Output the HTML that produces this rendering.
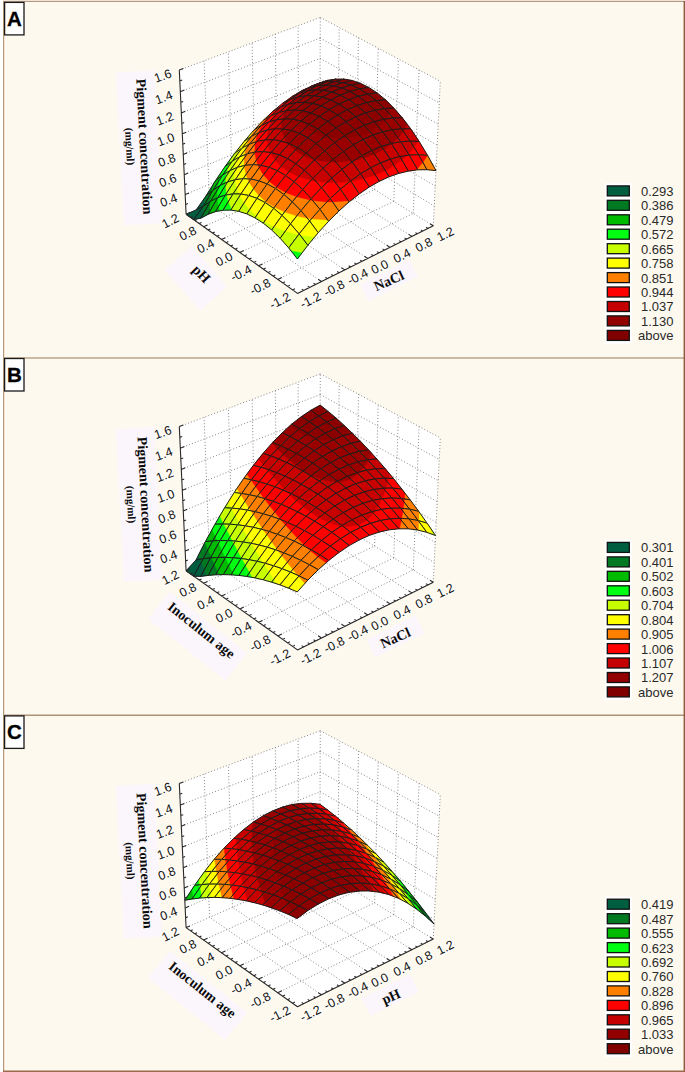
<!DOCTYPE html>
<html><head><meta charset="utf-8"><style>
html,body{margin:0;padding:0;background:#fff}
body{width:685px;height:1072px;overflow:hidden;position:relative}
svg{position:absolute;left:0;top:0}
.d{stroke:#888;stroke-width:1;stroke-dasharray:1 2.1;fill:none}
.a{stroke:#2a2a2a;stroke-width:1.1;fill:none}
.m{fill:none;stroke:#1c1c1c;stroke-width:1;stroke-linejoin:round}
.lb{fill:#FAF6FC}
.tl{font-family:"Liberation Sans",sans-serif;font-size:12.5px;fill:#111;paint-order:stroke;stroke:#fffefa;stroke-width:3px;stroke-linejoin:round;stroke-opacity:.8}
.lg{font-family:"Liberation Sans",sans-serif;font-size:13px;fill:#2a2a2a}
.ax1{font-family:"Liberation Serif",serif;font-weight:bold;font-size:14px;fill:#0a0a0a}
.ax2{font-family:"Liberation Serif",serif;font-weight:bold;font-size:11px;fill:#0a0a0a}
.lab{font-family:"Liberation Sans",sans-serif;font-weight:bold;font-size:20.5px;fill:#000;stroke:#000;stroke-width:.3}
.c0{fill:#005E40;stroke:#005E40;stroke-width:.3}.c1{fill:#007A22;stroke:#007A22;stroke-width:.3}.c2{fill:#00BB00;stroke:#00BB00;stroke-width:.3}.c3{fill:#00FF12;stroke:#00FF12;stroke-width:.3}.c4{fill:#C8FF00;stroke:#C8FF00;stroke-width:.3}.c5{fill:#FFFF00;stroke:#FFFF00;stroke-width:.3}.c6{fill:#FF8000;stroke:#FF8000;stroke-width:.3}.c7{fill:#FF0000;stroke:#FF0000;stroke-width:.3}.c8{fill:#C80000;stroke:#C80000;stroke-width:.3}.c9{fill:#9A0000;stroke:#9A0000;stroke-width:.3}.c10{fill:#8C0000;stroke:#8C0000;stroke-width:.3}.l0{fill:#005E40}.l1{fill:#007A22}.l2{fill:#00BB00}.l3{fill:#00FF12}.l4{fill:#C8FF00}.l5{fill:#FFFF00}.l6{fill:#FF8000}.l7{fill:#FF0000}.l8{fill:#C40000}.l9{fill:#930000}.l10{fill:#800000}
</style></head><body>
<svg width="685" height="1072" viewBox="0 0 685 1072">
<rect x="0" y="0" width="685" height="1072" fill="#fff"/>
<rect x="3.5" y="1.5" width="680.5" height="1069.5" fill="#FEF9EE"/>
<path d="M3.6 1V1072M3 1.3H685" stroke="#B8987A" stroke-width="1.2" fill="none"/>
<line x1="3" y1="357.9" x2="684" y2="357.9" stroke="#BBA68A" stroke-width="1.5"/>
<line x1="3" y1="715.2" x2="684" y2="715.2" stroke="#AE9474" stroke-width="1.5"/>
<line x1="684.3" y1="1" x2="684.3" y2="1072" stroke="#8E5B3D" stroke-width="1.4"/>
<line x1="3" y1="1071.3" x2="685" y2="1071.3" stroke="#9A6A4A" stroke-width="1.4"/>
<rect class="lb" x="119.8" y="71.3" width="38.5" height="153.0" transform="rotate(-3 139.0 147.8)"/>
<rect class="lb" x="169.0" y="260.3" width="54.0" height="36.0" transform="rotate(49 196.0 278.3)"/>
<rect class="lb" x="361.5" y="270.9" width="55.0" height="19.0" transform="rotate(-26.5 389.0 280.4)"/>
<path fill="#fff" d="M186.1 214.3L179.3 70.1L320.3 17.4L440.3 81.3L433.3 225.8L297.5 293.4Z"/>
<path class="d" d="M433.3 225.8L440.3 81.3M297.5 293.4L186.1 214.3M297.5 293.4L433.3 225.8M209.6 204L204.1 60.8M413.3 213.4L419.1 70M321.4 281.5L209.6 204M277.8 279.4L413.3 213.4M232.5 194L228.4 51.8M393.8 201.4L398.4 59M344.8 269.9L232.5 194M258.6 265.8L393.8 201.4M255 184.1L252.1 42.9M374.6 189.6L378.2 48.2M367.7 258.5L255 184.1M239.9 252.5L374.6 189.6M277 174.5L275.3 34.2M355.9 178L358.5 37.7M390 247.4L277 174.5M221.5 239.4L355.9 178M298.6 165L298.1 25.7M337.6 166.8L339.2 27.5M411.9 236.4L298.6 165M203.6 226.7L337.6 166.8M319.7 155.7L320.3 17.4M433.3 225.8L319.7 155.7M186.1 214.3L319.7 155.7M185.2 194.6L319.8 136.8M319.8 136.8L434.3 206.1M184.3 174.7L319.9 117.6M319.9 117.6L435.3 186.1M183.3 154.4L320 98.2M320 98.2L436.2 165.8M182.3 133.8L320.1 78.4M320.1 78.4L437.2 145.1M181.3 112.9L320.1 58.4M320.1 58.4L438.3 124.2M180.3 91.7L320.2 38.1M320.2 38.1L439.3 102.9M179.3 70.1L320.3 17.4M320.3 17.4L440.3 81.3"/>
<g><path class="c8" d="M318.6 83.5L327.9 80.3L320 82.8L310.8 86.4Z"/><path class="m" d="M318.6 83.5L327.9 80.3L320 82.8L310.8 86.4Z"/>
<path class="c8" d="M309.3 87.8L318.6 83.5L310.8 86.4L301.4 90.9Z"/><path class="m" d="M309.3 87.8L318.6 83.5L310.8 86.4L301.4 90.9Z"/>
<path class="c8" d="M326.6 81.9L335.9 79.1L327.9 80.3L318.6 83.5Z"/><path class="c9" d="M326.6 81.9L335.9 79.1L329.5 80.1L319.3 83.4Z"/><path class="m" d="M326.6 81.9L335.9 79.1L327.9 80.3L318.6 83.5Z"/>
<path class="c7" d="M299.8 93.1L309.3 87.8L301.4 90.9L292 96.6Z"/><path class="c8" d="M299.8 93.1L309.3 87.8L301.4 90.9L298.6 92.7L293.3 96.1Z"/><path class="m" d="M299.8 93.1L309.3 87.8L301.4 90.9L292 96.6Z"/>
<path class="c8" d="M317.2 85.8L326.6 81.9L318.6 83.5L309.3 87.8Z"/><path class="c9" d="M317.2 85.8L326.6 81.9L319.3 83.4L310.5 87.5Z"/><path class="m" d="M317.2 85.8L326.6 81.9L318.6 83.5L309.3 87.8Z"/>
<path class="c9" d="M334.7 81.6L344 79.1L335.9 79.1L326.6 81.9Z"/><path class="c10" d="M334.7 81.6L341.9 79.7L333 81.7Z"/><path class="m" d="M334.7 81.6L344 79.1L335.9 79.1L326.6 81.9Z"/>
<path class="c7" d="M290.3 99.5L299.8 93.1L292 96.6L282.5 103.4Z"/><path class="c8" d="M290.3 99.5L299.8 93.1L293.3 96.1L286.4 101.5Z"/><path class="m" d="M290.3 99.5L299.8 93.1L292 96.6L282.5 103.4Z"/>
<path class="c8" d="M307.7 90.9L317.2 85.8L309.3 87.8L299.8 93.1Z"/><path class="c9" d="M307.7 90.9L317.2 85.8L310.5 87.5L302.7 92.3Z"/><path class="m" d="M307.7 90.9L317.2 85.8L309.3 87.8L299.8 93.1Z"/>
<path class="c7" d="M280.7 107.1L290.3 99.5L282.5 103.4L273 111.2Z"/><path class="c8" d="M280.7 107.1L290.3 99.5L286.4 101.5L280.1 107.4Z"/><path class="m" d="M280.7 107.1L290.3 99.5L282.5 103.4L273 111.2Z"/>
<path class="c9" d="M325.2 85.2L334.7 81.6L326.6 81.9L317.2 85.8Z"/><path class="c10" d="M325.2 85.2L334.7 81.6L333 81.7L323.3 85.4Z"/><path class="m" d="M325.2 85.2L334.7 81.6L326.6 81.9L317.2 85.8Z"/>
<path class="c9" d="M342.8 82.7L352.2 80.5L344 79.1L334.7 81.6Z"/><path class="c10" d="M342.8 82.7L352.2 80.5L344.7 79.3L341.9 79.7L334.7 81.6Z"/><path class="m" d="M342.8 82.7L352.2 80.5L344 79.1L334.7 81.6Z"/>
<path class="c8" d="M298.1 97L307.7 90.9L299.8 93.1L290.3 99.5Z"/><path class="c9" d="M298.1 97L307.7 90.9L302.7 92.3L295.8 97.7Z"/><path class="m" d="M298.1 97L307.7 90.9L299.8 93.1L290.3 99.5Z"/>
<path class="c6" d="M271.1 115.7L280.7 107.1L273 111.2L263.5 120.1Z"/><path class="c7" d="M271.1 115.7L280.7 107.1L273 111.2L270.8 113.3L266.6 118.3Z"/><path class="c8" d="M279.3 108.3L280.7 107.1L280.1 107.4Z"/><path class="m" d="M271.1 115.7L280.7 107.1L273 111.2L263.5 120.1Z"/>
<path class="c9" d="M315.7 89.9L325.2 85.2L317.2 85.8L307.7 90.9Z"/><path class="c10" d="M315.7 89.9L325.2 85.2L323.3 85.4L315 90Z"/><path class="m" d="M315.7 89.9L325.2 85.2L317.2 85.8L307.7 90.9Z"/>
<path class="c10" d="M333.4 85.9L342.8 82.7L334.7 81.6L325.2 85.2Z"/><path class="m" d="M333.4 85.9L342.8 82.7L334.7 81.6L325.2 85.2Z"/>
<path class="c8" d="M288.5 104.2L298.1 97L290.3 99.5L280.7 107.1Z"/><path class="c9" d="M291.9 101.6L298.1 97L295.8 97.7Z"/><path class="m" d="M288.5 104.2L298.1 97L290.3 99.5L280.7 107.1Z"/>
<path class="c10" d="M351.1 85.1L360.4 83.3L352.2 80.5L342.8 82.7Z"/><path class="m" d="M351.1 85.1L360.4 83.3L352.2 80.5L342.8 82.7Z"/>
<path class="c5" d="M261.4 125.4L271.1 115.7L263.5 120.1L253.9 130.1Z"/><path class="c6" d="M261.4 125.4L271.1 115.7L263.5 120.1L254.7 129.3L254.3 129.9Z"/><path class="c7" d="M261.9 124.9L271.1 115.7L266.6 118.3Z"/><path class="m" d="M261.4 125.4L271.1 115.7L263.5 120.1L253.9 130.1Z"/>
<path class="c9" d="M306.1 95.7L315.7 89.9L307.7 90.9L298.1 97Z"/><path class="c10" d="M313.3 91.3L315.7 89.9L315 90Z"/><path class="m" d="M306.1 95.7L315.7 89.9L307.7 90.9L298.1 97Z"/>
<path class="c7" d="M278.8 112.5L288.5 104.2L280.7 107.1L271.1 115.7Z"/><path class="c8" d="M278.8 112.5L288.5 104.2L280.7 107.1L279.3 108.3L274.9 114.1Z"/><path class="m" d="M278.8 112.5L288.5 104.2L280.7 107.1L271.1 115.7Z"/>
<path class="c10" d="M323.8 90.3L333.4 85.9L325.2 85.2L315.7 89.9Z"/><path class="m" d="M323.8 90.3L333.4 85.9L325.2 85.2L315.7 89.9Z"/>
<path class="c5" d="M251.7 136.2L261.4 125.4L253.9 130.1L244.3 141.2Z"/><path class="c6" d="M251.7 136.2L261.4 125.4L254.3 129.9L250 137.4Z"/><path class="m" d="M251.7 136.2L261.4 125.4L253.9 130.1L244.3 141.2Z"/>
<path class="c10" d="M341.6 88L351.1 85.1L342.8 82.7L333.4 85.9Z"/><path class="m" d="M341.6 88L351.1 85.1L342.8 82.7L333.4 85.9Z"/>
<path class="c10" d="M359.4 88.9L368.7 87.4L360.4 83.3L351.1 85.1Z"/><path class="m" d="M359.4 88.9L368.7 87.4L360.4 83.3L351.1 85.1Z"/>
<path class="c8" d="M296.4 102.6L306.1 95.7L298.1 97L288.5 104.2Z"/><path class="c9" d="M296.4 102.6L306.1 95.7L298.1 97L291.9 101.6L289.9 103.9Z"/><path class="m" d="M296.4 102.6L306.1 95.7L298.1 97L288.5 104.2Z"/>
<path class="c4" d="M242 148.1L251.7 136.2L244.3 141.2L234.7 153.3Z"/><path class="c5" d="M242 148.1L251.7 136.2L244.3 141.2L242.2 143.8L239.2 150.1Z"/><path class="c6" d="M248.8 139.7L251.7 136.2L250 137.4Z"/><path class="m" d="M242 148.1L251.7 136.2L244.3 141.2L234.7 153.3Z"/>
<path class="c6" d="M269.1 121.9L278.8 112.5L271.1 115.7L261.4 125.4Z"/><path class="c7" d="M269.1 121.9L278.8 112.5L271.1 115.7L261.9 124.9L261.7 125.3Z"/><path class="c8" d="M271.7 119.4L278.8 112.5L274.9 114.1Z"/><path class="m" d="M269.1 121.9L278.8 112.5L271.1 115.7L261.4 125.4Z"/>
<path class="c9" d="M314.2 95.8L323.8 90.3L315.7 89.9L306.1 95.7Z"/><path class="c10" d="M314.2 95.8L323.8 90.3L315.7 89.9L313.3 91.3L308.5 95.7Z"/><path class="m" d="M314.2 95.8L323.8 90.3L315.7 89.9L306.1 95.7Z"/>
<path class="c10" d="M332 92L341.6 88L333.4 85.9L323.8 90.3Z"/><path class="m" d="M332 92L341.6 88L333.4 85.9L323.8 90.3Z"/>
<path class="c3" d="M232.3 161.1L242 148.1L234.7 153.3L225 166.6Z"/><path class="c4" d="M232.3 161.1L242 148.1L234.7 153.3L231.6 157.6L229.3 163.3Z"/><path class="c5" d="M237.8 153.8L242 148.1L239.2 150.1Z"/><path class="m" d="M232.3 161.1L242 148.1L234.7 153.3L225 166.6Z"/>
<path class="c8" d="M286.7 110.6L296.4 102.6L288.5 104.2L278.8 112.5Z"/><path class="c9" d="M286.7 110.6L296.4 102.6L289.9 103.9L285.3 110.9Z"/><path class="m" d="M286.7 110.6L296.4 102.6L288.5 104.2L278.8 112.5Z"/>
<path class="c10" d="M349.9 91.5L359.4 88.9L351.1 85.1L341.6 88Z"/><path class="m" d="M349.9 91.5L359.4 88.9L351.1 85.1L341.6 88Z"/>
<path class="c6" d="M259.3 132.5L269.1 121.9L261.4 125.4L251.7 136.2Z"/><path class="c7" d="M259.3 132.5L269.1 121.9L261.7 125.3L257.9 133.1Z"/><path class="m" d="M259.3 132.5L269.1 121.9L261.4 125.4L251.7 136.2Z"/>
<path class="c10" d="M367.7 94.1L377.1 92.9L368.7 87.4L359.4 88.9Z"/><path class="m" d="M367.7 94.1L377.1 92.9L368.7 87.4L359.4 88.9Z"/>
<path class="c9" d="M304.5 102.3L314.2 95.8L306.1 95.7L296.4 102.6Z"/><path class="c10" d="M304.5 102.3L314.2 95.8L308.5 95.7L303.4 102.4Z"/><path class="m" d="M304.5 102.3L314.2 95.8L306.1 95.7L296.4 102.6Z"/>
<path class="c2" d="M222.6 175.1L232.3 161.1L225 166.6L215.4 180.8Z"/><path class="c3" d="M222.6 175.1L232.3 161.1L225 166.6L222.1 170.9L220.1 177.1Z"/><path class="c4" d="M228 167.3L232.3 161.1L229.3 163.3Z"/><path class="m" d="M222.6 175.1L232.3 161.1L225 166.6L215.4 180.8Z"/>
<path class="c7" d="M276.9 119.7L286.7 110.6L278.8 112.5L269.1 121.9Z"/><path class="c8" d="M276.9 119.7L286.7 110.6L278.8 112.5L271.7 119.4L270.7 121.5Z"/><path class="c9" d="M284.4 112.7L286.7 110.6L285.3 110.9Z"/><path class="m" d="M276.9 119.7L286.7 110.6L278.8 112.5L269.1 121.9Z"/>
<path class="c5" d="M249.6 144.1L259.3 132.5L251.7 136.2L242 148.1Z"/><path class="c6" d="M249.6 144.1L259.3 132.5L251.7 136.2L248.8 139.7L246.6 145.6Z"/><path class="c7" d="M257.3 134.9L259.3 132.5L257.9 133.1Z"/><path class="m" d="M249.6 144.1L259.3 132.5L251.7 136.2L242 148.1Z"/>
<path class="c10" d="M322.4 97.2L332 92L323.8 90.3L314.2 95.8Z"/><path class="m" d="M322.4 97.2L332 92L323.8 90.3L314.2 95.8Z"/>
<path class="c1" d="M213 190.2L222.6 175.1L215.4 180.8L205.9 196.1Z"/><path class="c2" d="M213 190.2L222.6 175.1L215.4 180.8L213.5 183.9L211.5 191.4Z"/><path class="c3" d="M219.2 180.5L222.6 175.1L220.1 177.1Z"/><path class="m" d="M213 190.2L222.6 175.1L215.4 180.8L205.9 196.1Z"/>
<path class="c10" d="M340.3 95.2L349.9 91.5L341.6 88L332 92Z"/><path class="m" d="M340.3 95.2L349.9 91.5L341.6 88L332 92Z"/>
<path class="c10" d="M358.3 96.3L367.7 94.1L359.4 88.9L349.9 91.5Z"/><path class="m" d="M358.3 96.3L367.7 94.1L359.4 88.9L349.9 91.5Z"/>
<path class="c10" d="M376.1 100.6L385.5 99.8L377.1 92.9L367.7 94.1Z"/><path class="m" d="M376.1 100.6L385.5 99.8L377.1 92.9L367.7 94.1Z"/>
<path class="c9" d="M294.7 110L304.5 102.3L296.4 102.6L286.7 110.6Z"/><path class="c10" d="M302.7 103.7L304.5 102.3L303.4 102.4Z"/><path class="m" d="M294.7 110L304.5 102.3L296.4 102.6L286.7 110.6Z"/>
<path class="c4" d="M239.8 156.8L249.6 144.1L242 148.1L232.3 161.1Z"/><path class="c5" d="M239.8 156.8L249.6 144.1L242 148.1L237.8 153.8L236.3 158.8Z"/><path class="c6" d="M245.5 149.3L249.6 144.1L246.6 145.6Z"/><path class="m" d="M239.8 156.8L249.6 144.1L242 148.1L232.3 161.1Z"/>
<path class="c0" d="M203.3 206.3L213 190.2L205.9 196.1L196.2 209.9Z"/><path class="c1" d="M203.6 205.9L213 190.2L205.9 196.1L205.6 196.5Z"/><path class="c2" d="M211.1 193.3L213 190.2L211.5 191.4Z"/><path class="m" d="M203.3 206.3L213 190.2L205.9 196.1L196.2 209.9Z"/>
<path class="c7" d="M267.1 130L276.9 119.7L269.1 121.9L259.3 132.5Z"/><path class="c8" d="M267.9 129.1L276.9 119.7L270.7 121.5Z"/><path class="m" d="M267.1 130L276.9 119.7L269.1 121.9L259.3 132.5Z"/>
<path class="c10" d="M312.6 103.4L322.4 97.2L314.2 95.8L304.5 102.3Z"/><path class="m" d="M312.6 103.4L322.4 97.2L314.2 95.8L304.5 102.3Z"/>
<path class="c3" d="M230 170.6L239.8 156.8L232.3 161.1L222.6 175.1Z"/><path class="c4" d="M230 170.6L239.8 156.8L232.3 161.1L228 167.3L226.8 172.5Z"/><path class="c5" d="M235.3 163.1L239.8 156.8L236.3 158.8Z"/><path class="m" d="M230 170.6L239.8 156.8L232.3 161.1L222.6 175.1Z"/>
<path class="c10" d="M330.6 100L340.3 95.2L332 92L322.4 97.2Z"/><path class="m" d="M330.6 100L340.3 95.2L332 92L322.4 97.2Z"/>
<path class="c0" d="M193.6 219.6L203.3 206.3L196.2 209.9L186.1 214.3Z"/><path class="m" d="M193.6 219.6L203.3 206.3L196.2 209.9L186.1 214.3Z"/>
<path class="c8" d="M284.9 118.9L294.7 110L286.7 110.6L276.9 119.7Z"/><path class="c9" d="M284.9 118.9L294.7 110L286.7 110.6L284.4 112.7L282.3 119.1Z"/><path class="m" d="M284.9 118.9L294.7 110L286.7 110.6L276.9 119.7Z"/>
<path class="c9" d="M384.6 108.6L393.9 108.1L385.5 99.8L376.1 100.6Z"/><path class="c10" d="M384.6 108.6L390.7 108.3L391 105.2L385.5 99.8L376.1 100.6Z"/><path class="m" d="M384.6 108.6L393.9 108.1L385.5 99.8L376.1 100.6Z"/>
<path class="c10" d="M348.7 99.7L358.3 96.3L349.9 91.5L340.3 95.2Z"/><path class="m" d="M348.7 99.7L358.3 96.3L349.9 91.5L340.3 95.2Z"/>
<path class="c6" d="M257.2 141.3L267.1 130L259.3 132.5L249.6 144.1Z"/><path class="c7" d="M257.2 141.3L267.1 130L259.3 132.5L257.3 134.9L255.4 142Z"/><path class="m" d="M257.2 141.3L267.1 130L259.3 132.5L249.6 144.1Z"/>
<path class="c10" d="M366.7 102.6L376.1 100.6L367.7 94.1L358.3 96.3Z"/><path class="m" d="M366.7 102.6L376.1 100.6L367.7 94.1L358.3 96.3Z"/>
<path class="c2" d="M220.2 185.4L230 170.6L222.6 175.1L213 190.2Z"/><path class="c3" d="M220.2 185.4L230 170.6L222.6 175.1L219.2 180.5L218 186.9Z"/><path class="c4" d="M226.1 176.5L230 170.6L226.8 172.5Z"/><path class="m" d="M220.2 185.4L230 170.6L222.6 175.1L213 190.2Z"/>
<path class="c9" d="M302.8 110.8L312.6 103.4L304.5 102.3L294.7 110Z"/><path class="c10" d="M302.8 110.8L312.6 103.4L304.5 102.3L302.7 103.7L300.7 110.6Z"/><path class="m" d="M302.8 110.8L312.6 103.4L304.5 102.3L294.7 110Z"/>
<path class="c5" d="M247.4 153.8L257.2 141.3L249.6 144.1L239.8 156.8Z"/><path class="c6" d="M247.4 153.8L257.2 141.3L249.6 144.1L245.5 149.3L244.5 154.9Z"/><path class="c7" d="M255.1 144.1L257.2 141.3L255.4 142Z"/><path class="m" d="M247.4 153.8L257.2 141.3L249.6 144.1L239.8 156.8Z"/>
<path class="c7" d="M275 128.8L284.9 118.9L276.9 119.7L267.1 130Z"/><path class="c8" d="M275 128.8L284.9 118.9L276.9 119.7L267.9 129.1L267.7 129.9Z"/><path class="c9" d="M281.7 122L284.9 118.9L282.3 119.1Z"/><path class="m" d="M275 128.8L284.9 118.9L276.9 119.7L267.1 130Z"/>
<path class="c10" d="M320.9 105.9L330.6 100L322.4 97.2L312.6 103.4Z"/><path class="m" d="M320.9 105.9L330.6 100L322.4 97.2L312.6 103.4Z"/>
<path class="c0" d="M210.5 201.3L220.2 185.4L213 190.2L203.3 206.3Z"/><path class="c1" d="M210.5 201.3L220.2 185.4L213 190.2L203.6 205.9L203.5 206.1Z"/><path class="c2" d="M210.5 201.3L220.2 185.4L213 190.2L211.1 193.3L210 201.7Z"/><path class="c3" d="M217.7 189.6L220.2 185.4L218 186.9Z"/><path class="m" d="M210.5 201.3L220.2 185.4L213 190.2L203.3 206.3Z"/>
<path class="c9" d="M393.1 118L402.3 117.8L393.9 108.1L384.6 108.6Z"/><path class="c10" d="M390.7 108.3L384.6 108.6L388.9 113.4Z"/><path class="m" d="M393.1 118L402.3 117.8L393.9 108.1L384.6 108.6Z"/>
<path class="c10" d="M339 104.1L348.7 99.7L340.3 95.2L330.6 100Z"/><path class="m" d="M339 104.1L348.7 99.7L340.3 95.2L330.6 100Z"/>
<path class="c10" d="M375.2 110.2L384.6 108.6L376.1 100.6L366.7 102.6Z"/><path class="m" d="M375.2 110.2L384.6 108.6L376.1 100.6L366.7 102.6Z"/>
<path class="c10" d="M357.1 105.6L366.7 102.6L358.3 96.3L348.7 99.7Z"/><path class="m" d="M357.1 105.6L366.7 102.6L358.3 96.3L348.7 99.7Z"/>
<path class="c9" d="M292.9 119.3L302.8 110.8L294.7 110L284.9 118.9Z"/><path class="c10" d="M300.4 112.8L302.8 110.8L300.7 110.6Z"/><path class="m" d="M292.9 119.3L302.8 110.8L294.7 110L284.9 118.9Z"/>
<path class="c4" d="M237.5 167.3L247.4 153.8L239.8 156.8L230 170.6Z"/><path class="c5" d="M237.5 167.3L247.4 153.8L239.8 156.8L235.3 163.1L234.6 168.6Z"/><path class="c6" d="M244.1 158.2L247.4 153.8L244.5 154.9Z"/><path class="m" d="M237.5 167.3L247.4 153.8L239.8 156.8L230 170.6Z"/>
<path class="c0" d="M200.8 218.2L210.5 201.3L203.3 206.3L193.6 219.6Z"/><path class="c1" d="M202.8 214.9L210.5 201.3L203.5 206.1Z"/><path class="c2" d="M209.9 202.4L210.5 201.3L210 201.7Z"/><path class="m" d="M200.8 218.2L210.5 201.3L203.3 206.3L193.6 219.6Z"/>
<path class="c7" d="M265.1 139.9L275 128.8L267.1 130L257.2 141.3Z"/><path class="c8" d="M266.9 137.8L275 128.8L267.7 129.9Z"/><path class="m" d="M265.1 139.9L275 128.8L267.1 130L257.2 141.3Z"/>
<path class="c10" d="M311 112.9L320.9 105.9L312.6 103.4L302.8 110.8Z"/><path class="m" d="M311 112.9L320.9 105.9L312.6 103.4L302.8 110.8Z"/>
<path class="c3" d="M227.7 181.9L237.5 167.3L230 170.6L220.2 185.4Z"/><path class="c4" d="M227.7 181.9L237.5 167.3L230 170.6L226.1 176.5L225.6 182.9Z"/><path class="c5" d="M234.4 171.9L237.5 167.3L234.6 168.6Z"/><path class="m" d="M227.7 181.9L237.5 167.3L230 170.6L220.2 185.4Z"/>
<path class="c8" d="M401.6 128.8L410.8 128.9L402.3 117.8L393.1 118Z"/><path class="c9" d="M401.6 128.8L405 128.9L407.1 124.1L402.3 117.8L393.1 118Z"/><path class="m" d="M401.6 128.8L410.8 128.9L402.3 117.8L393.1 118Z"/>
<path class="c10" d="M329.2 109.7L339 104.1L330.6 100L320.9 105.9Z"/><path class="m" d="M329.2 109.7L339 104.1L330.6 100L320.9 105.9Z"/>
<path class="c8" d="M283 129L292.9 119.3L284.9 118.9L275 128.8Z"/><path class="c9" d="M283 129L292.9 119.3L284.9 118.9L281.7 122L281.6 128.9Z"/><path class="m" d="M283 129L292.9 119.3L284.9 118.9L275 128.8Z"/>
<path class="c9" d="M383.7 119.3L393.1 118L384.6 108.6L375.2 110.2Z"/><path class="c10" d="M383.7 119.3L385.8 119L388.9 113.4L384.6 108.6L375.2 110.2Z"/><path class="m" d="M383.7 119.3L393.1 118L384.6 108.6L375.2 110.2Z"/>
<path class="c6" d="M255.2 152L265.1 139.9L257.2 141.3L247.4 153.8Z"/><path class="c7" d="M255.2 152L265.1 139.9L257.2 141.3L255.1 144.1L254.7 152.1Z"/><path class="m" d="M255.2 152L265.1 139.9L257.2 141.3L247.4 153.8Z"/>
<path class="c10" d="M347.4 109.7L357.1 105.6L348.7 99.7L339 104.1Z"/><path class="m" d="M347.4 109.7L357.1 105.6L348.7 99.7L339 104.1Z"/>
<path class="c10" d="M365.6 112.9L375.2 110.2L366.7 102.6L357.1 105.6Z"/><path class="m" d="M365.6 112.9L375.2 110.2L366.7 102.6L357.1 105.6Z"/>
<path class="c2" d="M217.9 197.6L227.7 181.9L220.2 185.4L210.5 201.3Z"/><path class="c3" d="M217.9 197.6L227.7 181.9L220.2 185.4L217.7 189.6L217.5 197.8Z"/><path class="c4" d="M225.6 185.2L227.7 181.9L225.6 182.9Z"/><path class="m" d="M217.9 197.6L227.7 181.9L220.2 185.4L210.5 201.3Z"/>
<path class="c9" d="M301.1 121.1L311 112.9L302.8 110.8L292.9 119.3Z"/><path class="c10" d="M301.7 120.7L311 112.9L302.8 110.8L300.4 112.8Z"/><path class="m" d="M301.1 121.1L311 112.9L302.8 110.8L292.9 119.3Z"/>
<path class="c5" d="M245.2 165.3L255.2 152L247.4 153.8L237.5 167.3Z"/><path class="c6" d="M245.2 165.3L255.2 152L247.4 153.8L244.1 158.2L244.2 165.6Z"/><path class="c7" d="M254.7 152.6L255.2 152L254.7 152.1Z"/><path class="m" d="M245.2 165.3L255.2 152L247.4 153.8L237.5 167.3Z"/>
<path class="c7" d="M410 141.1L419.2 141.5L410.8 128.9L401.6 128.8Z"/><path class="c8" d="M410 141.1L417.9 141.4L418.5 140.4L410.8 128.9L401.6 128.8Z"/><path class="c9" d="M405 128.9L401.6 128.8L403.4 131.5Z"/><path class="m" d="M410 141.1L419.2 141.5L410.8 128.9L401.6 128.8Z"/>
<path class="c7" d="M273 139.7L283 129L275 128.8L265.1 139.9Z"/><path class="c8" d="M273 139.7L283 129L275 128.8L266.9 137.8L267 139.8Z"/><path class="c9" d="M281.7 130.3L283 129L281.6 128.9Z"/><path class="m" d="M273 139.7L283 129L275 128.8L265.1 139.9Z"/>
<path class="c0" d="M208.1 214.3L217.9 197.6L210.5 201.3L200.8 218.2Z"/><path class="c1" d="M208.1 214.3L217.9 197.6L210.5 201.3L202.8 214.9L202.8 217.2Z"/><path class="c2" d="M210 211L217.9 197.6L210.5 201.3L209.9 202.4Z"/><path class="c3" d="M217.5 198.3L217.9 197.6L217.5 197.8Z"/><path class="m" d="M208.1 214.3L217.9 197.6L210.5 201.3L200.8 218.2Z"/>
<path class="c10" d="M319.3 116.5L329.2 109.7L320.9 105.9L311 112.9Z"/><path class="m" d="M319.3 116.5L329.2 109.7L320.9 105.9L311 112.9Z"/>
<path class="c9" d="M392.2 129.8L401.6 128.8L393.1 118L383.7 119.3Z"/><path class="c10" d="M385.8 119L383.7 119.3L384.6 120.5Z"/><path class="m" d="M392.2 129.8L401.6 128.8L393.1 118L383.7 119.3Z"/>
<path class="c10" d="M337.6 115L347.4 109.7L339 104.1L329.2 109.7Z"/><path class="m" d="M337.6 115L347.4 109.7L339 104.1L329.2 109.7Z"/>
<path class="c10" d="M374.1 121.7L383.7 119.3L375.2 110.2L365.6 112.9Z"/><path class="m" d="M374.1 121.7L383.7 119.3L375.2 110.2L365.6 112.9Z"/>
<path class="c10" d="M355.9 116.8L365.6 112.9L357.1 105.6L347.4 109.7Z"/><path class="m" d="M355.9 116.8L365.6 112.9L357.1 105.6L347.4 109.7Z"/>
<path class="c4" d="M235.3 179.7L245.2 165.3L237.5 167.3L227.7 181.9Z"/><path class="c5" d="M235.3 179.7L245.2 165.3L237.5 167.3L234.4 171.9L234.8 179.8Z"/><path class="c6" d="M244.3 166.7L245.2 165.3L244.2 165.6Z"/><path class="m" d="M235.3 179.7L245.2 165.3L237.5 167.3L227.7 181.9Z"/>
<path class="c9" d="M291.1 130.5L301.1 121.1L292.9 119.3L283 129Z"/><path class="m" d="M291.1 130.5L301.1 121.1L292.9 119.3L283 129Z"/>
<path class="c7" d="M263.1 151.6L273 139.7L265.1 139.9L255.2 152Z"/><path class="c8" d="M267.9 145.8L273 139.7L267 139.8Z"/><path class="m" d="M263.1 151.6L273 139.7L265.1 139.9L255.2 152Z"/>
<path class="c7" d="M418.5 154.7L427.6 155.4L419.2 141.5L410 141.1Z"/><path class="c8" d="M417.9 141.4L410 141.1L414 147.4Z"/><path class="m" d="M418.5 154.7L427.6 155.4L419.2 141.5L410 141.1Z"/>
<path class="c9" d="M309.4 124.4L319.3 116.5L311 112.9L301.1 121.1Z"/><path class="c10" d="M309.4 124.4L319.3 116.5L311 112.9L301.7 120.7L302.3 121.6Z"/><path class="m" d="M309.4 124.4L319.3 116.5L311 112.9L301.1 121.1Z"/>
<path class="c3" d="M225.4 195.1L235.3 179.7L227.7 181.9L217.9 197.6Z"/><path class="c4" d="M226.4 193.6L235.3 179.7L227.7 181.9L225.6 185.2Z"/><path class="c5" d="M234.9 180.3L235.3 179.7L234.8 179.8Z"/><path class="m" d="M225.4 195.1L235.3 179.7L227.7 181.9L217.9 197.6Z"/>
<path class="c8" d="M400.7 141.8L410 141.1L401.6 128.8L392.2 129.8Z"/><path class="c9" d="M403.4 131.5L401.6 128.8L392.2 129.8L398.1 138.1Z"/><path class="m" d="M400.7 141.8L410 141.1L401.6 128.8L392.2 129.8Z"/>
<path class="c10" d="M327.7 121.4L337.6 115L329.2 109.7L319.3 116.5Z"/><path class="m" d="M327.7 121.4L337.6 115L329.2 109.7L319.3 116.5Z"/>
<path class="c8" d="M281.1 141L291.1 130.5L283 129L273 139.7Z"/><path class="c9" d="M284.2 137.8L291.1 130.5L283 129L281.7 130.3Z"/><path class="m" d="M281.1 141L291.1 130.5L283 129L273 139.7Z"/>
<path class="c6" d="M253.1 164.6L263.1 151.6L255.2 152L245.2 165.3Z"/><path class="c7" d="M256.2 160.5L263.1 151.6L255.2 152L254.7 152.6Z"/><path class="m" d="M253.1 164.6L263.1 151.6L255.2 152L245.2 165.3Z"/>
<path class="c9" d="M382.7 131.9L392.2 129.8L383.7 119.3L374.1 121.7Z"/><path class="c10" d="M384.6 120.5L383.7 119.3L374.1 121.7L378.1 126.4Z"/><path class="m" d="M382.7 131.9L392.2 129.8L383.7 119.3L374.1 121.7Z"/>
<path class="c10" d="M346.1 121.7L355.9 116.8L347.4 109.7L337.6 115Z"/><path class="m" d="M346.1 121.7L355.9 116.8L347.4 109.7L337.6 115Z"/>
<path class="c10" d="M364.4 125.2L374.1 121.7L365.6 112.9L355.9 116.8Z"/><path class="m" d="M364.4 125.2L374.1 121.7L365.6 112.9L355.9 116.8Z"/>
<path class="c1" d="M215.5 211.6L225.4 195.1L217.9 197.6L208.1 214.3Z"/><path class="c2" d="M215.5 211.6L225.4 195.1L217.9 197.6L210 211L210.3 213.5Z"/><path class="c3" d="M218.5 206.5L225.4 195.1L217.9 197.6L217.5 198.3Z"/><path class="m" d="M215.5 211.6L225.4 195.1L217.9 197.6L208.1 214.3Z"/>
<path class="c5" d="M426.9 169.7L436 170.6L427.6 155.4L418.5 154.7Z"/><path class="c6" d="M426.9 169.7L435 170.5L435.5 169.8L427.6 155.4L418.5 154.7Z"/><path class="c7" d="M427.7 155.4L427.6 155.4L418.5 154.7L422.8 162.4Z"/><path class="m" d="M426.9 169.7L436 170.6L427.6 155.4L418.5 154.7Z"/>
<path class="c9" d="M299.4 133.4L309.4 124.4L301.1 121.1L291.1 130.5Z"/><path class="c10" d="M306.2 127.2L309.4 124.4L302.3 121.6Z"/><path class="m" d="M299.4 133.4L309.4 124.4L301.1 121.1L291.1 130.5Z"/>
<path class="c5" d="M243.1 178.7L253.1 164.6L245.2 165.3L235.3 179.7Z"/><path class="c6" d="M246 174.6L253.1 164.6L245.2 165.3L244.3 166.7Z"/><path class="m" d="M243.1 178.7L253.1 164.6L245.2 165.3L235.3 179.7Z"/>
<path class="c7" d="M409.2 155.1L418.5 154.7L410 141.1L400.7 141.8Z"/><path class="c8" d="M414 147.4L410 141.1L400.7 141.8L408.5 154.1Z"/><path class="m" d="M409.2 155.1L418.5 154.7L410 141.1L400.7 141.8Z"/>
<path class="c7" d="M271.1 152.6L281.1 141L273 139.7L263.1 151.6Z"/><path class="c8" d="M271.1 152.6L281.1 141L273 139.7L267.9 145.8L270.1 152.4Z"/><path class="m" d="M271.1 152.6L281.1 141L273 139.7L263.1 151.6Z"/>
<path class="c10" d="M317.8 129L327.7 121.4L319.3 116.5L309.4 124.4Z"/><path class="m" d="M317.8 129L327.7 121.4L319.3 116.5L309.4 124.4Z"/>
<path class="c8" d="M391.2 143.5L400.7 141.8L392.2 129.8L382.7 131.9Z"/><path class="c9" d="M391.2 143.5L392.8 143.2L398.1 138.1L392.2 129.8L382.7 131.9Z"/><path class="m" d="M391.2 143.5L400.7 141.8L392.2 129.8L382.7 131.9Z"/>
<path class="c10" d="M336.2 127.8L346.1 121.7L337.6 115L327.7 121.4Z"/><path class="m" d="M336.2 127.8L346.1 121.7L337.6 115L327.7 121.4Z"/>
<path class="c9" d="M373 135.1L382.7 131.9L374.1 121.7L364.4 125.2Z"/><path class="c10" d="M378.1 126.4L374.1 121.7L364.4 125.2L369.9 131.6Z"/><path class="m" d="M373 135.1L382.7 131.9L374.1 121.7L364.4 125.2Z"/>
<path class="c10" d="M354.7 129.9L364.4 125.2L355.9 116.8L346.1 121.7Z"/><path class="m" d="M354.7 129.9L364.4 125.2L355.9 116.8L346.1 121.7Z"/>
<path class="c3" d="M233.1 193.9L243.1 178.7L235.3 179.7L225.4 195.1Z"/><path class="c4" d="M233.1 193.9L243.1 178.7L235.3 179.7L226.4 193.6L226.7 194.9Z"/><path class="c5" d="M236.8 188.2L243.1 178.7L235.3 179.7L234.9 180.3Z"/><path class="m" d="M233.1 193.9L243.1 178.7L235.3 179.7L225.4 195.1Z"/>
<path class="c8" d="M289.3 143.6L299.4 133.4L291.1 130.5L281.1 141Z"/><path class="c9" d="M289.3 143.6L299.4 133.4L291.1 130.5L284.2 137.8L287.3 142.9Z"/><path class="m" d="M289.3 143.6L299.4 133.4L291.1 130.5L281.1 141Z"/>
<path class="c6" d="M261 165.3L271.1 152.6L263.1 151.6L253.1 164.6Z"/><path class="c7" d="M261 165.3L271.1 152.6L263.1 151.6L256.2 160.5L257.8 165Z"/><path class="c8" d="M270.5 153.3L271.1 152.6L270.1 152.4Z"/><path class="m" d="M261 165.3L271.1 152.6L263.1 151.6L253.1 164.6Z"/>
<path class="c6" d="M417.7 169.8L426.9 169.7L418.5 154.7L409.2 155.1Z"/><path class="c7" d="M422.8 162.4L418.5 154.7L409.2 155.1L417.2 169Z"/><path class="m" d="M417.7 169.8L426.9 169.7L418.5 154.7L409.2 155.1Z"/>
<path class="c9" d="M307.8 137.7L317.8 129L309.4 124.4L299.4 133.4Z"/><path class="c10" d="M313.4 132.8L317.8 129L309.4 124.4L306.2 127.2Z"/><path class="m" d="M307.8 137.7L317.8 129L309.4 124.4L299.4 133.4Z"/>
<path class="c2" d="M223.1 210.2L233.1 193.9L225.4 195.1L215.5 211.6Z"/><path class="c3" d="M223.1 210.2L233.1 193.9L225.4 195.1L218.5 206.5L219.6 210.8Z"/><path class="c4" d="M228.4 201.5L233.1 193.9L226.7 194.9Z"/><path class="m" d="M223.1 210.2L233.1 193.9L225.4 195.1L215.5 211.6Z"/>
<path class="c7" d="M399.8 156.6L409.2 155.1L400.7 141.8L391.2 143.5Z"/><path class="c8" d="M399.8 156.6L407.1 155.4L408.5 154.1L400.7 141.8L391.2 143.5Z"/><path class="c9" d="M392.8 143.2L391.2 143.5L391.7 144.2Z"/><path class="m" d="M399.8 156.6L409.2 155.1L400.7 141.8L391.2 143.5Z"/>
<path class="c10" d="M326.2 135.1L336.2 127.8L327.7 121.4L317.8 129Z"/><path class="m" d="M326.2 135.1L336.2 127.8L327.7 121.4L317.8 129Z"/>
<path class="c8" d="M279.3 154.9L289.3 143.6L281.1 141L271.1 152.6Z"/><path class="c9" d="M288.5 144.6L289.3 143.6L287.3 142.9Z"/><path class="m" d="M279.3 154.9L289.3 143.6L281.1 141L271.1 152.6Z"/>
<path class="c5" d="M251 179.1L261 165.3L253.1 164.6L243.1 178.7Z"/><path class="c6" d="M251 179.1L261 165.3L253.1 164.6L246 174.6L247.7 178.9Z"/><path class="c7" d="M259.1 168L261 165.3L257.8 165Z"/><path class="m" d="M251 179.1L261 165.3L253.1 164.6L243.1 178.7Z"/>
<path class="c9" d="M381.6 146.4L391.2 143.5L382.7 131.9L373 135.1Z"/><path class="m" d="M381.6 146.4L391.2 143.5L382.7 131.9L373 135.1Z"/>
<path class="c10" d="M344.8 135.6L354.7 129.9L346.1 121.7L336.2 127.8Z"/><path class="m" d="M344.8 135.6L354.7 129.9L346.1 121.7L336.2 127.8Z"/>
<path class="c9" d="M363.2 139.4L373 135.1L364.4 125.2L354.7 129.9Z"/><path class="c10" d="M369.9 131.6L364.4 125.2L354.7 129.9L359.9 135.7Z"/><path class="m" d="M363.2 139.4L373 135.1L364.4 125.2L354.7 129.9Z"/>
<path class="c9" d="M297.7 147.6L307.8 137.7L299.4 133.4L289.3 143.6Z"/><path class="m" d="M297.7 147.6L307.8 137.7L299.4 133.4L289.3 143.6Z"/>
<path class="c4" d="M240.9 194L251 179.1L243.1 178.7L233.1 193.9Z"/><path class="c5" d="M240.9 194L251 179.1L243.1 178.7L236.8 188.2L239.1 194Z"/><path class="c6" d="M249 182L251 179.1L247.7 178.9Z"/><path class="m" d="M240.9 194L251 179.1L243.1 178.7L233.1 193.9Z"/>
<path class="c6" d="M408.3 171.1L417.7 169.8L409.2 155.1L399.8 156.6Z"/><path class="c7" d="M408.3 171.1L416.1 170.1L417.2 169L409.2 155.1L399.8 156.6Z"/><path class="c8" d="M407.1 155.4L399.8 156.6L401.8 160.1Z"/><path class="m" d="M408.3 171.1L417.7 169.8L409.2 155.1L399.8 156.6Z"/>
<path class="c7" d="M269.1 167.3L279.3 154.9L271.1 152.6L261 165.3Z"/><path class="c8" d="M275 160.1L279.3 154.9L271.1 152.6L270.5 153.3Z"/><path class="m" d="M269.1 167.3L279.3 154.9L271.1 152.6L261 165.3Z"/>
<path class="c9" d="M316.2 143.5L326.2 135.1L317.8 129L307.8 137.7Z"/><path class="c10" d="M323.9 137.1L326.2 135.1L317.8 129L313.4 132.8Z"/><path class="m" d="M316.2 143.5L326.2 135.1L317.8 129L307.8 137.7Z"/>
<path class="c8" d="M390.2 159.2L399.8 156.6L391.2 143.5L381.6 146.4Z"/><path class="c9" d="M391.7 144.2L391.2 143.5L381.6 146.4L383.7 149.6Z"/><path class="m" d="M390.2 159.2L399.8 156.6L391.2 143.5L381.6 146.4Z"/>
<path class="c9" d="M334.8 142.6L344.8 135.6L336.2 127.8L326.2 135.1Z"/><path class="c10" d="M340.1 138.9L344.8 135.6L336.2 127.8L326.2 135.1L329.7 138.1Z"/><path class="m" d="M334.8 142.6L344.8 135.6L336.2 127.8L326.2 135.1Z"/>
<path class="c3" d="M230.8 210.1L240.9 194L233.1 193.9L223.1 210.2Z"/><path class="c4" d="M231.5 209.1L240.9 194L233.1 193.9L228.4 201.5Z"/><path class="c5" d="M239.8 195.7L240.9 194L239.1 194Z"/><path class="m" d="M230.8 210.1L240.9 194L233.1 193.9L223.1 210.2Z"/>
<path class="c9" d="M371.8 150.5L381.6 146.4L373 135.1L363.2 139.4Z"/><path class="m" d="M371.8 150.5L381.6 146.4L373 135.1L363.2 139.4Z"/>
<path class="c9" d="M353.3 144.9L363.2 139.4L354.7 129.9L344.8 135.6Z"/><path class="c10" d="M359.9 135.7L354.7 129.9L344.8 135.6L347.3 138.4Z"/><path class="m" d="M353.3 144.9L363.2 139.4L354.7 129.9L344.8 135.6Z"/>
<path class="c8" d="M287.5 158.6L297.7 147.6L289.3 143.6L279.3 154.9Z"/><path class="c9" d="M295 150.5L297.7 147.6L289.3 143.6L288.5 144.6Z"/><path class="m" d="M287.5 158.6L297.7 147.6L289.3 143.6L279.3 154.9Z"/>
<path class="c6" d="M259 180.9L269.1 167.3L261 165.3L251 179.1Z"/><path class="c7" d="M263.5 174.9L269.1 167.3L261 165.3L259.1 168Z"/><path class="m" d="M259 180.9L269.1 167.3L261 165.3L251 179.1Z"/>
<path class="c9" d="M306.1 153L316.2 143.5L307.8 137.7L297.7 147.6Z"/><path class="m" d="M306.1 153L316.2 143.5L307.8 137.7L297.7 147.6Z"/>
<path class="c7" d="M398.8 173.4L408.3 171.1L399.8 156.6L390.2 159.2Z"/><path class="c8" d="M401.8 160.1L399.8 156.6L390.2 159.2L394.1 165.6Z"/><path class="m" d="M398.8 173.4L408.3 171.1L399.8 156.6L390.2 159.2Z"/>
<path class="c5" d="M248.9 195.5L259 180.9L251 179.1L240.9 194Z"/><path class="c6" d="M253.4 189L259 180.9L251 179.1L249 182Z"/><path class="m" d="M248.9 195.5L259 180.9L251 179.1L240.9 194Z"/>
<path class="c9" d="M324.7 150.7L334.8 142.6L326.2 135.1L316.2 143.5Z"/><path class="c10" d="M329.7 138.1L326.2 135.1L323.9 137.1Z"/><path class="m" d="M324.7 150.7L334.8 142.6L326.2 135.1L316.2 143.5Z"/>
<path class="c7" d="M277.4 170.7L287.5 158.6L279.3 154.9L269.1 167.3Z"/><path class="c8" d="M281 166.4L287.5 158.6L279.3 154.9L275 160.1Z"/><path class="m" d="M277.4 170.7L287.5 158.6L279.3 154.9L269.1 167.3Z"/>
<path class="c8" d="M380.5 162.9L390.2 159.2L381.6 146.4L371.8 150.5Z"/><path class="c9" d="M383.7 149.6L381.6 146.4L371.8 150.5L374.5 154.3Z"/><path class="m" d="M380.5 162.9L390.2 159.2L381.6 146.4L371.8 150.5Z"/>
<path class="c9" d="M343.4 151.5L353.3 144.9L344.8 135.6L334.8 142.6Z"/><path class="c10" d="M347.3 138.4L344.8 135.6L340.1 138.9Z"/><path class="m" d="M343.4 151.5L353.3 144.9L344.8 135.6L334.8 142.6Z"/>
<path class="c9" d="M362 155.6L371.8 150.5L363.2 139.4L353.3 144.9Z"/><path class="m" d="M362 155.6L371.8 150.5L363.2 139.4L353.3 144.9Z"/>
<path class="c8" d="M295.9 163.7L306.1 153L297.7 147.6L287.5 158.6Z"/><path class="c9" d="M303.6 155.7L306.1 153L297.7 147.6L295 150.5Z"/><path class="m" d="M295.9 163.7L306.1 153L297.7 147.6L287.5 158.6Z"/>
<path class="c3" d="M238.7 211.3L248.9 195.5L240.9 194L230.8 210.1Z"/><path class="c4" d="M238.7 211.3L248.9 195.5L240.9 194L231.5 209.1L232.1 210.3Z"/><path class="c5" d="M244.2 202.8L248.9 195.5L240.9 194L239.8 195.7Z"/><path class="m" d="M238.7 211.3L248.9 195.5L240.9 194L230.8 210.1Z"/>
<path class="c6" d="M267.2 184L277.4 170.7L269.1 167.3L259 180.9Z"/><path class="c7" d="M269.2 181.3L277.4 170.7L269.1 167.3L263.5 174.9Z"/><path class="m" d="M267.2 184L277.4 170.7L269.1 167.3L259 180.9Z"/>
<path class="c8" d="M314.6 159.9L324.7 150.7L316.2 143.5L306.1 153Z"/><path class="c9" d="M314.7 159.8L324.7 150.7L316.2 143.5L306.1 153L314.3 159.7Z"/><path class="m" d="M314.6 159.9L324.7 150.7L316.2 143.5L306.1 153Z"/>
<path class="c7" d="M389.1 176.8L398.8 173.4L390.2 159.2L380.5 162.9Z"/><path class="c8" d="M394.1 165.6L390.2 159.2L380.5 162.9L385.3 170.7Z"/><path class="m" d="M389.1 176.8L398.8 173.4L390.2 159.2L380.5 162.9Z"/>
<path class="c9" d="M333.3 159.3L343.4 151.5L334.8 142.6L324.7 150.7Z"/><path class="m" d="M333.3 159.3L343.4 151.5L334.8 142.6L324.7 150.7Z"/>
<path class="c8" d="M370.6 167.8L380.5 162.9L371.8 150.5L362 155.6Z"/><path class="c9" d="M374.5 154.3L371.8 150.5L362 155.6L363.8 158.2Z"/><path class="m" d="M370.6 167.8L380.5 162.9L371.8 150.5L362 155.6Z"/>
<path class="c8" d="M352 161.9L362 155.6L353.3 144.9L343.4 151.5Z"/><path class="c9" d="M354.1 160.6L362 155.6L353.3 144.9L343.4 151.5L351.3 161.1Z"/><path class="m" d="M352 161.9L362 155.6L353.3 144.9L343.4 151.5Z"/>
<path class="c7" d="M285.7 175.6L295.9 163.7L287.5 158.6L277.4 170.7Z"/><path class="c8" d="M288.8 171.9L295.9 163.7L287.5 158.6L281 166.4Z"/><path class="m" d="M285.7 175.6L295.9 163.7L287.5 158.6L277.4 170.7Z"/>
<path class="c5" d="M257 198.4L267.2 184L259 180.9L248.9 195.5Z"/><path class="c6" d="M258.9 195.6L267.2 184L259 180.9L253.4 189Z"/><path class="m" d="M257 198.4L267.2 184L259 180.9L248.9 195.5Z"/>
<path class="c8" d="M304.4 170.3L314.6 159.9L306.1 153L295.9 163.7Z"/><path class="c9" d="M314.3 159.7L306.1 153L303.6 155.7Z"/><path class="m" d="M304.4 170.3L314.6 159.9L306.1 153L295.9 163.7Z"/>
<path class="c4" d="M246.8 213.9L257 198.4L248.9 195.5L238.7 211.3Z"/><path class="c5" d="M249.7 209.5L257 198.4L248.9 195.5L244.2 202.8Z"/><path class="m" d="M246.8 213.9L257 198.4L248.9 195.5L238.7 211.3Z"/>
<path class="c6" d="M275.5 188.5L285.7 175.6L277.4 170.7L267.2 184Z"/><path class="c7" d="M276.5 187.2L285.7 175.6L277.4 170.7L269.2 181.3Z"/><path class="m" d="M275.5 188.5L285.7 175.6L277.4 170.7L267.2 184Z"/>
<path class="c8" d="M323.1 168.2L333.3 159.3L324.7 150.7L314.6 159.9Z"/><path class="c9" d="M330.1 162.1L333.3 159.3L324.7 150.7L314.7 159.8Z"/><path class="m" d="M323.1 168.2L333.3 159.3L324.7 150.7L314.6 159.9Z"/>
<path class="c7" d="M379.3 181.3L389.1 176.8L380.5 162.9L370.6 167.8Z"/><path class="c8" d="M385.3 170.7L380.5 162.9L370.6 167.8L375.3 175.1Z"/><path class="m" d="M379.3 181.3L389.1 176.8L380.5 162.9L370.6 167.8Z"/>
<path class="c8" d="M341.9 169.4L352 161.9L343.4 151.5L333.3 159.3Z"/><path class="c9" d="M351.3 161.1L343.4 151.5L333.3 159.3L335.8 162.2Z"/><path class="m" d="M341.9 169.4L352 161.9L343.4 151.5L333.3 159.3Z"/>
<path class="c8" d="M360.6 173.8L370.6 167.8L362 155.6L352 161.9Z"/><path class="c9" d="M363.8 158.2L362 155.6L354.1 160.6Z"/><path class="m" d="M360.6 173.8L370.6 167.8L362 155.6L352 161.9Z"/>
<path class="c7" d="M294.1 181.8L304.4 170.3L295.9 163.7L285.7 175.6Z"/><path class="c8" d="M298.7 176.7L304.4 170.3L295.9 163.7L288.8 171.9Z"/><path class="m" d="M294.1 181.8L304.4 170.3L295.9 163.7L285.7 175.6Z"/>
<path class="c5" d="M265.2 202.6L275.5 188.5L267.2 184L257 198.4Z"/><path class="c6" d="M265.9 201.7L275.5 188.5L267.2 184L258.9 195.6Z"/><path class="m" d="M265.2 202.6L275.5 188.5L267.2 184L257 198.4Z"/>
<path class="c8" d="M312.9 178.3L323.1 168.2L314.6 159.9L304.4 170.3Z"/><path class="m" d="M312.9 178.3L323.1 168.2L314.6 159.9L304.4 170.3Z"/>
<path class="c8" d="M331.8 178L341.9 169.4L333.3 159.3L323.1 168.2Z"/><path class="c9" d="M335.8 162.2L333.3 159.3L330.1 162.1Z"/><path class="m" d="M331.8 178L341.9 169.4L333.3 159.3L323.1 168.2Z"/>
<path class="c7" d="M369.3 187L379.3 181.3L370.6 167.8L360.6 173.8Z"/><path class="c8" d="M375.3 175.1L370.6 167.8L360.6 173.8L363.9 178.7Z"/><path class="m" d="M369.3 187L379.3 181.3L370.6 167.8L360.6 173.8Z"/>
<path class="c8" d="M350.6 180.9L360.6 173.8L352 161.9L341.9 169.4Z"/><path class="m" d="M350.6 180.9L360.6 173.8L352 161.9L341.9 169.4Z"/>
<path class="c6" d="M283.9 194.5L294.1 181.8L285.7 175.6L275.5 188.5Z"/><path class="c7" d="M285.6 192.4L294.1 181.8L285.7 175.6L276.5 187.2Z"/><path class="m" d="M283.9 194.5L294.1 181.8L285.7 175.6L275.5 188.5Z"/>
<path class="c4" d="M255 217.9L265.2 202.6L257 198.4L246.8 213.9Z"/><path class="c5" d="M256.4 215.8L265.2 202.6L257 198.4L249.7 209.5Z"/><path class="m" d="M255 217.9L265.2 202.6L257 198.4L246.8 213.9Z"/>
<path class="c7" d="M302.7 189.5L312.9 178.3L304.4 170.3L294.1 181.8Z"/><path class="c8" d="M310.9 180.5L312.9 178.3L304.4 170.3L298.7 176.7Z"/><path class="m" d="M302.7 189.5L312.9 178.3L304.4 170.3L294.1 181.8Z"/>
<path class="c5" d="M273.6 208.3L283.9 194.5L275.5 188.5L265.2 202.6Z"/><path class="c6" d="M274.4 207.2L283.9 194.5L275.5 188.5L265.9 201.7Z"/><path class="m" d="M273.6 208.3L283.9 194.5L275.5 188.5L265.2 202.6Z"/>
<path class="c7" d="M321.5 187.7L331.8 178L323.1 168.2L312.9 178.3Z"/><path class="c8" d="M326.9 182.6L331.8 178L323.1 168.2L312.9 178.3L315.7 181.3Z"/><path class="m" d="M321.5 187.7L331.8 178L323.1 168.2L312.9 178.3Z"/>
<path class="c7" d="M340.4 189.2L350.6 180.9L341.9 169.4L331.8 178Z"/><path class="c8" d="M349.5 181.8L350.6 180.9L341.9 169.4L331.8 178L335.5 182.8Z"/><path class="m" d="M340.4 189.2L350.6 180.9L341.9 169.4L331.8 178Z"/>
<path class="c7" d="M359.3 193.9L369.3 187L360.6 173.8L350.6 180.9Z"/><path class="c8" d="M363.9 178.7L360.6 173.8L350.6 180.9L351 181.6Z"/><path class="m" d="M359.3 193.9L369.3 187L360.6 173.8L350.6 180.9Z"/>
<path class="c6" d="M292.3 201.9L302.7 189.5L294.1 181.8L283.9 194.5Z"/><path class="c7" d="M296.6 196.7L302.7 189.5L294.1 181.8L285.6 192.4Z"/><path class="m" d="M292.3 201.9L302.7 189.5L294.1 181.8L283.9 194.5Z"/>
<path class="c4" d="M263.3 223.2L273.6 208.3L265.2 202.6L255 217.9Z"/><path class="c5" d="M264.4 221.5L273.6 208.3L265.2 202.6L256.4 215.8Z"/><path class="m" d="M263.3 223.2L273.6 208.3L265.2 202.6L255 217.9Z"/>
<path class="c7" d="M311.2 198.7L321.5 187.7L312.9 178.3L302.7 189.5Z"/><path class="c8" d="M315.7 181.3L312.9 178.3L310.9 180.5Z"/><path class="m" d="M311.2 198.7L321.5 187.7L312.9 178.3L302.7 189.5Z"/>
<path class="c7" d="M330.2 198.6L340.4 189.2L331.8 178L321.5 187.7Z"/><path class="c8" d="M335.5 182.8L331.8 178L326.9 182.6Z"/><path class="m" d="M330.2 198.6L340.4 189.2L331.8 178L321.5 187.7Z"/>
<path class="c6" d="M349.1 201.9L359.3 193.9L350.6 180.9L340.4 189.2Z"/><path class="c7" d="M350.9 200.5L359.3 193.9L350.6 180.9L340.4 189.2L348.4 200.8Z"/><path class="c8" d="M351 181.6L350.6 180.9L349.5 181.8Z"/><path class="m" d="M349.1 201.9L359.3 193.9L350.6 180.9L340.4 189.2Z"/>
<path class="c5" d="M282 215.4L292.3 201.9L283.9 194.5L273.6 208.3Z"/><path class="c6" d="M284.6 212L292.3 201.9L283.9 194.5L274.4 207.2Z"/><path class="m" d="M282 215.4L292.3 201.9L283.9 194.5L273.6 208.3Z"/>
<path class="c6" d="M300.9 210.7L311.2 198.7L302.7 189.5L292.3 201.9Z"/><path class="c7" d="M310 200.1L311.2 198.7L302.7 189.5L296.6 196.7Z"/><path class="m" d="M300.9 210.7L311.2 198.7L302.7 189.5L292.3 201.9Z"/>
<path class="c4" d="M271.7 230L282 215.4L273.6 208.3L263.3 223.2Z"/><path class="c5" d="M274 226.7L282 215.4L273.6 208.3L264.4 221.5Z"/><path class="m" d="M271.7 230L282 215.4L273.6 208.3L263.3 223.2Z"/>
<path class="c6" d="M319.9 209.3L330.2 198.6L321.5 187.7L311.2 198.7Z"/><path class="c7" d="M327.1 201.9L330.2 198.6L321.5 187.7L311.2 198.7L312.8 200.6Z"/><path class="m" d="M319.9 209.3L330.2 198.6L321.5 187.7L311.2 198.7Z"/>
<path class="c6" d="M338.9 211L349.1 201.9L340.4 189.2L330.2 198.6Z"/><path class="c7" d="M348.4 200.8L340.4 189.2L330.2 198.6L332.5 201.9Z"/><path class="m" d="M338.9 211L349.1 201.9L340.4 189.2L330.2 198.6Z"/>
<path class="c5" d="M290.5 223.9L300.9 210.7L292.3 201.9L282 215.4Z"/><path class="c6" d="M296.8 216L300.9 210.7L292.3 201.9L284.6 212Z"/><path class="m" d="M290.5 223.9L300.9 210.7L292.3 201.9L282 215.4Z"/>
<path class="c5" d="M309.6 221L319.9 209.3L311.2 198.7L300.9 210.7Z"/><path class="c6" d="M311.4 218.9L319.9 209.3L311.2 198.7L300.9 210.7L307.3 218.3Z"/><path class="c7" d="M312.8 200.6L311.2 198.7L310 200.1Z"/><path class="m" d="M309.6 221L319.9 209.3L311.2 198.7L300.9 210.7Z"/>
<path class="c5" d="M328.6 221.3L338.9 211L330.2 198.6L319.9 209.3Z"/><path class="c6" d="M329.8 220.1L338.9 211L330.2 198.6L319.9 209.3L327.8 220.1Z"/><path class="c7" d="M332.5 201.9L330.2 198.6L327.1 201.9Z"/><path class="m" d="M328.6 221.3L338.9 211L330.2 198.6L319.9 209.3Z"/>
<path class="c4" d="M280.2 238.3L290.5 223.9L282 215.4L271.7 230Z"/><path class="c5" d="M285.3 231.1L290.5 223.9L282 215.4L274 226.7Z"/><path class="m" d="M280.2 238.3L290.5 223.9L282 215.4L271.7 230Z"/>
<path class="c5" d="M299.2 233.9L309.6 221L300.9 210.7L290.5 223.9Z"/><path class="c6" d="M307.3 218.3L300.9 210.7L296.8 216Z"/><path class="m" d="M299.2 233.9L309.6 221L300.9 210.7L290.5 223.9Z"/>
<path class="c5" d="M318.2 232.7L328.6 221.3L319.9 209.3L309.6 221Z"/><path class="c6" d="M327.8 220.1L319.9 209.3L311.4 218.9Z"/><path class="m" d="M318.2 232.7L328.6 221.3L319.9 209.3L309.6 221Z"/>
<path class="c4" d="M288.7 247.9L299.2 233.9L290.5 223.9L280.2 238.3Z"/><path class="c5" d="M298.5 234.7L299.2 233.9L290.5 223.9L285.3 231.1Z"/><path class="m" d="M288.7 247.9L299.2 233.9L290.5 223.9L280.2 238.3Z"/>
<path class="c4" d="M307.8 245.3L318.2 232.7L309.6 221L299.2 233.9Z"/><path class="c5" d="M314.7 237L318.2 232.7L309.6 221L299.2 233.9L300 235Z"/><path class="m" d="M307.8 245.3L318.2 232.7L309.6 221L299.2 233.9Z"/>
<path class="c3" d="M297.4 259L307.8 245.3L299.2 233.9L288.7 247.9Z"/><path class="c4" d="M302.2 252.8L307.8 245.3L299.2 233.9L288.7 247.9L290.8 250.5Z"/><path class="c5" d="M300 235L299.2 233.9L298.5 234.7Z"/><path class="m" d="M297.4 259L307.8 245.3L299.2 233.9L288.7 247.9Z"/></g>
<path class="a" d="M179.3 70.1L186.1 214.3M186.1 214.3L297.5 293.4M297.5 293.4L433.3 225.8M186.1 214.3L190 212.6M185.7 204.5L187.9 203.5M185.2 194.6L189.1 193M184.7 184.7L187 183.7M184.3 174.7L188.2 173M183.8 164.6L186.1 163.6M183.3 154.4L187.2 152.8M182.8 144.2L185.1 143.2M182.3 133.8L186.3 132.2M181.8 123.4L184.2 122.5M181.3 112.9L185.3 111.3M180.8 102.3L183.2 101.4M180.3 91.7L184.4 90.1M179.8 80.9L182.2 80M179.3 70.1L183.4 68.6M297.5 293.4L301.5 291.5M297.5 293.4L294.3 291.1M292.6 289.9L294.9 288.8M303.6 290.4L301.7 289.1M287.6 286.4L289.9 285.3M309.6 287.4L307.7 286.1M282.7 282.9L285 281.8M315.5 284.5L313.6 283.2M277.8 279.4L281.8 277.5M321.4 281.5L318.2 279.3M273 276L275.3 274.9M327.3 278.6L325.4 277.3M268.2 272.6L270.5 271.5M333.2 275.7L331.3 274.4M263.4 269.2L265.7 268.1M339 272.8L337.1 271.5M258.6 265.8L262.5 263.9M344.8 269.9L341.5 267.7M253.9 262.4L256.2 261.3M350.6 267L348.7 265.7M249.2 259.1L251.5 258M356.3 264.2L354.4 262.9M244.5 255.8L246.8 254.7M362 261.3L360.1 260.1M239.9 252.5L243.7 250.6M367.7 258.5L364.4 256.3M235.2 249.2L237.5 248.1M373.3 255.7L371.4 254.4M230.6 245.9L232.9 244.9M378.9 252.9L377 251.6M226.1 242.7L228.3 241.6M384.5 250.1L382.6 248.9M221.5 239.4L225.4 237.7M390 247.4L386.8 245.2M217 236.2L219.3 235.2M395.5 244.6L393.6 243.4M212.5 233L214.8 232M401 241.9L399.1 240.6M208.1 229.9L210.3 228.9M406.5 239.2L404.6 237.9M203.6 226.7L207.5 225M411.9 236.4L408.6 234.4M199.2 223.6L201.5 222.6M417.3 233.8L415.4 232.6M194.8 220.5L197.1 219.5M422.7 231.1L420.8 229.9M190.5 217.4L192.7 216.4M428 228.4L426.1 227.2M186.1 214.3L190 212.6M433.3 225.8L430 223.7"/>
<text class="tl" text-anchor="middle" dominant-baseline="central" transform="translate(168.8 200.6) rotate(-20)">0.4</text>
<text class="tl" text-anchor="middle" dominant-baseline="central" transform="translate(167.9 180.7) rotate(-20)">0.6</text>
<text class="tl" text-anchor="middle" dominant-baseline="central" transform="translate(166.9 160.4) rotate(-20)">0.8</text>
<text class="tl" text-anchor="middle" dominant-baseline="central" transform="translate(165.9 139.8) rotate(-20)">1.0</text>
<text class="tl" text-anchor="middle" dominant-baseline="central" transform="translate(164.9 118.9) rotate(-20)">1.2</text>
<text class="tl" text-anchor="middle" dominant-baseline="central" transform="translate(163.9 97.7) rotate(-20)">1.4</text>
<text class="tl" text-anchor="middle" dominant-baseline="central" transform="translate(162.9 76.1) rotate(-20)">1.6</text>
<text class="tl" text-anchor="middle" dominant-baseline="central" transform="translate(280.1 301.0) rotate(-26.5)">-1.2</text>
<text class="tl" text-anchor="middle" dominant-baseline="central" transform="translate(310.5 300.4) rotate(-26.5)">-1.2</text>
<text class="tl" text-anchor="middle" dominant-baseline="central" transform="translate(260.4 287.0) rotate(-26.5)">-0.8</text>
<text class="tl" text-anchor="middle" dominant-baseline="central" transform="translate(334.4 288.5) rotate(-26.5)">-0.8</text>
<text class="tl" text-anchor="middle" dominant-baseline="central" transform="translate(241.2 273.4) rotate(-26.5)">-0.4</text>
<text class="tl" text-anchor="middle" dominant-baseline="central" transform="translate(357.8 276.9) rotate(-26.5)">-0.4</text>
<text class="tl" text-anchor="middle" dominant-baseline="central" transform="translate(224.2 259.4) rotate(-26.5)">0.0</text>
<text class="tl" text-anchor="middle" dominant-baseline="central" transform="translate(379.8 267.1) rotate(-26.5)">0.0</text>
<text class="tl" text-anchor="middle" dominant-baseline="central" transform="translate(205.8 246.3) rotate(-26.5)">0.4</text>
<text class="tl" text-anchor="middle" dominant-baseline="central" transform="translate(402.1 256.0) rotate(-26.5)">0.4</text>
<text class="tl" text-anchor="middle" dominant-baseline="central" transform="translate(187.9 233.6) rotate(-26.5)">0.8</text>
<text class="tl" text-anchor="middle" dominant-baseline="central" transform="translate(424.0 245.0) rotate(-26.5)">0.8</text>
<text class="tl" text-anchor="middle" dominant-baseline="central" transform="translate(170.4 221.2) rotate(-26.5)">1.2</text>
<text class="tl" text-anchor="middle" dominant-baseline="central" transform="translate(445.4 234.4) rotate(-26.5)">1.2</text>
<text class="ax1" text-anchor="middle" dominant-baseline="central" transform="translate(144.3 146.5) rotate(87)">Pigment concentration</text>
<text class="ax2" text-anchor="middle" dominant-baseline="central" transform="translate(130.1 146.5) rotate(87)">(mg/ml)</text>
<text class="ax1" text-anchor="middle" dominant-baseline="central" transform="translate(201.2 274.0) rotate(46)">pH</text>
<text class="ax1" text-anchor="middle" dominant-baseline="central" transform="translate(388.9 280.8) rotate(-24)">NaCl</text>
<rect x="604.8" y="183.2" width="27" height="160.6" fill="#fff"/>
<rect x="607.3" y="185.9" width="22" height="10" class="l0" style="stroke:#111;stroke-width:1.3"/>
<text class="lg" x="673.5" y="195.8" text-anchor="end">0.293</text>
<rect x="607.3" y="200.3" width="22" height="10" class="l1" style="stroke:#111;stroke-width:1.3"/>
<text class="lg" x="673.5" y="210.2" text-anchor="end">0.386</text>
<rect x="607.3" y="214.8" width="22" height="10" class="l2" style="stroke:#111;stroke-width:1.3"/>
<text class="lg" x="673.5" y="224.7" text-anchor="end">0.479</text>
<rect x="607.3" y="229.2" width="22" height="10" class="l3" style="stroke:#111;stroke-width:1.3"/>
<text class="lg" x="673.5" y="239.1" text-anchor="end">0.572</text>
<rect x="607.3" y="243.7" width="22" height="10" class="l4" style="stroke:#111;stroke-width:1.3"/>
<text class="lg" x="673.5" y="253.6" text-anchor="end">0.665</text>
<rect x="607.3" y="258.1" width="22" height="10" class="l5" style="stroke:#111;stroke-width:1.3"/>
<text class="lg" x="673.5" y="268.1" text-anchor="end">0.758</text>
<rect x="607.3" y="272.6" width="22" height="10" class="l6" style="stroke:#111;stroke-width:1.3"/>
<text class="lg" x="673.5" y="282.5" text-anchor="end">0.851</text>
<rect x="607.3" y="287.0" width="22" height="10" class="l7" style="stroke:#111;stroke-width:1.3"/>
<text class="lg" x="673.5" y="296.9" text-anchor="end">0.944</text>
<rect x="607.3" y="301.5" width="22" height="10" class="l8" style="stroke:#111;stroke-width:1.3"/>
<text class="lg" x="673.5" y="311.4" text-anchor="end">1.037</text>
<rect x="607.3" y="315.9" width="22" height="10" class="l9" style="stroke:#111;stroke-width:1.3"/>
<text class="lg" x="673.5" y="325.9" text-anchor="end">1.130</text>
<rect x="607.3" y="330.4" width="22" height="10" class="l10" style="stroke:#111;stroke-width:1.3"/>
<text class="lg" x="673.5" y="340.3" text-anchor="end">above</text>
<rect class="lb" x="119.8" y="427.8" width="38.5" height="153.0" transform="rotate(-3 139.0 504.3)"/>
<rect class="lb" x="148.0" y="618.5" width="99.0" height="35.0" transform="rotate(38.7 197.5 636.0)"/>
<rect class="lb" x="368.1" y="626.5" width="54.5" height="20.0" transform="rotate(-26.5 395.3 636.5)"/>
<path fill="#fff" d="M186.1 570.8L179.3 426.6L320.3 373.9L440.3 437.8L433.3 582.3L297.5 649.9Z"/>
<path class="d" d="M433.3 582.3L440.3 437.8M297.5 649.9L186.1 570.8M297.5 649.9L433.3 582.3M209.6 560.5L204.1 417.3M413.3 569.9L419.1 426.5M321.4 638L209.6 560.5M277.8 635.9L413.3 569.9M232.5 550.5L228.4 408.3M393.8 557.9L398.4 415.5M344.8 626.4L232.5 550.5M258.6 622.3L393.8 557.9M255 540.6L252.1 399.4M374.6 546.1L378.2 404.7M367.7 615L255 540.6M239.9 609L374.6 546.1M277 531L275.3 390.7M355.9 534.5L358.5 394.2M390 603.9L277 531M221.5 595.9L355.9 534.5M298.6 521.5L298.1 382.2M337.6 523.3L339.2 384M411.9 592.9L298.6 521.5M203.6 583.2L337.6 523.3M319.7 512.2L320.3 373.9M433.3 582.3L319.7 512.2M186.1 570.8L319.7 512.2M185.2 551.1L319.8 493.3M319.8 493.3L434.3 562.6M184.3 531.2L319.9 474.1M319.9 474.1L435.3 542.6M183.3 510.9L320 454.7M320 454.7L436.2 522.3M182.3 490.3L320.1 434.9M320.1 434.9L437.2 501.6M181.3 469.4L320.1 414.9M320.1 414.9L438.3 480.7M180.3 448.2L320.2 394.6M320.2 394.6L439.3 459.4M179.3 426.6L320.3 373.9M320.3 373.9L440.3 437.8"/>
<g><path class="c10" d="M318.7 416L328.1 411.4L320.2 405.1L310.8 410.3Z"/><path class="m" d="M318.7 416L328.1 411.4L320.2 405.1L310.8 410.3Z"/>
<path class="c10" d="M309.3 421.7L318.7 416L310.8 410.3L301.4 416.6Z"/><path class="m" d="M309.3 421.7L318.7 416L310.8 410.3L301.4 416.6Z"/>
<path class="c10" d="M326.7 422.1L336.1 418.1L328.1 411.4L318.7 416Z"/><path class="m" d="M326.7 422.1L336.1 418.1L328.1 411.4L318.7 416Z"/>
<path class="c10" d="M299.7 428.5L309.3 421.7L301.4 416.6L291.8 424.1Z"/><path class="m" d="M299.7 428.5L309.3 421.7L301.4 416.6L291.8 424.1Z"/>
<path class="c10" d="M317.2 427.2L326.7 422.1L318.7 416L309.3 421.7Z"/><path class="m" d="M317.2 427.2L326.7 422.1L318.7 416L309.3 421.7Z"/>
<path class="c10" d="M334.8 428.7L344.1 425.4L336.1 418.1L326.7 422.1Z"/><path class="m" d="M334.8 428.7L344.1 425.4L336.1 418.1L326.7 422.1Z"/>
<path class="c9" d="M290.1 436.5L299.7 428.5L291.8 424.1L282.3 432.7Z"/><path class="c10" d="M296.8 431L299.7 428.5L291.8 424.1L289.4 426.2Z"/><path class="m" d="M290.1 436.5L299.7 428.5L291.8 424.1L282.3 432.7Z"/>
<path class="c10" d="M307.7 433.5L317.2 427.2L309.3 421.7L299.7 428.5Z"/><path class="m" d="M307.7 433.5L317.2 427.2L309.3 421.7L299.7 428.5Z"/>
<path class="c10" d="M325.3 433.2L334.8 428.7L326.7 422.1L317.2 427.2Z"/><path class="m" d="M325.3 433.2L334.8 428.7L326.7 422.1L317.2 427.2Z"/>
<path class="c9" d="M342.9 435.8L352.2 433.1L344.1 425.4L334.8 428.7Z"/><path class="c10" d="M342.9 435.8L343.4 435.6L349.6 430.6L344.1 425.4L334.8 428.7Z"/><path class="m" d="M342.9 435.8L352.2 433.1L344.1 425.4L334.8 428.7Z"/>
<path class="c9" d="M280.5 445.7L290.1 436.5L282.3 432.7L272.7 442.4Z"/><path class="m" d="M280.5 445.7L290.1 436.5L282.3 432.7L272.7 442.4Z"/>
<path class="c9" d="M298.1 440.8L307.7 433.5L299.7 428.5L290.1 436.5Z"/><path class="c10" d="M305.2 435.4L307.7 433.5L299.7 428.5L296.8 431Z"/><path class="m" d="M298.1 440.8L307.7 433.5L299.7 428.5L290.1 436.5Z"/>
<path class="c10" d="M315.7 438.8L325.3 433.2L317.2 427.2L307.7 433.5Z"/><path class="m" d="M315.7 438.8L325.3 433.2L317.2 427.2L307.7 433.5Z"/>
<path class="c8" d="M270.8 455.9L280.5 445.7L272.7 442.4L263.1 453.3Z"/><path class="c9" d="M277.4 448.9L280.5 445.7L272.7 442.4L271.8 443.4Z"/><path class="m" d="M270.8 455.9L280.5 445.7L272.7 442.4L263.1 453.3Z"/>
<path class="c10" d="M333.4 439.7L342.9 435.8L334.8 428.7L325.3 433.2Z"/><path class="m" d="M333.4 439.7L342.9 435.8L334.8 428.7L325.3 433.2Z"/>
<path class="c9" d="M351 443.4L360.4 441.2L352.2 433.1L342.9 435.8Z"/><path class="c10" d="M343.4 435.6L342.9 435.8L343 436Z"/><path class="m" d="M351 443.4L360.4 441.2L352.2 433.1L342.9 435.8Z"/>
<path class="c9" d="M288.4 449.4L298.1 440.8L290.1 436.5L280.5 445.7Z"/><path class="m" d="M288.4 449.4L298.1 440.8L290.1 436.5L280.5 445.7Z"/>
<path class="c7" d="M261.1 467.3L270.8 455.9L263.1 453.3L253.4 465.3Z"/><path class="c8" d="M263 465.1L270.8 455.9L263.1 453.3L258.4 459.1Z"/><path class="m" d="M261.1 467.3L270.8 455.9L263.1 453.3L253.4 465.3Z"/>
<path class="c9" d="M306.1 445.6L315.7 438.8L307.7 433.5L298.1 440.8Z"/><path class="c10" d="M315.3 439.2L315.7 438.8L307.7 433.5L305.2 435.4Z"/><path class="m" d="M306.1 445.6L315.7 438.8L307.7 433.5L298.1 440.8Z"/>
<path class="c9" d="M323.8 444.7L333.4 439.7L325.3 433.2L315.7 438.8Z"/><path class="c10" d="M332.9 440L333.4 439.7L325.3 433.2L315.7 438.8L316.7 439.5Z"/><path class="m" d="M323.8 444.7L333.4 439.7L325.3 433.2L315.7 438.8Z"/>
<path class="c9" d="M359.3 451.4L368.6 449.9L360.4 441.2L351 443.4Z"/><path class="m" d="M359.3 451.4L368.6 449.9L360.4 441.2L351 443.4Z"/>
<path class="c9" d="M341.6 446.6L351 443.4L342.9 435.8L333.4 439.7Z"/><path class="c10" d="M343 436L342.9 435.8L333.4 439.7L333.6 439.9Z"/><path class="m" d="M341.6 446.6L351 443.4L342.9 435.8L333.4 439.7Z"/>
<path class="c8" d="M278.7 459L288.4 449.4L280.5 445.7L270.8 455.9Z"/><path class="c9" d="M283.3 454.5L288.4 449.4L280.5 445.7L277.4 448.9Z"/><path class="m" d="M278.7 459L288.4 449.4L280.5 445.7L270.8 455.9Z"/>
<path class="c6" d="M251.4 479.8L261.1 467.3L253.4 465.3L243.8 478.3Z"/><path class="c7" d="M251.4 479.8L261.1 467.3L253.4 465.3L247 474L250.6 479.7Z"/><path class="m" d="M251.4 479.8L261.1 467.3L253.4 465.3L243.8 478.3Z"/>
<path class="c9" d="M296.4 453.5L306.1 445.6L298.1 440.8L288.4 449.4Z"/><path class="m" d="M296.4 453.5L306.1 445.6L298.1 440.8L288.4 449.4Z"/>
<path class="c9" d="M314.2 450.8L323.8 444.7L315.7 438.8L306.1 445.6Z"/><path class="c10" d="M316.7 439.5L315.7 438.8L315.3 439.2Z"/><path class="m" d="M314.2 450.8L323.8 444.7L315.7 438.8L306.1 445.6Z"/>
<path class="c7" d="M269 469.8L278.7 459L270.8 455.9L261.1 467.3Z"/><path class="c8" d="M269 469.8L278.7 459L270.8 455.9L263 465.1L266 468.9Z"/><path class="m" d="M269 469.8L278.7 459L270.8 455.9L261.1 467.3Z"/>
<path class="c5" d="M241.7 493.5L251.4 479.8L243.8 478.3L234.2 492.5Z"/><path class="c6" d="M241.7 493.5L251.4 479.8L243.8 478.3L237 488.4L239.8 493.2Z"/><path class="c7" d="M251.1 480.3L251.4 479.8L250.6 479.7Z"/><path class="m" d="M241.7 493.5L251.4 479.8L243.8 478.3L234.2 492.5Z"/>
<path class="c9" d="M332 451L341.6 446.6L333.4 439.7L323.8 444.7Z"/><path class="c10" d="M333.6 439.9L333.4 439.7L332.9 440Z"/><path class="m" d="M332 451L341.6 446.6L333.4 439.7L323.8 444.7Z"/>
<path class="c8" d="M367.5 459.8L376.8 458.9L368.6 449.9L359.3 451.4Z"/><path class="c9" d="M367.5 459.8L368.6 459.7L371.7 453.3L368.6 449.9L359.3 451.4Z"/><path class="m" d="M367.5 459.8L376.8 458.9L368.6 449.9L359.3 451.4Z"/>
<path class="c9" d="M349.8 454L359.3 451.4L351 443.4L341.6 446.6Z"/><path class="m" d="M349.8 454L359.3 451.4L351 443.4L341.6 446.6Z"/>
<path class="c8" d="M286.6 462.5L296.4 453.5L288.4 449.4L278.7 459Z"/><path class="c9" d="M289.5 459.9L296.4 453.5L288.4 449.4L283.3 454.5Z"/><path class="m" d="M286.6 462.5L296.4 453.5L288.4 449.4L278.7 459Z"/>
<path class="c4" d="M232.1 508.2L241.7 493.5L234.2 492.5L224.6 507.8Z"/><path class="c5" d="M232.1 508.2L241.7 493.5L234.2 492.5L228.1 502.3L231.2 508.1Z"/><path class="c6" d="M240.8 494.9L241.7 493.5L239.8 493.2Z"/><path class="m" d="M232.1 508.2L241.7 493.5L234.2 492.5L224.6 507.8Z"/>
<path class="c7" d="M259.2 481.7L269 469.8L261.1 467.3L251.4 479.8Z"/><path class="c8" d="M267.9 471.1L269 469.8L266 468.9Z"/><path class="m" d="M259.2 481.7L269 469.8L261.1 467.3L251.4 479.8Z"/>
<path class="c9" d="M304.5 458.1L314.2 450.8L306.1 445.6L296.4 453.5Z"/><path class="m" d="M304.5 458.1L314.2 450.8L306.1 445.6L296.4 453.5Z"/>
<path class="c9" d="M322.3 456.5L332 451L323.8 444.7L314.2 450.8Z"/><path class="m" d="M322.3 456.5L332 451L323.8 444.7L314.2 450.8Z"/>
<path class="c8" d="M375.9 468.8L385.1 468.5L376.8 458.9L367.5 459.8Z"/><path class="c9" d="M368.6 459.7L367.5 459.8L368.3 460.6Z"/><path class="m" d="M375.9 468.8L385.1 468.5L376.8 458.9L367.5 459.8Z"/>
<path class="c3" d="M222.4 524L232.1 508.2L224.6 507.8L215 524.2Z"/><path class="c4" d="M223.1 522.8L232.1 508.2L224.6 507.8L219.8 515.9Z"/><path class="c5" d="M231.6 508.9L232.1 508.2L231.2 508.1Z"/><path class="m" d="M222.4 524L232.1 508.2L224.6 507.8L215 524.2Z"/>
<path class="c9" d="M340.2 457.7L349.8 454L341.6 446.6L332 451Z"/><path class="m" d="M340.2 457.7L349.8 454L341.6 446.6L332 451Z"/>
<path class="c9" d="M358.1 461.8L367.5 459.8L359.3 451.4L349.8 454Z"/><path class="m" d="M358.1 461.8L367.5 459.8L359.3 451.4L349.8 454Z"/>
<path class="c8" d="M276.9 472.7L286.6 462.5L278.7 459L269 469.8Z"/><path class="m" d="M276.9 472.7L286.6 462.5L278.7 459L269 469.8Z"/>
<path class="c6" d="M249.4 494.8L259.2 481.7L251.4 479.8L241.7 493.5Z"/><path class="c7" d="M255.6 486.6L259.2 481.7L251.4 479.8L251.1 480.3Z"/><path class="m" d="M249.4 494.8L259.2 481.7L251.4 479.8L241.7 493.5Z"/>
<path class="c2" d="M212.8 540.9L222.4 524L215 524.2L205.4 541.6Z"/><path class="c3" d="M215.4 536.3L222.4 524L215 524.2L212.1 529.3Z"/><path class="m" d="M212.8 540.9L222.4 524L215 524.2L205.4 541.6Z"/>
<path class="c8" d="M294.7 466.5L304.5 458.1L296.4 453.5L286.6 462.5Z"/><path class="c9" d="M296.1 465.3L304.5 458.1L296.4 453.5L289.5 459.9Z"/><path class="m" d="M294.7 466.5L304.5 458.1L296.4 453.5L286.6 462.5Z"/>
<path class="c5" d="M239.7 508.9L249.4 494.8L241.7 493.5L232.1 508.2Z"/><path class="c6" d="M244.9 501.4L249.4 494.8L241.7 493.5L240.8 494.9Z"/><path class="m" d="M239.7 508.9L249.4 494.8L241.7 493.5L232.1 508.2Z"/>
<path class="c7" d="M267 484.1L276.9 472.7L269 469.8L259.2 481.7Z"/><path class="c8" d="M273.1 477.1L276.9 472.7L269 469.8L267.9 471.1Z"/><path class="m" d="M267 484.1L276.9 472.7L269 469.8L259.2 481.7Z"/>
<path class="c9" d="M312.6 463.1L322.3 456.5L314.2 450.8L304.5 458.1Z"/><path class="m" d="M312.6 463.1L322.3 456.5L314.2 450.8L304.5 458.1Z"/>
<path class="c0" d="M203.2 558.8L212.8 540.9L205.4 541.6L196 560Z"/><path class="c1" d="M203.2 558.8L212.8 540.9L205.4 541.6L198.3 555.4L199.9 559.3Z"/><path class="c2" d="M208.1 549.6L212.8 540.9L205.4 541.6L204.9 542.6Z"/><path class="m" d="M203.2 558.8L212.8 540.9L205.4 541.6L196 560Z"/>
<path class="c7" d="M384.2 478.2L393.5 478.5L385.1 468.5L375.9 468.8Z"/><path class="c8" d="M384.2 478.2L388.5 478.3L389.6 473.9L385.1 468.5L375.9 468.8Z"/><path class="m" d="M384.2 478.2L393.5 478.5L385.1 468.5L375.9 468.8Z"/>
<path class="c9" d="M330.6 462.6L340.2 457.7L332 451L322.3 456.5Z"/><path class="m" d="M330.6 462.6L340.2 457.7L332 451L322.3 456.5Z"/>
<path class="c8" d="M366.5 470.2L375.9 468.8L367.5 459.8L358.1 461.8Z"/><path class="c9" d="M368.3 460.6L367.5 459.8L358.1 461.8L363.8 467.5Z"/><path class="m" d="M366.5 470.2L375.9 468.8L367.5 459.8L358.1 461.8Z"/>
<path class="c9" d="M348.6 465L358.1 461.8L349.8 454L340.2 457.7Z"/><path class="m" d="M348.6 465L358.1 461.8L349.8 454L340.2 457.7Z"/>
<path class="c0" d="M193.6 576.1L203.2 558.8L196 560L186.1 570.8Z"/><path class="c1" d="M201.2 562.3L203.2 558.8L199.9 559.3Z"/><path class="m" d="M193.6 576.1L203.2 558.8L196 560L186.1 570.8Z"/>
<path class="c8" d="M284.9 476.1L294.7 466.5L286.6 462.5L276.9 472.7Z"/><path class="m" d="M284.9 476.1L294.7 466.5L286.6 462.5L276.9 472.7Z"/>
<path class="c3" d="M229.9 524.2L239.7 508.9L232.1 508.2L222.4 524Z"/><path class="c4" d="M229.9 524.2L239.7 508.9L232.1 508.2L223.1 522.8L223.8 524Z"/><path class="c5" d="M235.4 515.6L239.7 508.9L232.1 508.2L231.6 508.9Z"/><path class="m" d="M229.9 524.2L239.7 508.9L232.1 508.2L222.4 524Z"/>
<path class="c6" d="M257.2 496.5L267 484.1L259.2 481.7L249.4 494.8Z"/><path class="c7" d="M260.1 492.9L267 484.1L259.2 481.7L255.6 486.6Z"/><path class="m" d="M257.2 496.5L267 484.1L259.2 481.7L249.4 494.8Z"/>
<path class="c8" d="M302.8 471L312.6 463.1L304.5 458.1L294.7 466.5Z"/><path class="c9" d="M303.4 470.5L312.6 463.1L304.5 458.1L296.1 465.3Z"/><path class="m" d="M302.8 471L312.6 463.1L304.5 458.1L294.7 466.5Z"/>
<path class="c2" d="M220.2 540.5L229.9 524.2L222.4 524L212.8 540.9Z"/><path class="c3" d="M220.2 540.5L229.9 524.2L222.4 524L215.4 536.3L217.4 540.7Z"/><path class="c4" d="M226.7 529.6L229.9 524.2L223.8 524Z"/><path class="m" d="M220.2 540.5L229.9 524.2L222.4 524L212.8 540.9Z"/>
<path class="c7" d="M392.6 488.1L401.8 489L393.5 478.5L384.2 478.2Z"/><path class="c8" d="M388.5 478.3L384.2 478.2L387.7 482.3Z"/><path class="m" d="M392.6 488.1L401.8 489L393.5 478.5L384.2 478.2Z"/>
<path class="c9" d="M320.8 468.7L330.6 462.6L322.3 456.5L312.6 463.1Z"/><path class="m" d="M320.8 468.7L330.6 462.6L322.3 456.5L312.6 463.1Z"/>
<path class="c7" d="M275 486.8L284.9 476.1L276.9 472.7L267 484.1Z"/><path class="c8" d="M278.5 483.1L284.9 476.1L276.9 472.7L273.1 477.1Z"/><path class="m" d="M275 486.8L284.9 476.1L276.9 472.7L267 484.1Z"/>
<path class="c8" d="M374.9 478.9L384.2 478.2L375.9 468.8L366.5 470.2Z"/><path class="m" d="M374.9 478.9L384.2 478.2L375.9 468.8L366.5 470.2Z"/>
<path class="c5" d="M247.4 510.1L257.2 496.5L249.4 494.8L239.7 508.9Z"/><path class="c6" d="M248.9 508L257.2 496.5L249.4 494.8L244.9 501.4Z"/><path class="m" d="M247.4 510.1L257.2 496.5L249.4 494.8L239.7 508.9Z"/>
<path class="c9" d="M338.9 469.2L348.6 465L340.2 457.7L330.6 462.6Z"/><path class="m" d="M338.9 469.2L348.6 465L340.2 457.7L330.6 462.6Z"/>
<path class="c8" d="M356.9 472.7L366.5 470.2L358.1 461.8L348.6 465Z"/><path class="c9" d="M356.9 472.7L359.7 471.9L363.8 467.5L358.1 461.8L348.6 465Z"/><path class="m" d="M356.9 472.7L366.5 470.2L358.1 461.8L348.6 465Z"/>
<path class="c1" d="M210.5 557.9L220.2 540.5L212.8 540.9L203.2 558.8Z"/><path class="c2" d="M211.2 556.8L220.2 540.5L212.8 540.9L208.1 549.6Z"/><path class="c3" d="M218.7 543.3L220.2 540.5L217.4 540.7Z"/><path class="m" d="M210.5 557.9L220.2 540.5L212.8 540.9L203.2 558.8Z"/>
<path class="c8" d="M293 479.9L302.8 471L294.7 466.5L284.9 476.1Z"/><path class="m" d="M293 479.9L302.8 471L294.7 466.5L284.9 476.1Z"/>
<path class="c0" d="M200.9 576.4L210.5 557.9L203.2 558.8L193.6 576.1Z"/><path class="c1" d="M204.3 569.9L210.5 557.9L203.2 558.8L201.2 562.3Z"/><path class="m" d="M200.9 576.4L210.5 557.9L203.2 558.8L193.6 576.1Z"/>
<path class="c4" d="M237.6 524.8L247.4 510.1L239.7 508.9L229.9 524.2Z"/><path class="c5" d="M239.2 522.4L247.4 510.1L239.7 508.9L235.4 515.6Z"/><path class="m" d="M237.6 524.8L247.4 510.1L239.7 508.9L229.9 524.2Z"/>
<path class="c6" d="M265.1 498.7L275 486.8L267 484.1L257.2 496.5Z"/><path class="c7" d="M265.1 498.7L275 486.8L267 484.1L260.1 492.9L264 498.4Z"/><path class="m" d="M265.1 498.7L275 486.8L267 484.1L257.2 496.5Z"/>
<path class="c6" d="M401.1 498.4L410.2 499.9L401.8 489L392.6 488.1Z"/><path class="c7" d="M401.1 498.4L404.5 499L405.1 493.3L401.8 489L392.6 488.1Z"/><path class="m" d="M401.1 498.4L410.2 499.9L401.8 489L392.6 488.1Z"/>
<path class="c8" d="M311 475.9L320.8 468.7L312.6 463.1L302.8 471Z"/><path class="c9" d="M311.7 475.4L320.8 468.7L312.6 463.1L303.4 470.5Z"/><path class="m" d="M311 475.9L320.8 468.7L312.6 463.1L302.8 471Z"/>
<path class="c7" d="M383.3 488.2L392.6 488.1L384.2 478.2L374.9 478.9Z"/><path class="c8" d="M383.3 488.2L385.9 488.2L387.7 482.3L384.2 478.2L374.9 478.9Z"/><path class="m" d="M383.3 488.2L392.6 488.1L384.2 478.2L374.9 478.9Z"/>
<path class="c9" d="M329.1 474.6L338.9 469.2L330.6 462.6L320.8 468.7Z"/><path class="m" d="M329.1 474.6L338.9 469.2L330.6 462.6L320.8 468.7Z"/>
<path class="c8" d="M365.4 480.8L374.9 478.9L366.5 470.2L356.9 472.7Z"/><path class="c9" d="M359.7 471.9L356.9 472.7L358.1 473.8Z"/><path class="m" d="M365.4 480.8L374.9 478.9L366.5 470.2L356.9 472.7Z"/>
<path class="c9" d="M347.3 476.3L356.9 472.7L348.6 465L338.9 469.2Z"/><path class="m" d="M347.3 476.3L356.9 472.7L348.6 465L338.9 469.2Z"/>
<path class="c3" d="M227.8 540.6L237.6 524.8L229.9 524.2L220.2 540.5Z"/><path class="c4" d="M230.3 536.5L237.6 524.8L229.9 524.2L226.7 529.6Z"/><path class="m" d="M227.8 540.6L237.6 524.8L229.9 524.2L220.2 540.5Z"/>
<path class="c7" d="M283 490.1L293 479.9L284.9 476.1L275 486.8Z"/><path class="c8" d="M284 489.1L293 479.9L284.9 476.1L278.5 483.1Z"/><path class="m" d="M283 490.1L293 479.9L284.9 476.1L275 486.8Z"/>
<path class="c5" d="M255.2 511.7L265.1 498.7L257.2 496.5L247.4 510.1Z"/><path class="c6" d="M255.2 511.7L265.1 498.7L257.2 496.5L248.9 508L250.7 510.8Z"/><path class="c7" d="M264.7 499.3L265.1 498.7L264 498.4Z"/><path class="m" d="M255.2 511.7L265.1 498.7L257.2 496.5L247.4 510.1Z"/>
<path class="c1" d="M218 557.5L227.8 540.6L220.2 540.5L210.5 557.9Z"/><path class="c2" d="M218 557.5L227.8 540.6L220.2 540.5L211.2 556.8L211.6 557.9Z"/><path class="c3" d="M222.1 550.4L227.8 540.6L220.2 540.5L218.7 543.3Z"/><path class="m" d="M218 557.5L227.8 540.6L220.2 540.5L210.5 557.9Z"/>
<path class="c8" d="M301.1 484.2L311 475.9L302.8 471L293 479.9Z"/><path class="m" d="M301.1 484.2L311 475.9L302.8 471L293 479.9Z"/>
<path class="c6" d="M409.6 509.2L418.7 511.3L410.2 499.9L401.1 498.4Z"/><path class="c7" d="M404.5 499L401.1 498.4L404.2 502.4Z"/><path class="m" d="M409.6 509.2L418.7 511.3L410.2 499.9L401.1 498.4Z"/>
<path class="c8" d="M319.3 481.2L329.1 474.6L320.8 468.7L311 475.9Z"/><path class="c9" d="M321.8 479.6L329.1 474.6L320.8 468.7L311.7 475.4Z"/><path class="m" d="M319.3 481.2L329.1 474.6L320.8 468.7L311 475.9Z"/>
<path class="c7" d="M391.8 498L401.1 498.4L392.6 488.1L383.3 488.2Z"/><path class="c8" d="M385.9 488.2L383.3 488.2L385.3 490.5Z"/><path class="m" d="M391.8 498L401.1 498.4L392.6 488.1L383.3 488.2Z"/>
<path class="c4" d="M245.3 525.9L255.2 511.7L247.4 510.1L237.6 524.8Z"/><path class="c5" d="M245.3 525.9L255.2 511.7L247.4 510.1L239.2 522.4L240.8 525.3Z"/><path class="c6" d="M253.2 514.6L255.2 511.7L250.7 510.8Z"/><path class="m" d="M245.3 525.9L255.2 511.7L247.4 510.1L237.6 524.8Z"/>
<path class="c7" d="M273.1 501.3L283 490.1L275 486.8L265.1 498.7Z"/><path class="m" d="M273.1 501.3L283 490.1L275 486.8L265.1 498.7Z"/>
<path class="c0" d="M208.3 575.4L218 557.5L210.5 557.9L200.9 576.4Z"/><path class="c1" d="M208.3 575.4L218 557.5L210.5 557.9L204.3 569.9L206.6 575.6Z"/><path class="c2" d="M214.4 564L218 557.5L211.6 557.9Z"/><path class="m" d="M208.3 575.4L218 557.5L210.5 557.9L200.9 576.4Z"/>
<path class="c9" d="M337.5 481.1L347.3 476.3L338.9 469.2L329.1 474.6Z"/><path class="m" d="M337.5 481.1L347.3 476.3L338.9 469.2L329.1 474.6Z"/>
<path class="c8" d="M373.8 489.5L383.3 488.2L374.9 478.9L365.4 480.8Z"/><path class="m" d="M373.8 489.5L383.3 488.2L374.9 478.9L365.4 480.8Z"/>
<path class="c8" d="M355.7 483.8L365.4 480.8L356.9 472.7L347.3 476.3Z"/><path class="c9" d="M358.1 473.8L356.9 472.7L347.3 476.3L350.4 479.1Z"/><path class="m" d="M355.7 483.8L365.4 480.8L356.9 472.7L347.3 476.3Z"/>
<path class="c7" d="M291.2 493.7L301.1 484.2L293 479.9L283 490.1Z"/><path class="c8" d="M291.2 493.7L301.1 484.2L293 479.9L284 489.1L286.4 491.6Z"/><path class="m" d="M291.2 493.7L301.1 484.2L293 479.9L283 490.1Z"/>
<path class="c3" d="M235.4 541.1L245.3 525.9L237.6 524.8L227.8 540.6Z"/><path class="c4" d="M235.4 541.1L245.3 525.9L237.6 524.8L230.3 536.5L232.5 540.9Z"/><path class="c5" d="M243.1 529.2L245.3 525.9L240.8 525.3Z"/><path class="m" d="M235.4 541.1L245.3 525.9L237.6 524.8L227.8 540.6Z"/>
<path class="c5" d="M418.1 520.5L427.1 523.2L418.7 511.3L409.6 509.2Z"/><path class="c6" d="M418.1 520.5L418.8 520.7L419 511.8L418.7 511.3L409.6 509.2Z"/><path class="m" d="M418.1 520.5L427.1 523.2L418.7 511.3L409.6 509.2Z"/>
<path class="c6" d="M263.2 513.8L273.1 501.3L265.1 498.7L255.2 511.7Z"/><path class="c7" d="M269.6 505.7L273.1 501.3L265.1 498.7L264.7 499.3Z"/><path class="m" d="M263.2 513.8L273.1 501.3L265.1 498.7L255.2 511.7Z"/>
<path class="c8" d="M309.4 488.9L319.3 481.2L311 475.9L301.1 484.2Z"/><path class="m" d="M309.4 488.9L319.3 481.2L311 475.9L301.1 484.2Z"/>
<path class="c6" d="M400.4 508.2L409.6 509.2L401.1 498.4L391.8 498Z"/><path class="c7" d="M400.4 508.2L403.3 508.5L404.2 502.4L401.1 498.4L391.8 498Z"/><path class="m" d="M400.4 508.2L409.6 509.2L401.1 498.4L391.8 498Z"/>
<path class="c2" d="M225.6 557.4L235.4 541.1L227.8 540.6L218 557.5Z"/><path class="c3" d="M225.6 557.4L235.4 541.1L227.8 540.6L222.1 550.4L225.3 557.4Z"/><path class="c4" d="M233.9 543.6L235.4 541.1L232.5 540.9Z"/><path class="m" d="M225.6 557.4L235.4 541.1L227.8 540.6L218 557.5Z"/>
<path class="c8" d="M327.7 487L337.5 481.1L329.1 474.6L319.3 481.2Z"/><path class="c9" d="M335.7 482.2L337.5 481.1L329.1 474.6L321.8 479.6Z"/><path class="m" d="M327.7 487L337.5 481.1L329.1 474.6L319.3 481.2Z"/>
<path class="c7" d="M382.4 498.6L391.8 498L383.3 488.2L373.8 489.5Z"/><path class="c8" d="M385.3 490.5L383.3 488.2L373.8 489.5L382.3 498.6Z"/><path class="m" d="M382.4 498.6L391.8 498L383.3 488.2L373.8 489.5Z"/>
<path class="c8" d="M346 488L355.7 483.8L347.3 476.3L337.5 481.1Z"/><path class="c9" d="M350.4 479.1L347.3 476.3L337.5 481.1L339 482.3Z"/><path class="m" d="M346 488L355.7 483.8L347.3 476.3L337.5 481.1Z"/>
<path class="c7" d="M281.2 504.4L291.2 493.7L283 490.1L273.1 501.3Z"/><path class="c8" d="M289.9 495.1L291.2 493.7L286.4 491.6Z"/><path class="m" d="M281.2 504.4L291.2 493.7L283 490.1L273.1 501.3Z"/>
<path class="c8" d="M364.2 491.9L373.8 489.5L365.4 480.8L355.7 483.8Z"/><path class="m" d="M364.2 491.9L373.8 489.5L365.4 480.8L355.7 483.8Z"/>
<path class="c5" d="M253.2 527.3L263.2 513.8L255.2 511.7L245.3 525.9Z"/><path class="c6" d="M257.6 521.3L263.2 513.8L255.2 511.7L253.2 514.6Z"/><path class="m" d="M253.2 527.3L263.2 513.8L255.2 511.7L245.3 525.9Z"/>
<path class="c4" d="M426.7 532.3L435.6 535.6L427.1 523.2L418.1 520.5Z"/><path class="c5" d="M426.7 532.3L431.5 534.1L431.5 529.5L427.1 523.2L418.1 520.5Z"/><path class="c6" d="M418.8 520.7L418.1 520.5L418.8 521.5Z"/><path class="m" d="M426.7 532.3L435.6 535.6L427.1 523.2L418.1 520.5Z"/>
<path class="c1" d="M215.7 574.8L225.6 557.4L218 557.5L208.3 575.4Z"/><path class="c2" d="M217.7 571.4L225.6 557.4L218 557.5L214.4 564Z"/><path class="c3" d="M225.4 557.6L225.6 557.4L225.3 557.4Z"/><path class="m" d="M215.7 574.8L225.6 557.4L218 557.5L208.3 575.4Z"/>
<path class="c8" d="M299.4 497.8L309.4 488.9L301.1 484.2L291.2 493.7Z"/><path class="m" d="M299.4 497.8L309.4 488.9L301.1 484.2L291.2 493.7Z"/>
<path class="c6" d="M408.9 518.9L418.1 520.5L409.6 509.2L400.4 508.2Z"/><path class="c7" d="M403.3 508.5L400.4 508.2L403 511.4Z"/><path class="m" d="M408.9 518.9L418.1 520.5L409.6 509.2L400.4 508.2Z"/>
<path class="c4" d="M243.2 542L253.2 527.3L245.3 525.9L235.4 541.1Z"/><path class="c5" d="M247.2 536.1L253.2 527.3L245.3 525.9L243.1 529.2Z"/><path class="m" d="M243.2 542L253.2 527.3L245.3 525.9L235.4 541.1Z"/>
<path class="c6" d="M271.2 516.2L281.2 504.4L273.1 501.3L263.2 513.8Z"/><path class="c7" d="M274.7 512.1L281.2 504.4L273.1 501.3L269.6 505.7Z"/><path class="m" d="M271.2 516.2L281.2 504.4L273.1 501.3L263.2 513.8Z"/>
<path class="c8" d="M317.8 494.1L327.7 487L319.3 481.2L309.4 488.9Z"/><path class="m" d="M317.8 494.1L327.7 487L319.3 481.2L309.4 488.9Z"/>
<path class="c7" d="M391 508.2L400.4 508.2L391.8 498L382.4 498.6Z"/><path class="m" d="M391 508.2L400.4 508.2L391.8 498L382.4 498.6Z"/>
<path class="c8" d="M336.1 493.3L346 488L337.5 481.1L327.7 487Z"/><path class="c9" d="M339 482.3L337.5 481.1L335.7 482.2Z"/><path class="m" d="M336.1 493.3L346 488L337.5 481.1L327.7 487Z"/>
<path class="c7" d="M372.8 500.4L382.4 498.6L373.8 489.5L364.2 491.9Z"/><path class="c8" d="M372.8 500.4L382.3 498.6L382.3 498.6L373.8 489.5L364.2 491.9Z"/><path class="m" d="M372.8 500.4L382.4 498.6L373.8 489.5L364.2 491.9Z"/>
<path class="c8" d="M354.5 495.4L364.2 491.9L355.7 483.8L346 488Z"/><path class="m" d="M354.5 495.4L364.2 491.9L355.7 483.8L346 488Z"/>
<path class="c3" d="M233.3 557.8L243.2 542L235.4 541.1L225.6 557.4Z"/><path class="c4" d="M237.7 550.7L243.2 542L235.4 541.1L233.9 543.6Z"/><path class="m" d="M233.3 557.8L243.2 542L235.4 541.1L225.6 557.4Z"/>
<path class="c7" d="M289.4 507.9L299.4 497.8L291.2 493.7L281.2 504.4Z"/><path class="c8" d="M296.4 500.9L299.4 497.8L291.2 493.7L289.9 495.1Z"/><path class="m" d="M289.4 507.9L299.4 497.8L291.2 493.7L281.2 504.4Z"/>
<path class="c5" d="M261.2 529.2L271.2 516.2L263.2 513.8L253.2 527.3Z"/><path class="c6" d="M262 528.1L271.2 516.2L263.2 513.8L257.6 521.3Z"/><path class="m" d="M261.2 529.2L271.2 516.2L263.2 513.8L253.2 527.3Z"/>
<path class="c5" d="M417.5 530L426.7 532.3L418.1 520.5L408.9 518.9Z"/><path class="c6" d="M417.5 530L418.4 530.2L418.8 521.5L418.1 520.5L408.9 518.9Z"/><path class="m" d="M417.5 530L426.7 532.3L418.1 520.5L408.9 518.9Z"/>
<path class="c8" d="M307.8 502.4L317.8 494.1L309.4 488.9L299.4 497.8Z"/><path class="m" d="M307.8 502.4L317.8 494.1L309.4 488.9L299.4 497.8Z"/>
<path class="c1" d="M223.4 574.6L233.3 557.8L225.6 557.4L215.7 574.8Z"/><path class="c2" d="M223.4 574.6L233.3 557.8L225.6 557.4L217.7 571.4L219.2 574.7Z"/><path class="c3" d="M229.1 564.9L233.3 557.8L225.6 557.4L225.4 557.6Z"/><path class="m" d="M223.4 574.6L233.3 557.8L225.6 557.4L215.7 574.8Z"/>
<path class="c6" d="M399.6 518.3L408.9 518.9L400.4 508.2L391 508.2Z"/><path class="c7" d="M399.6 518.3L401.7 518.4L403 511.4L400.4 508.2L391 508.2Z"/><path class="m" d="M399.6 518.3L408.9 518.9L400.4 508.2L391 508.2Z"/>
<path class="c8" d="M326.2 499.8L336.1 493.3L327.7 487L317.8 494.1Z"/><path class="m" d="M326.2 499.8L336.1 493.3L327.7 487L317.8 494.1Z"/>
<path class="c6" d="M279.3 519.1L289.4 507.9L281.2 504.4L271.2 516.2Z"/><path class="c7" d="M279.8 518.6L289.4 507.9L281.2 504.4L274.7 512.1Z"/><path class="m" d="M279.3 519.1L289.4 507.9L281.2 504.4L271.2 516.2Z"/>
<path class="c4" d="M251.1 543.3L261.2 529.2L253.2 527.3L243.2 542Z"/><path class="c5" d="M251.2 543.2L261.2 529.2L253.2 527.3L247.2 536.1Z"/><path class="m" d="M251.1 543.3L261.2 529.2L253.2 527.3L243.2 542Z"/>
<path class="c7" d="M381.4 509.4L391 508.2L382.4 498.6L372.8 500.4Z"/><path class="c8" d="M382.3 498.6L372.8 500.4L378.4 506.2Z"/><path class="m" d="M381.4 509.4L391 508.2L382.4 498.6L372.8 500.4Z"/>
<path class="c8" d="M344.7 500.1L354.5 495.4L346 488L336.1 493.3Z"/><path class="m" d="M344.7 500.1L354.5 495.4L346 488L336.1 493.3Z"/>
<path class="c8" d="M363.1 503.3L372.8 500.4L364.2 491.9L354.5 495.4Z"/><path class="m" d="M363.1 503.3L372.8 500.4L364.2 491.9L354.5 495.4Z"/>
<path class="c7" d="M297.7 511.9L307.8 502.4L299.4 497.8L289.4 507.9Z"/><path class="c8" d="M303.2 506.7L307.8 502.4L299.4 497.8L296.4 500.9Z"/><path class="m" d="M297.7 511.9L307.8 502.4L299.4 497.8L289.4 507.9Z"/>
<path class="c3" d="M241.1 558.5L251.1 543.3L243.2 542L233.3 557.8Z"/><path class="c4" d="M241.5 557.9L251.1 543.3L243.2 542L237.7 550.7Z"/><path class="m" d="M241.1 558.5L251.1 543.3L243.2 542L233.3 557.8Z"/>
<path class="c5" d="M269.3 531.5L279.3 519.1L271.2 516.2L261.2 529.2Z"/><path class="c6" d="M269.3 531.5L279.3 519.1L271.2 516.2L262 528.1L263.2 529.8Z"/><path class="m" d="M269.3 531.5L279.3 519.1L271.2 516.2L261.2 529.2Z"/>
<path class="c6" d="M408.3 528.8L417.5 530L408.9 518.9L399.6 518.3Z"/><path class="c7" d="M401.7 518.4L399.6 518.3L401.4 520.5Z"/><path class="m" d="M408.3 528.8L417.5 530L408.9 518.9L399.6 518.3Z"/>
<path class="c8" d="M316.2 507.5L326.2 499.8L317.8 494.1L307.8 502.4Z"/><path class="m" d="M316.2 507.5L326.2 499.8L317.8 494.1L307.8 502.4Z"/>
<path class="c7" d="M390.1 518.8L399.6 518.3L391 508.2L381.4 509.4Z"/><path class="m" d="M390.1 518.8L399.6 518.3L391 508.2L381.4 509.4Z"/>
<path class="c8" d="M334.7 506L344.7 500.1L336.1 493.3L326.2 499.8Z"/><path class="m" d="M334.7 506L344.7 500.1L336.1 493.3L326.2 499.8Z"/>
<path class="c2" d="M231.1 574.8L241.1 558.5L233.3 557.8L223.4 574.6Z"/><path class="c3" d="M232.7 572.3L241.1 558.5L233.3 557.8L229.1 564.9Z"/><path class="m" d="M231.1 574.8L241.1 558.5L233.3 557.8L223.4 574.6Z"/>
<path class="c7" d="M371.7 511.6L381.4 509.4L372.8 500.4L363.1 503.3Z"/><path class="c8" d="M371.7 511.6L375.3 510.8L378.4 506.2L372.8 500.4L363.1 503.3Z"/><path class="m" d="M371.7 511.6L381.4 509.4L372.8 500.4L363.1 503.3Z"/>
<path class="c8" d="M353.2 507.4L363.1 503.3L354.5 495.4L344.7 500.1Z"/><path class="m" d="M353.2 507.4L363.1 503.3L354.5 495.4L344.7 500.1Z"/>
<path class="c6" d="M287.6 522.5L297.7 511.9L289.4 507.9L279.3 519.1Z"/><path class="c7" d="M287.6 522.5L297.7 511.9L289.4 507.9L279.8 518.6L280.7 519.7Z"/><path class="m" d="M287.6 522.5L297.7 511.9L289.4 507.9L279.3 519.1Z"/>
<path class="c4" d="M259.1 545L269.3 531.5L261.2 529.2L251.1 543.3Z"/><path class="c5" d="M259.1 545L269.3 531.5L261.2 529.2L251.2 543.2L251.3 543.3Z"/><path class="c6" d="M266.8 534.8L269.3 531.5L263.2 529.8Z"/><path class="m" d="M259.1 545L269.3 531.5L261.2 529.2L251.1 543.3Z"/>
<path class="c7" d="M306.1 516.3L316.2 507.5L307.8 502.4L297.7 511.9Z"/><path class="c8" d="M310.6 512.4L316.2 507.5L307.8 502.4L303.2 506.7Z"/><path class="m" d="M306.1 516.3L316.2 507.5L307.8 502.4L297.7 511.9Z"/>
<path class="c3" d="M249 559.7L259.1 545L251.1 543.3L241.1 558.5Z"/><path class="c4" d="M249 559.7L259.1 545L251.1 543.3L241.5 557.9L241.9 558.6Z"/><path class="c5" d="M255.6 550.2L259.1 545L251.3 543.3Z"/><path class="m" d="M249 559.7L259.1 545L251.1 543.3L241.1 558.5Z"/>
<path class="c6" d="M398.8 528.8L408.3 528.8L399.6 518.3L390.1 518.8Z"/><path class="c7" d="M398.8 528.8L399.5 528.8L401.4 520.5L399.6 518.3L390.1 518.8Z"/><path class="m" d="M398.8 528.8L408.3 528.8L399.6 518.3L390.1 518.8Z"/>
<path class="c6" d="M277.4 534.3L287.6 522.5L279.3 519.1L269.3 531.5Z"/><path class="c7" d="M285.4 525L287.6 522.5L280.7 519.7Z"/><path class="m" d="M277.4 534.3L287.6 522.5L279.3 519.1L269.3 531.5Z"/>
<path class="c8" d="M324.7 513L334.7 506L326.2 499.8L316.2 507.5Z"/><path class="m" d="M324.7 513L334.7 506L326.2 499.8L316.2 507.5Z"/>
<path class="c7" d="M380.4 520.5L390.1 518.8L381.4 509.4L371.7 511.6Z"/><path class="c8" d="M375.3 510.8L371.7 511.6L373.6 513.5Z"/><path class="m" d="M380.4 520.5L390.1 518.8L381.4 509.4L371.7 511.6Z"/>
<path class="c8" d="M343.3 512.6L353.2 507.4L344.7 500.1L334.7 506Z"/><path class="m" d="M343.3 512.6L353.2 507.4L344.7 500.1L334.7 506Z"/>
<path class="c8" d="M361.9 515.1L371.7 511.6L363.1 503.3L353.2 507.4Z"/><path class="m" d="M361.9 515.1L371.7 511.6L363.1 503.3L353.2 507.4Z"/>
<path class="c2" d="M239 575.4L249 559.7L241.1 558.5L231.1 574.8Z"/><path class="c3" d="M239 575.4L249 559.7L241.1 558.5L232.7 572.3L234 575.1Z"/><path class="c4" d="M245.5 565.1L249 559.7L241.9 558.6Z"/><path class="m" d="M239 575.4L249 559.7L241.1 558.5L231.1 574.8Z"/>
<path class="c7" d="M295.9 526.3L306.1 516.3L297.7 511.9L287.6 522.5Z"/><path class="m" d="M295.9 526.3L306.1 516.3L297.7 511.9L287.6 522.5Z"/>
<path class="c5" d="M267.3 547.2L277.4 534.3L269.3 531.5L259.1 545Z"/><path class="c6" d="M271.6 541.7L277.4 534.3L269.3 531.5L266.8 534.8Z"/><path class="m" d="M267.3 547.2L277.4 534.3L269.3 531.5L259.1 545Z"/>
<path class="c7" d="M314.6 521.2L324.7 513L316.2 507.5L306.1 516.3Z"/><path class="c8" d="M318.8 517.7L324.7 513L316.2 507.5L310.6 512.4Z"/><path class="m" d="M314.6 521.2L324.7 513L316.2 507.5L306.1 516.3Z"/>
<path class="c8" d="M333.3 519L343.3 512.6L334.7 506L324.7 513Z"/><path class="m" d="M333.3 519L343.3 512.6L334.7 506L324.7 513Z"/>
<path class="c7" d="M389.2 529.8L398.8 528.8L390.1 518.8L380.4 520.5Z"/><path class="m" d="M389.2 529.8L398.8 528.8L390.1 518.8L380.4 520.5Z"/>
<path class="c6" d="M285.7 537.5L295.9 526.3L287.6 522.5L277.4 534.3Z"/><path class="c7" d="M291.2 531.5L295.9 526.3L287.6 522.5L285.4 525Z"/><path class="m" d="M285.7 537.5L295.9 526.3L287.6 522.5L277.4 534.3Z"/>
<path class="c8" d="M352 519.7L361.9 515.1L353.2 507.4L343.3 512.6Z"/><path class="m" d="M352 519.7L361.9 515.1L353.2 507.4L343.3 512.6Z"/>
<path class="c7" d="M370.6 523.3L380.4 520.5L371.7 511.6L361.9 515.1Z"/><path class="c8" d="M373.6 513.5L371.7 511.6L361.9 515.1L367.2 520Z"/><path class="m" d="M370.6 523.3L380.4 520.5L371.7 511.6L361.9 515.1Z"/>
<path class="c4" d="M257.1 561.3L267.3 547.2L259.1 545L249 559.7Z"/><path class="c5" d="M260 557.3L267.3 547.2L259.1 545L255.6 550.2Z"/><path class="m" d="M257.1 561.3L267.3 547.2L259.1 545L249 559.7Z"/>
<path class="c7" d="M304.4 530.6L314.6 521.2L306.1 516.3L295.9 526.3Z"/><path class="m" d="M304.4 530.6L314.6 521.2L306.1 516.3L295.9 526.3Z"/>
<path class="c3" d="M246.9 576.5L257.1 561.3L249 559.7L239 575.4Z"/><path class="c4" d="M249.6 572.5L257.1 561.3L249 559.7L245.5 565.1Z"/><path class="m" d="M246.9 576.5L257.1 561.3L249 559.7L239 575.4Z"/>
<path class="c5" d="M275.5 549.8L285.7 537.5L277.4 534.3L267.3 547.2Z"/><path class="c6" d="M276.5 548.6L285.7 537.5L277.4 534.3L271.6 541.7Z"/><path class="m" d="M275.5 549.8L285.7 537.5L277.4 534.3L267.3 547.2Z"/>
<path class="c7" d="M323.1 526.6L333.3 519L324.7 513L314.6 521.2Z"/><path class="c8" d="M328.4 522.6L333.3 519L324.7 513L318.8 517.7Z"/><path class="m" d="M323.1 526.6L333.3 519L324.7 513L314.6 521.2Z"/>
<path class="c8" d="M341.9 525.5L352 519.7L343.3 512.6L333.3 519Z"/><path class="m" d="M341.9 525.5L352 519.7L343.3 512.6L333.3 519Z"/>
<path class="c7" d="M379.4 532L389.2 529.8L380.4 520.5L370.6 523.3Z"/><path class="m" d="M379.4 532L389.2 529.8L380.4 520.5L370.6 523.3Z"/>
<path class="c7" d="M360.7 527.3L370.6 523.3L361.9 515.1L352 519.7Z"/><path class="c8" d="M367.2 520L361.9 515.1L352 519.7L358.3 525.2Z"/><path class="m" d="M360.7 527.3L370.6 523.3L361.9 515.1L352 519.7Z"/>
<path class="c6" d="M294.1 541.1L304.4 530.6L295.9 526.3L285.7 537.5Z"/><path class="c7" d="M297.2 537.9L304.4 530.6L295.9 526.3L291.2 531.5Z"/><path class="m" d="M294.1 541.1L304.4 530.6L295.9 526.3L285.7 537.5Z"/>
<path class="c4" d="M265.3 563.3L275.5 549.8L267.3 547.2L257.1 561.3Z"/><path class="c5" d="M265.3 563.3L275.5 549.8L267.3 547.2L260 557.3L263.3 562.8Z"/><path class="m" d="M265.3 563.3L275.5 549.8L267.3 547.2L257.1 561.3Z"/>
<path class="c7" d="M312.9 535.3L323.1 526.6L314.6 521.2L304.4 530.6Z"/><path class="m" d="M312.9 535.3L323.1 526.6L314.6 521.2L304.4 530.6Z"/>
<path class="c7" d="M331.8 532.4L341.9 525.5L333.3 519L323.1 526.6Z"/><path class="c8" d="M340.4 526.5L341.9 525.5L333.3 519L328.4 522.6Z"/><path class="m" d="M331.8 532.4L341.9 525.5L333.3 519L323.1 526.6Z"/>
<path class="c3" d="M255 577.9L265.3 563.3L257.1 561.3L246.9 576.5Z"/><path class="c4" d="M255 577.9L265.3 563.3L257.1 561.3L249.6 572.5L252.3 577.4Z"/><path class="c5" d="M264.4 564.5L265.3 563.3L263.3 562.8Z"/><path class="m" d="M255 577.9L265.3 563.3L257.1 561.3L246.9 576.5Z"/>
<path class="c5" d="M283.9 552.9L294.1 541.1L285.7 537.5L275.5 549.8Z"/><path class="c6" d="M283.9 552.9L294.1 541.1L285.7 537.5L276.5 548.6L278.1 550.8Z"/><path class="m" d="M283.9 552.9L294.1 541.1L285.7 537.5L275.5 549.8Z"/>
<path class="c7" d="M350.7 532.4L360.7 527.3L352 519.7L341.9 525.5Z"/><path class="c8" d="M358.3 525.2L352 519.7L341.9 525.5L343.9 527Z"/><path class="m" d="M350.7 532.4L360.7 527.3L352 519.7L341.9 525.5Z"/>
<path class="c7" d="M369.5 535.3L379.4 532L370.6 523.3L360.7 527.3Z"/><path class="m" d="M369.5 535.3L379.4 532L370.6 523.3L360.7 527.3Z"/>
<path class="c6" d="M302.7 545.3L312.9 535.3L304.4 530.6L294.1 541.1Z"/><path class="c7" d="M303.5 544.4L312.9 535.3L304.4 530.6L297.2 537.9Z"/><path class="m" d="M302.7 545.3L312.9 535.3L304.4 530.6L294.1 541.1Z"/>
<path class="c5" d="M273.6 565.8L283.9 552.9L275.5 549.8L265.3 563.3Z"/><path class="c6" d="M281.7 555.5L283.9 552.9L278.1 550.8Z"/><path class="m" d="M273.6 565.8L283.9 552.9L275.5 549.8L265.3 563.3Z"/>
<path class="c7" d="M321.6 540.5L331.8 532.4L323.1 526.6L312.9 535.3Z"/><path class="m" d="M321.6 540.5L331.8 532.4L323.1 526.6L312.9 535.3Z"/>
<path class="c7" d="M340.5 538.7L350.7 532.4L341.9 525.5L331.8 532.4Z"/><path class="c8" d="M343.9 527L341.9 525.5L340.4 526.5Z"/><path class="m" d="M340.5 538.7L350.7 532.4L341.9 525.5L331.8 532.4Z"/>
<path class="c7" d="M359.5 539.8L369.5 535.3L360.7 527.3L350.7 532.4Z"/><path class="m" d="M359.5 539.8L369.5 535.3L360.7 527.3L350.7 532.4Z"/>
<path class="c6" d="M292.3 556.4L302.7 545.3L294.1 541.1L283.9 552.9Z"/><path class="m" d="M292.3 556.4L302.7 545.3L294.1 541.1L283.9 552.9Z"/>
<path class="c4" d="M263.3 579.8L273.6 565.8L265.3 563.3L255 577.9Z"/><path class="c5" d="M269.2 571.8L273.6 565.8L265.3 563.3L264.4 564.5Z"/><path class="m" d="M263.3 579.8L273.6 565.8L265.3 563.3L255 577.9Z"/>
<path class="c6" d="M311.3 549.9L321.6 540.5L312.9 535.3L302.7 545.3Z"/><path class="c7" d="M311.3 549.9L321.6 540.5L312.9 535.3L303.5 544.4L306.9 547.5Z"/><path class="m" d="M311.3 549.9L321.6 540.5L312.9 535.3L302.7 545.3Z"/>
<path class="c5" d="M282 568.7L292.3 556.4L283.9 552.9L273.6 565.8Z"/><path class="c6" d="M287.2 562.5L292.3 556.4L283.9 552.9L281.7 555.5Z"/><path class="m" d="M282 568.7L292.3 556.4L283.9 552.9L273.6 565.8Z"/>
<path class="c7" d="M330.3 546.2L340.5 538.7L331.8 532.4L321.6 540.5Z"/><path class="m" d="M330.3 546.2L340.5 538.7L331.8 532.4L321.6 540.5Z"/>
<path class="c7" d="M349.3 545.5L359.5 539.8L350.7 532.4L340.5 538.7Z"/><path class="m" d="M349.3 545.5L359.5 539.8L350.7 532.4L340.5 538.7Z"/>
<path class="c6" d="M300.9 560.4L311.3 549.9L302.7 545.3L292.3 556.4Z"/><path class="c7" d="M310.4 550.7L311.3 549.9L306.9 547.5Z"/><path class="m" d="M300.9 560.4L311.3 549.9L302.7 545.3L292.3 556.4Z"/>
<path class="c4" d="M271.6 582.2L282 568.7L273.6 565.8L263.3 579.8Z"/><path class="c5" d="M273.9 579.1L282 568.7L273.6 565.8L269.2 571.8Z"/><path class="m" d="M271.6 582.2L282 568.7L273.6 565.8L263.3 579.8Z"/>
<path class="c7" d="M320 554.9L330.3 546.2L321.6 540.5L311.3 549.9Z"/><path class="m" d="M320 554.9L330.3 546.2L321.6 540.5L311.3 549.9Z"/>
<path class="c7" d="M339.1 552.4L349.3 545.5L340.5 538.7L330.3 546.2Z"/><path class="m" d="M339.1 552.4L349.3 545.5L340.5 538.7L330.3 546.2Z"/>
<path class="c5" d="M290.5 572.1L300.9 560.4L292.3 556.4L282 568.7Z"/><path class="c6" d="M292.8 569.5L300.9 560.4L292.3 556.4L287.2 562.5Z"/><path class="m" d="M290.5 572.1L300.9 560.4L292.3 556.4L282 568.7Z"/>
<path class="c6" d="M309.6 564.8L320 554.9L311.3 549.9L300.9 560.4Z"/><path class="c7" d="M317.9 556.9L320 554.9L311.3 549.9L310.4 550.7Z"/><path class="m" d="M309.6 564.8L320 554.9L311.3 549.9L300.9 560.4Z"/>
<path class="c4" d="M280 584.9L290.5 572.1L282 568.7L271.6 582.2Z"/><path class="c5" d="M280 584.9L290.5 572.1L282 568.7L273.9 579.1L277.1 584Z"/><path class="m" d="M280 584.9L290.5 572.1L282 568.7L271.6 582.2Z"/>
<path class="c7" d="M328.7 560.5L339.1 552.4L330.3 546.2L320 554.9Z"/><path class="m" d="M328.7 560.5L339.1 552.4L330.3 546.2L320 554.9Z"/>
<path class="c5" d="M299.1 575.9L309.6 564.8L300.9 560.4L290.5 572.1Z"/><path class="c6" d="M299.1 575.9L309.6 564.8L300.9 560.4L292.8 569.5L297.4 575.1Z"/><path class="m" d="M299.1 575.9L309.6 564.8L300.9 560.4L290.5 572.1Z"/>
<path class="c6" d="M318.3 569.7L328.7 560.5L320 554.9L309.6 564.8Z"/><path class="c7" d="M326.2 562.8L328.7 560.5L320 554.9L317.9 556.9Z"/><path class="m" d="M318.3 569.7L328.7 560.5L320 554.9L309.6 564.8Z"/>
<path class="c5" d="M288.6 588.2L299.1 575.9L290.5 572.1L280 584.9Z"/><path class="c6" d="M298.6 576.5L299.1 575.9L297.4 575.1Z"/><path class="m" d="M288.6 588.2L299.1 575.9L290.5 572.1L280 584.9Z"/>
<path class="c6" d="M307.8 580.2L318.3 569.7L309.6 564.8L299.1 575.9Z"/><path class="m" d="M307.8 580.2L318.3 569.7L309.6 564.8L299.1 575.9Z"/>
<path class="c5" d="M297.3 591.9L307.8 580.2L299.1 575.9L288.6 588.2Z"/><path class="c6" d="M304.9 583.5L307.8 580.2L299.1 575.9L298.6 576.5Z"/><path class="m" d="M297.3 591.9L307.8 580.2L299.1 575.9L288.6 588.2Z"/></g>
<path class="a" d="M179.3 426.6L186.1 570.8M186.1 570.8L297.5 649.9M297.5 649.9L433.3 582.3M186.1 570.8L190 569.1M185.7 561L187.9 560M185.2 551.1L189.1 549.5M184.7 541.2L187 540.2M184.3 531.2L188.2 529.5M183.8 521.1L186.1 520.1M183.3 510.9L187.2 509.3M182.8 500.7L185.1 499.7M182.3 490.3L186.3 488.7M181.8 479.9L184.2 479M181.3 469.4L185.3 467.8M180.8 458.8L183.2 457.9M180.3 448.2L184.4 446.6M179.8 437.4L182.2 436.5M179.3 426.6L183.4 425.1M297.5 649.9L301.5 648M297.5 649.9L294.3 647.6M292.6 646.4L294.9 645.3M303.6 646.9L301.7 645.6M287.6 642.9L289.9 641.8M309.6 643.9L307.7 642.6M282.7 639.4L285 638.3M315.5 641L313.6 639.7M277.8 635.9L281.8 634M321.4 638L318.2 635.8M273 632.5L275.3 631.4M327.3 635.1L325.4 633.8M268.2 629.1L270.5 628M333.2 632.2L331.3 630.9M263.4 625.7L265.7 624.6M339 629.3L337.1 628M258.6 622.3L262.5 620.4M344.8 626.4L341.5 624.2M253.9 618.9L256.2 617.8M350.6 623.5L348.7 622.2M249.2 615.6L251.5 614.5M356.3 620.7L354.4 619.4M244.5 612.3L246.8 611.2M362 617.8L360.1 616.6M239.9 609L243.7 607.1M367.7 615L364.4 612.8M235.2 605.7L237.5 604.6M373.3 612.2L371.4 610.9M230.6 602.4L232.9 601.4M378.9 609.4L377 608.1M226.1 599.2L228.3 598.1M384.5 606.6L382.6 605.4M221.5 595.9L225.4 594.2M390 603.9L386.8 601.7M217 592.7L219.3 591.7M395.5 601.1L393.6 599.9M212.5 589.5L214.8 588.5M401 598.4L399.1 597.1M208.1 586.4L210.3 585.4M406.5 595.7L404.6 594.4M203.6 583.2L207.5 581.5M411.9 592.9L408.6 590.9M199.2 580.1L201.5 579.1M417.3 590.3L415.4 589.1M194.8 577L197.1 576M422.7 587.6L420.8 586.4M190.5 573.9L192.7 572.9M428 584.9L426.1 583.7M186.1 570.8L190 569.1M433.3 582.3L430 580.2"/>
<text class="tl" text-anchor="middle" dominant-baseline="central" transform="translate(168.8 557.1) rotate(-20)">0.4</text>
<text class="tl" text-anchor="middle" dominant-baseline="central" transform="translate(167.9 537.2) rotate(-20)">0.6</text>
<text class="tl" text-anchor="middle" dominant-baseline="central" transform="translate(166.9 516.9) rotate(-20)">0.8</text>
<text class="tl" text-anchor="middle" dominant-baseline="central" transform="translate(165.9 496.3) rotate(-20)">1.0</text>
<text class="tl" text-anchor="middle" dominant-baseline="central" transform="translate(164.9 475.4) rotate(-20)">1.2</text>
<text class="tl" text-anchor="middle" dominant-baseline="central" transform="translate(163.9 454.2) rotate(-20)">1.4</text>
<text class="tl" text-anchor="middle" dominant-baseline="central" transform="translate(162.9 432.6) rotate(-20)">1.6</text>
<text class="tl" text-anchor="middle" dominant-baseline="central" transform="translate(280.1 657.5) rotate(-26.5)">-1.2</text>
<text class="tl" text-anchor="middle" dominant-baseline="central" transform="translate(310.5 656.9) rotate(-26.5)">-1.2</text>
<text class="tl" text-anchor="middle" dominant-baseline="central" transform="translate(260.4 643.5) rotate(-26.5)">-0.8</text>
<text class="tl" text-anchor="middle" dominant-baseline="central" transform="translate(334.4 645.0) rotate(-26.5)">-0.8</text>
<text class="tl" text-anchor="middle" dominant-baseline="central" transform="translate(241.2 629.9) rotate(-26.5)">-0.4</text>
<text class="tl" text-anchor="middle" dominant-baseline="central" transform="translate(357.8 633.4) rotate(-26.5)">-0.4</text>
<text class="tl" text-anchor="middle" dominant-baseline="central" transform="translate(224.2 615.9) rotate(-26.5)">0.0</text>
<text class="tl" text-anchor="middle" dominant-baseline="central" transform="translate(379.8 623.6) rotate(-26.5)">0.0</text>
<text class="tl" text-anchor="middle" dominant-baseline="central" transform="translate(205.8 602.8) rotate(-26.5)">0.4</text>
<text class="tl" text-anchor="middle" dominant-baseline="central" transform="translate(402.1 612.5) rotate(-26.5)">0.4</text>
<text class="tl" text-anchor="middle" dominant-baseline="central" transform="translate(187.9 590.1) rotate(-26.5)">0.8</text>
<text class="tl" text-anchor="middle" dominant-baseline="central" transform="translate(424.0 601.5) rotate(-26.5)">0.8</text>
<text class="tl" text-anchor="middle" dominant-baseline="central" transform="translate(170.4 577.7) rotate(-26.5)">1.2</text>
<text class="tl" text-anchor="middle" dominant-baseline="central" transform="translate(445.4 590.9) rotate(-26.5)">1.2</text>
<text class="ax1" text-anchor="middle" dominant-baseline="central" transform="translate(145.5 504.5) rotate(87)">Pigment concentration</text>
<text class="ax2" text-anchor="middle" dominant-baseline="central" transform="translate(131.3 504.5) rotate(87)">(mg/ml)</text>
<text class="ax1" text-anchor="middle" dominant-baseline="central" transform="translate(201.3 630.2) rotate(38.5)">Inoculum age</text>
<text class="ax1" text-anchor="middle" dominant-baseline="central" transform="translate(395.5 638.0) rotate(-24)">NaCl</text>
<rect x="604.8" y="539.7" width="27" height="160.6" fill="#fff"/>
<rect x="607.3" y="542.4" width="22" height="10" class="l0" style="stroke:#111;stroke-width:1.3"/>
<text class="lg" x="673.5" y="552.3" text-anchor="end">0.301</text>
<rect x="607.3" y="556.9" width="22" height="10" class="l1" style="stroke:#111;stroke-width:1.3"/>
<text class="lg" x="673.5" y="566.8" text-anchor="end">0.401</text>
<rect x="607.3" y="571.3" width="22" height="10" class="l2" style="stroke:#111;stroke-width:1.3"/>
<text class="lg" x="673.5" y="581.2" text-anchor="end">0.502</text>
<rect x="607.3" y="585.8" width="22" height="10" class="l3" style="stroke:#111;stroke-width:1.3"/>
<text class="lg" x="673.5" y="595.7" text-anchor="end">0.603</text>
<rect x="607.3" y="600.2" width="22" height="10" class="l4" style="stroke:#111;stroke-width:1.3"/>
<text class="lg" x="673.5" y="610.1" text-anchor="end">0.704</text>
<rect x="607.3" y="614.7" width="22" height="10" class="l5" style="stroke:#111;stroke-width:1.3"/>
<text class="lg" x="673.5" y="624.6" text-anchor="end">0.804</text>
<rect x="607.3" y="629.1" width="22" height="10" class="l6" style="stroke:#111;stroke-width:1.3"/>
<text class="lg" x="673.5" y="639.0" text-anchor="end">0.905</text>
<rect x="607.3" y="643.6" width="22" height="10" class="l7" style="stroke:#111;stroke-width:1.3"/>
<text class="lg" x="673.5" y="653.5" text-anchor="end">1.006</text>
<rect x="607.3" y="658.0" width="22" height="10" class="l8" style="stroke:#111;stroke-width:1.3"/>
<text class="lg" x="673.5" y="667.9" text-anchor="end">1.107</text>
<rect x="607.3" y="672.5" width="22" height="10" class="l9" style="stroke:#111;stroke-width:1.3"/>
<text class="lg" x="673.5" y="682.4" text-anchor="end">1.207</text>
<rect x="607.3" y="686.9" width="22" height="10" class="l10" style="stroke:#111;stroke-width:1.3"/>
<text class="lg" x="673.5" y="696.8" text-anchor="end">above</text>
<rect class="lb" x="119.8" y="784.6" width="38.5" height="153.0" transform="rotate(-3 139.0 861.1)"/>
<rect class="lb" x="148.0" y="977.8" width="99.0" height="35.0" transform="rotate(38.7 197.5 995.3)"/>
<rect class="lb" x="363.2" y="985.1" width="54.0" height="20.0" transform="rotate(-26.5 390.2 995.1)"/>
<path fill="#fff" d="M186.1 927.6L179.3 783.4L320.3 730.7L440.3 794.6L433.3 939.1L297.5 1006.7Z"/>
<path class="d" d="M433.3 939.1L440.3 794.6M297.5 1006.7L186.1 927.6M297.5 1006.7L433.3 939.1M209.6 917.3L204.1 774.1M413.3 926.7L419.1 783.3M321.4 994.8L209.6 917.3M277.8 992.7L413.3 926.7M232.5 907.3L228.4 765.1M393.8 914.7L398.4 772.3M344.8 983.2L232.5 907.3M258.6 979.1L393.8 914.7M255 897.4L252.1 756.2M374.6 902.9L378.2 761.5M367.7 971.8L255 897.4M239.9 965.8L374.6 902.9M277 887.8L275.3 747.5M355.9 891.3L358.5 751M390 960.7L277 887.8M221.5 952.7L355.9 891.3M298.6 878.3L298.1 739M337.6 880.1L339.2 740.8M411.9 949.7L298.6 878.3M203.6 940L337.6 880.1M319.7 869L320.3 730.7M433.3 939.1L319.7 869M186.1 927.6L319.7 869M185.2 907.9L319.8 850.1M319.8 850.1L434.3 919.4M184.3 888L319.9 830.9M319.9 830.9L435.3 899.4M183.3 867.7L320 811.5M320 811.5L436.2 879.1M182.3 847.1L320.1 791.7M320.1 791.7L437.2 858.4M181.3 826.2L320.1 771.7M320.1 771.7L438.3 837.5M180.3 805L320.2 751.4M320.2 751.4L439.3 816.2M179.3 783.4L320.3 730.7M320.3 730.7L440.3 794.6"/>
<g><path class="c7" d="M318.6 808.5L327.8 810.1L320 804.3L310.8 803.3Z"/><path class="c8" d="M318.6 808.5L321.7 809.1L315.6 803.8L310.8 803.3Z"/><path class="m" d="M318.6 808.5L327.8 810.1L320 804.3L310.8 803.3Z"/>
<path class="c7" d="M326.5 814.2L335.7 816.3L327.8 810.1L318.6 808.5Z"/><path class="c8" d="M326.5 814.2L327.6 814.5L321.7 809.1L318.6 808.5Z"/><path class="m" d="M326.5 814.2L335.7 816.3L327.8 810.1L318.6 808.5Z"/>
<path class="c8" d="M309.2 808.1L318.6 808.5L310.8 803.3L301.4 803.4Z"/><path class="m" d="M309.2 808.1L318.6 808.5L310.8 803.3L301.4 803.4Z"/>
<path class="c8" d="M299.8 808.9L309.2 808.1L301.4 803.4L292 804.6Z"/><path class="c9" d="M299.8 808.9L306.7 808.3L299 803.7L292 804.6Z"/><path class="m" d="M299.8 808.9L309.2 808.1L301.4 803.4L292 804.6Z"/>
<path class="c6" d="M334.4 820.3L343.6 823L335.7 816.3L326.5 814.2Z"/><path class="c7" d="M334.4 820.3L342.9 822.7L341.5 821.2L335.7 816.3L326.5 814.2Z"/><path class="c8" d="M327.6 814.5L326.5 814.2L330.2 817.1Z"/><path class="m" d="M334.4 820.3L343.6 823L335.7 816.3L326.5 814.2Z"/>
<path class="c8" d="M317.1 813.3L326.5 814.2L318.6 808.5L309.2 808.1Z"/><path class="m" d="M317.1 813.3L326.5 814.2L318.6 808.5L309.2 808.1Z"/>
<path class="c9" d="M290.3 810.8L299.8 808.9L292 804.6L282.5 807.1Z"/><path class="m" d="M290.3 810.8L299.8 808.9L292 804.6L282.5 807.1Z"/>
<path class="c6" d="M342.4 826.9L351.6 830L343.6 823L334.4 820.3Z"/><path class="c7" d="M342.4 826.9L347.8 828.7L342.9 822.7L334.4 820.3Z"/><path class="m" d="M342.4 826.9L351.6 830L343.6 823L334.4 820.3Z"/>
<path class="c8" d="M307.7 813.5L317.1 813.3L309.2 808.1L299.8 808.9Z"/><path class="c9" d="M307.7 813.5L313.5 813.4L306.7 808.3L299.8 808.9Z"/><path class="m" d="M307.7 813.5L317.1 813.3L309.2 808.1L299.8 808.9Z"/>
<path class="c7" d="M325.1 818.9L334.4 820.3L326.5 814.2L317.1 813.3Z"/><path class="c8" d="M325.1 818.9L333.1 820.1L330.2 817.1L326.5 814.2L317.1 813.3Z"/><path class="m" d="M325.1 818.9L334.4 820.3L326.5 814.2L317.1 813.3Z"/>
<path class="c9" d="M280.6 814L290.3 810.8L282.5 807.1L272.8 810.9Z"/><path class="m" d="M280.6 814L290.3 810.8L282.5 807.1L272.8 810.9Z"/>
<path class="c6" d="M350.5 833.8L359.6 837.5L351.6 830L342.4 826.9Z"/><path class="c7" d="M350.5 833.8L352.8 834.7L347.8 828.7L342.4 826.9Z"/><path class="m" d="M350.5 833.8L359.6 837.5L351.6 830L342.4 826.9Z"/>
<path class="c9" d="M298.1 815L307.7 813.5L299.8 808.9L290.3 810.8Z"/><path class="m" d="M298.1 815L307.7 813.5L299.8 808.9L290.3 810.8Z"/>
<path class="c7" d="M333.1 824.9L342.4 826.9L334.4 820.3L325.1 818.9Z"/><path class="c8" d="M333.1 824.9L338.3 826L333.1 820.1L325.1 818.9Z"/><path class="m" d="M333.1 824.9L342.4 826.9L334.4 820.3L325.1 818.9Z"/>
<path class="c8" d="M315.7 818.6L325.1 818.9L317.1 813.3L307.7 813.5Z"/><path class="c9" d="M315.7 818.6L319.9 818.7L313.5 813.4L307.7 813.5Z"/><path class="m" d="M315.7 818.6L325.1 818.9L317.1 813.3L307.7 813.5Z"/>
<path class="c9" d="M270.9 818.5L280.6 814L272.8 810.9L263.2 815.8Z"/><path class="m" d="M270.9 818.5L280.6 814L272.8 810.9L263.2 815.8Z"/>
<path class="c5" d="M358.6 841.2L367.7 845.4L359.6 837.5L350.5 833.8Z"/><path class="c6" d="M358.6 841.2L365.4 844.3L362.4 840.1L359.6 837.5L350.5 833.8Z"/><path class="c7" d="M352.8 834.7L350.5 833.8L356.5 839.3Z"/><path class="m" d="M358.6 841.2L367.7 845.4L359.6 837.5L350.5 833.8Z"/>
<path class="c9" d="M288.5 817.6L298.1 815L290.3 810.8L280.6 814Z"/><path class="m" d="M288.5 817.6L298.1 815L290.3 810.8L280.6 814Z"/>
<path class="c7" d="M341.2 831.3L350.5 833.8L342.4 826.9L333.1 824.9Z"/><path class="c8" d="M341.2 831.3L343.5 831.9L338.3 826L333.1 824.9Z"/><path class="m" d="M341.2 831.3L350.5 833.8L342.4 826.9L333.1 824.9Z"/>
<path class="c9" d="M306.1 819.5L315.7 818.6L307.7 813.5L298.1 815Z"/><path class="m" d="M306.1 819.5L315.7 818.6L307.7 813.5L298.1 815Z"/>
<path class="c8" d="M323.7 824.1L333.1 824.9L325.1 818.9L315.7 818.6Z"/><path class="c9" d="M323.7 824.1L325.9 824.3L319.9 818.7L315.7 818.6Z"/><path class="m" d="M323.7 824.1L333.1 824.9L325.1 818.9L315.7 818.6Z"/>
<path class="c9" d="M261.1 824.1L270.9 818.5L263.2 815.8L253.4 822Z"/><path class="m" d="M261.1 824.1L270.9 818.5L263.2 815.8L253.4 822Z"/>
<path class="c9" d="M278.8 821.5L288.5 817.6L280.6 814L270.9 818.5Z"/><path class="m" d="M278.8 821.5L288.5 817.6L280.6 814L270.9 818.5Z"/>
<path class="c5" d="M366.8 849.1L375.9 853.7L367.7 845.4L358.6 841.2Z"/><path class="c6" d="M366.8 849.1L370.1 850.7L365.4 844.3L358.6 841.2Z"/><path class="m" d="M366.8 849.1L375.9 853.7L367.7 845.4L358.6 841.2Z"/>
<path class="c9" d="M296.4 821.6L306.1 819.5L298.1 815L288.5 817.6Z"/><path class="m" d="M296.4 821.6L306.1 819.5L298.1 815L288.5 817.6Z"/>
<path class="c6" d="M349.4 838.2L358.6 841.2L350.5 833.8L341.2 831.3Z"/><path class="c7" d="M349.4 838.2L357.7 840.9L356.5 839.3L350.5 833.8L341.2 831.3Z"/><path class="c8" d="M343.5 831.9L341.2 831.3L347.5 836.6Z"/><path class="m" d="M349.4 838.2L358.6 841.2L350.5 833.8L341.2 831.3Z"/>
<path class="c9" d="M314.1 824.5L323.7 824.1L315.7 818.6L306.1 819.5Z"/><path class="m" d="M314.1 824.5L323.7 824.1L315.7 818.6L306.1 819.5Z"/>
<path class="c8" d="M331.8 830L341.2 831.3L333.1 824.9L323.7 824.1Z"/><path class="c9" d="M325.9 824.3L323.7 824.1L331.6 829.8Z"/><path class="m" d="M331.8 830L341.2 831.3L333.1 824.9L323.7 824.1Z"/>
<path class="c8" d="M251.3 831.1L261.1 824.1L253.4 822L243.7 829.5Z"/><path class="c9" d="M252 830.6L261.1 824.1L253.4 822L253.2 822.2Z"/><path class="m" d="M251.3 831.1L261.1 824.1L253.4 822L243.7 829.5Z"/>
<path class="c9" d="M269 826.7L278.8 821.5L270.9 818.5L261.1 824.1Z"/><path class="m" d="M269 826.7L278.8 821.5L270.9 818.5L261.1 824.1Z"/>
<path class="c4" d="M375.1 857.3L384.1 862.5L375.9 853.7L366.8 849.1Z"/><path class="c5" d="M375.1 857.3L381.4 861L378.3 856.3L375.9 853.7L366.8 849.1Z"/><path class="c6" d="M370.1 850.7L366.8 849.1L374.5 856.8Z"/><path class="m" d="M375.1 857.3L384.1 862.5L375.9 853.7L366.8 849.1Z"/>
<path class="c9" d="M286.7 825L296.4 821.6L288.5 817.6L278.8 821.5Z"/><path class="c10" d="M286.7 825L294 822.5L283.8 823.7Z"/><path class="m" d="M286.7 825L296.4 821.6L288.5 817.6L278.8 821.5Z"/>
<path class="c6" d="M357.6 845.5L366.8 849.1L358.6 841.2L349.4 838.2Z"/><path class="c7" d="M357.6 845.5L362.4 847.3L357.7 840.9L349.4 838.2Z"/><path class="m" d="M357.6 845.5L366.8 849.1L358.6 841.2L349.4 838.2Z"/>
<path class="c7" d="M241.5 839.3L251.3 831.1L243.7 829.5L233.9 838.2Z"/><path class="c8" d="M241.5 839.3L251.3 831.1L243.7 829.5L236.1 836.2L236 838.5Z"/><path class="m" d="M241.5 839.3L251.3 831.1L243.7 829.5L233.9 838.2Z"/>
<path class="c9" d="M304.5 826.1L314.1 824.5L306.1 819.5L296.4 821.6Z"/><path class="c10" d="M304.5 826.1L305.3 825.9L300 823.6Z"/><path class="m" d="M304.5 826.1L314.1 824.5L306.1 819.5L296.4 821.6Z"/>
<path class="c7" d="M340 836.3L349.4 838.2L341.2 831.3L331.8 830Z"/><path class="c8" d="M340 836.3L348.6 838.1L347.5 836.6L341.2 831.3L331.8 830Z"/><path class="m" d="M340 836.3L349.4 838.2L341.2 831.3L331.8 830Z"/>
<path class="c8" d="M322.3 829.8L331.8 830L323.7 824.1L314.1 824.5Z"/><path class="c9" d="M322.3 829.8L331.7 830L331.6 829.8L323.7 824.1L314.1 824.5Z"/><path class="m" d="M322.3 829.8L331.8 830L323.7 824.1L314.1 824.5Z"/>
<path class="c8" d="M259.1 833.1L269 826.7L261.1 824.1L251.3 831.1Z"/><path class="c9" d="M259.1 833.1L269 826.7L261.1 824.1L252 830.6L251.9 831.2Z"/><path class="m" d="M259.1 833.1L269 826.7L261.1 824.1L251.3 831.1Z"/>
<path class="c3" d="M383.4 866L392.3 871.7L384.1 862.5L375.1 857.3Z"/><path class="c4" d="M383.4 866L392.2 871.6L392.1 871.4L384.1 862.5L375.1 857.3Z"/><path class="c5" d="M383.4 866L386 867.7L381.4 861L375.1 857.3Z"/><path class="m" d="M383.4 866L392.3 871.7L384.1 862.5L375.1 857.3Z"/>
<path class="c6" d="M231.6 848.7L241.5 839.3L233.9 838.2L224 848.1Z"/><path class="c7" d="M231.6 848.7L241.5 839.3L233.9 838.2L224.1 848.1L224.1 848.1Z"/><path class="c8" d="M236.5 844L241.5 839.3L236 838.5Z"/><path class="m" d="M231.6 848.7L241.5 839.3L233.9 838.2L224 848.1Z"/>
<path class="c9" d="M276.9 829.6L286.7 825L278.8 821.5L269 826.7Z"/><path class="c10" d="M278.8 828.7L286.7 825L283.8 823.7Z"/><path class="m" d="M276.9 829.6L286.7 825L278.8 821.5L269 826.7Z"/>
<path class="c5" d="M365.9 853.3L375.1 857.3L366.8 849.1L357.6 845.5Z"/><path class="c6" d="M365.9 853.3L374.8 857.2L374.5 856.8L366.8 849.1L357.6 845.5Z"/><path class="c7" d="M365.9 853.3L367.1 853.8L362.4 847.3L357.6 845.5Z"/><path class="m" d="M365.9 853.3L375.1 857.3L366.8 849.1L357.6 845.5Z"/>
<path class="c9" d="M294.7 828.9L304.5 826.1L296.4 821.6L286.7 825Z"/><path class="c10" d="M294.7 828.9L304.5 826.1L300 823.6L294 822.5L286.7 825Z"/><path class="m" d="M294.7 828.9L304.5 826.1L296.4 821.6L286.7 825Z"/>
<path class="c7" d="M348.2 843.1L357.6 845.5L349.4 838.2L340 836.3Z"/><path class="c8" d="M348.2 843.1L353.4 844.4L348.6 838.1L340 836.3Z"/><path class="m" d="M348.2 843.1L357.6 845.5L349.4 838.2L340 836.3Z"/>
<path class="c9" d="M312.6 830.9L322.3 829.8L314.1 824.5L304.5 826.1Z"/><path class="c10" d="M312.6 830.9L313.2 830.9L305.3 825.9L304.5 826.1Z"/><path class="m" d="M312.6 830.9L322.3 829.8L314.1 824.5L304.5 826.1Z"/>
<path class="c8" d="M330.5 835.7L340 836.3L331.8 830L322.3 829.8Z"/><path class="c9" d="M330.5 835.7L336.9 836.1L331.7 830L322.3 829.8Z"/><path class="m" d="M330.5 835.7L340 836.3L331.8 830L322.3 829.8Z"/>
<path class="c8" d="M249.2 840.8L259.1 833.1L251.3 831.1L241.5 839.3Z"/><path class="c9" d="M251.9 838.7L259.1 833.1L251.9 831.2Z"/><path class="m" d="M249.2 840.8L259.1 833.1L251.3 831.1L241.5 839.3Z"/>
<path class="c5" d="M221.7 859.4L231.6 848.7L224 848.1L214.2 859.3Z"/><path class="c6" d="M221.7 859.4L231.6 848.7L224 848.1L214.5 859L214.5 859.3Z"/><path class="c7" d="M225.1 855.7L231.6 848.7L224.1 848.1Z"/><path class="m" d="M221.7 859.4L231.6 848.7L224 848.1L214.2 859.3Z"/>
<path class="c3" d="M391.7 875.2L400.6 881.3L392.3 871.7L383.4 866Z"/><path class="c4" d="M391.7 875.2L396.5 878.5L392.2 871.6L383.4 866Z"/><path class="c5" d="M386 867.7L383.4 866L389.1 872.4Z"/><path class="m" d="M391.7 875.2L400.6 881.3L392.3 871.7L383.4 866Z"/>
<path class="c9" d="M267 835.5L276.9 829.6L269 826.7L259.1 833.1Z"/><path class="m" d="M267 835.5L276.9 829.6L269 826.7L259.1 833.1Z"/>
<path class="c5" d="M374.2 861.5L383.4 866L375.1 857.3L365.9 853.3Z"/><path class="c6" d="M374.2 861.5L379.2 864L374.8 857.2L365.9 853.3Z"/><path class="c7" d="M367.1 853.8L365.9 853.3L368.8 856.1Z"/><path class="m" d="M374.2 861.5L383.4 866L375.1 857.3L365.9 853.3Z"/>
<path class="c9" d="M284.9 833L294.7 828.9L286.7 825L276.9 829.6Z"/><path class="c10" d="M284.9 833L294.7 828.9L286.7 825L278.8 828.7L277.5 829.9Z"/><path class="m" d="M284.9 833L294.7 828.9L286.7 825L276.9 829.6Z"/>
<path class="c7" d="M239.2 849.7L249.2 840.8L241.5 839.3L231.6 848.7Z"/><path class="c8" d="M239.2 849.7L249.2 840.8L241.5 839.3L236.5 844L236.7 849.4Z"/><path class="m" d="M239.2 849.7L249.2 840.8L241.5 839.3L231.6 848.7Z"/>
<path class="c4" d="M211.8 871.4L221.7 859.4L214.2 859.3L204.4 871.7Z"/><path class="c5" d="M211.8 871.4L221.7 859.4L214.2 859.3L206.3 869.3L206.5 871.6Z"/><path class="c6" d="M215.7 866.6L221.7 859.4L214.5 859.3Z"/><path class="m" d="M211.8 871.4L221.7 859.4L214.2 859.3L204.4 871.7Z"/>
<path class="c7" d="M356.5 850.4L365.9 853.3L357.6 845.5L348.2 843.1Z"/><path class="c8" d="M356.5 850.4L358.2 850.9L353.4 844.4L348.2 843.1Z"/><path class="m" d="M356.5 850.4L365.9 853.3L357.6 845.5L348.2 843.1Z"/>
<path class="c10" d="M302.8 833.2L312.6 830.9L304.5 826.1L294.7 828.9Z"/><path class="m" d="M302.8 833.2L312.6 830.9L304.5 826.1L294.7 828.9Z"/>
<path class="c8" d="M338.7 841.9L348.2 843.1L340 836.3L330.5 835.7Z"/><path class="c9" d="M338.7 841.9L342 842.4L336.9 836.1L330.5 835.7Z"/><path class="m" d="M338.7 841.9L348.2 843.1L340 836.3L330.5 835.7Z"/>
<path class="c9" d="M320.8 836.2L330.5 835.7L322.3 829.8L312.6 830.9Z"/><path class="c10" d="M313.2 830.9L312.6 830.9L316.1 833.2Z"/><path class="m" d="M320.8 836.2L330.5 835.7L322.3 829.8L312.6 830.9Z"/>
<path class="c8" d="M257 842.7L267 835.5L259.1 833.1L249.2 840.8Z"/><path class="c9" d="M257 842.7L267 835.5L259.1 833.1L251.9 838.7L251.7 841.4Z"/><path class="m" d="M257 842.7L267 835.5L259.1 833.1L249.2 840.8Z"/>
<path class="c2" d="M400.1 884.7L408.9 891.4L400.6 881.3L391.7 875.2Z"/><path class="c3" d="M400.1 884.7L406.5 889.6L403.9 885.4L400.6 881.3L391.7 875.2Z"/><path class="c4" d="M400.1 884.7L401 885.4L396.5 878.5L391.7 875.2Z"/><path class="m" d="M400.1 884.7L408.9 891.4L400.6 881.3L391.7 875.2Z"/>
<path class="c3" d="M201.9 884.6L211.8 871.4L204.4 871.7L194.6 885.4Z"/><path class="c4" d="M201.9 884.6L211.8 871.4L204.4 871.7L198.8 879.5L199.6 884.8Z"/><path class="c5" d="M207.6 877L211.8 871.4L206.5 871.6Z"/><path class="m" d="M201.9 884.6L211.8 871.4L204.4 871.7L194.6 885.4Z"/>
<path class="c6" d="M229.3 860L239.2 849.7L231.6 848.7L221.7 859.4Z"/><path class="c7" d="M229.3 860L239.2 849.7L231.6 848.7L225.1 855.7L225.5 859.7Z"/><path class="c8" d="M237.1 851.9L239.2 849.7L236.7 849.4Z"/><path class="m" d="M229.3 860L239.2 849.7L231.6 848.7L221.7 859.4Z"/>
<path class="c9" d="M274.9 838.4L284.9 833L276.9 829.6L267 835.5Z"/><path class="c10" d="M274.9 838.4L284.9 833L277.5 829.9L274.4 838.2Z"/><path class="m" d="M274.9 838.4L284.9 833L276.9 829.6L267 835.5Z"/>
<path class="c4" d="M382.6 870.1L391.7 875.2L383.4 866L374.2 861.5Z"/><path class="c5" d="M382.6 870.1L390.5 874.5L389.1 872.4L383.4 866L374.2 861.5Z"/><path class="c6" d="M382.6 870.1L383.8 870.7L379.2 864L374.2 861.5Z"/><path class="m" d="M382.6 870.1L391.7 875.2L383.4 866L374.2 861.5Z"/>
<path class="c1" d="M192.1 899L201.9 884.6L194.6 885.4L184.9 900.2Z"/><path class="c2" d="M192.1 899L201.9 884.6L194.6 885.4L185.7 898.9L185.9 900.1Z"/><path class="c3" d="M193.4 897.1L201.9 884.6L194.6 885.4L192 889.3Z"/><path class="c4" d="M200.1 887.3L201.9 884.6L199.6 884.8Z"/><path class="m" d="M192.1 899L201.9 884.6L194.6 885.4L184.9 900.2Z"/>
<path class="c10" d="M293 836.8L302.8 833.2L294.7 828.9L284.9 833Z"/><path class="m" d="M293 836.8L302.8 833.2L294.7 828.9L284.9 833Z"/>
<path class="c6" d="M364.9 858L374.2 861.5L365.9 853.3L356.5 850.4Z"/><path class="c7" d="M364.9 858L371.7 860.5L368.8 856.1L365.9 853.3L356.5 850.4Z"/><path class="c8" d="M358.2 850.9L356.5 850.4L360.5 854Z"/><path class="m" d="M364.9 858L374.2 861.5L365.9 853.3L356.5 850.4Z"/>
<path class="c8" d="M247 851.2L257 842.7L249.2 840.8L239.2 849.7Z"/><path class="c9" d="M252.2 846.8L257 842.7L251.7 841.4Z"/><path class="m" d="M247 851.2L257 842.7L249.2 840.8L239.2 849.7Z"/>
<path class="c9" d="M311 838L320.8 836.2L312.6 830.9L302.8 833.2Z"/><path class="c10" d="M311 838L319.8 836.4L316.1 833.2L312.6 830.9L302.8 833.2Z"/><path class="m" d="M311 838L320.8 836.2L312.6 830.9L302.8 833.2Z"/>
<path class="c8" d="M347.1 848.7L356.5 850.4L348.2 843.1L338.7 841.9Z"/><path class="c9" d="M347.1 848.7L347.2 848.7L342 842.4L338.7 841.9Z"/><path class="m" d="M347.1 848.7L356.5 850.4L348.2 843.1L338.7 841.9Z"/>
<path class="c5" d="M219.3 871.4L229.3 860L221.7 859.4L211.8 871.4Z"/><path class="c6" d="M219.3 871.4L229.3 860L221.7 859.4L215.7 866.6L216.4 871.4Z"/><path class="c7" d="M226.2 863.5L229.3 860L225.5 859.7Z"/><path class="m" d="M219.3 871.4L229.3 860L221.7 859.4L211.8 871.4Z"/>
<path class="c1" d="M408.5 894.7L417.3 901.9L408.9 891.4L400.1 884.7Z"/><path class="c2" d="M408.5 894.7L416.1 900.9L414.8 898.8L408.9 891.4L400.1 884.7Z"/><path class="c3" d="M408.5 894.7L410.9 896.7L406.5 889.6L400.1 884.7Z"/><path class="c4" d="M401 885.4L400.1 884.7L402.1 887.1Z"/><path class="m" d="M408.5 894.7L417.3 901.9L408.9 891.4L400.1 884.7Z"/>
<path class="c9" d="M329.1 842L338.7 841.9L330.5 835.7L320.8 836.2Z"/><path class="m" d="M329.1 842L338.7 841.9L330.5 835.7L320.8 836.2Z"/>
<path class="c9" d="M264.9 845L274.9 838.4L267 835.5L257 842.7Z"/><path class="c10" d="M274.4 838.8L274.9 838.4L274.4 838.2Z"/><path class="m" d="M264.9 845L274.9 838.4L267 835.5L257 842.7Z"/>
<path class="c4" d="M391 879.2L400.1 884.7L391.7 875.2L382.6 870.1Z"/><path class="c5" d="M391 879.2L394.8 881.5L390.5 874.5L382.6 870.1Z"/><path class="c6" d="M383.8 870.7L382.6 870.1L385.1 872.8Z"/><path class="m" d="M391 879.2L400.1 884.7L391.7 875.2L382.6 870.1Z"/>
<path class="c4" d="M209.4 884.1L219.3 871.4L211.8 871.4L201.9 884.6Z"/><path class="c5" d="M209.4 884.1L219.3 871.4L211.8 871.4L207.6 877L208.7 884.2Z"/><path class="c6" d="M217 874.4L219.3 871.4L216.4 871.4Z"/><path class="m" d="M209.4 884.1L219.3 871.4L211.8 871.4L201.9 884.6Z"/>
<path class="c7" d="M237 860.9L247 851.2L239.2 849.7L229.3 860Z"/><path class="c8" d="M238.1 859.8L247 851.2L239.2 849.7L237.1 851.9Z"/><path class="m" d="M237 860.9L247 851.2L239.2 849.7L229.3 860Z"/>
<path class="c10" d="M283 841.7L293 836.8L284.9 833L274.9 838.4Z"/><path class="m" d="M283 841.7L293 836.8L284.9 833L274.9 838.4Z"/>
<path class="c6" d="M373.3 866.2L382.6 870.1L374.2 861.5L364.9 858Z"/><path class="c7" d="M373.3 866.2L376.2 867.4L371.7 860.5L364.9 858Z"/><path class="m" d="M373.3 866.2L382.6 870.1L374.2 861.5L364.9 858Z"/>
<path class="c0" d="M417 905.2L425.6 912.8L417.3 901.9L408.5 894.7Z"/><path class="c1" d="M417 905.2L425.2 912.4L424.8 911.7L417.3 901.9L408.5 894.7Z"/><path class="c2" d="M417 905.2L420.4 908.2L416.1 900.9L408.5 894.7Z"/><path class="c3" d="M410.9 896.7L408.5 894.7L413.6 901Z"/><path class="m" d="M417 905.2L425.6 912.8L417.3 901.9L408.5 894.7Z"/>
<path class="c10" d="M301.1 841.1L311 838L302.8 833.2L293 836.8Z"/><path class="m" d="M301.1 841.1L311 838L302.8 833.2L293 836.8Z"/>
<path class="c7" d="M355.5 855.8L364.9 858L356.5 850.4L347.1 848.7Z"/><path class="c8" d="M355.5 855.8L362.9 857.6L360.5 854L356.5 850.4L347.1 848.7Z"/><path class="c9" d="M347.2 848.7L347.1 848.7L347.4 849Z"/><path class="m" d="M355.5 855.8L364.9 858L356.5 850.4L347.1 848.7Z"/>
<path class="c9" d="M319.3 843.2L329.1 842L320.8 836.2L311 838Z"/><path class="c10" d="M319.3 843.2L325.6 842.4L319.8 836.4L311 838Z"/><path class="m" d="M319.3 843.2L329.1 842L320.8 836.2L311 838Z"/>
<path class="c9" d="M337.4 848.1L347.1 848.7L338.7 841.9L329.1 842Z"/><path class="m" d="M337.4 848.1L347.1 848.7L338.7 841.9L329.1 842Z"/>
<path class="c2" d="M199.4 898.1L209.4 884.1L201.9 884.6L192.1 899Z"/><path class="c3" d="M199.4 898.1L209.4 884.1L201.9 884.6L193.4 897.1L193.7 898.8Z"/><path class="c4" d="M201.6 895.1L209.4 884.1L201.9 884.6L200.1 887.3Z"/><path class="c5" d="M208.9 884.9L209.4 884.1L208.7 884.2Z"/><path class="m" d="M199.4 898.1L209.4 884.1L201.9 884.6L192.1 899Z"/>
<path class="c8" d="M254.9 853L264.9 845L257 842.7L247 851.2Z"/><path class="c9" d="M254.9 853L264.9 845L257 842.7L252.2 846.8L252.4 852.4Z"/><path class="m" d="M254.9 853L264.9 845L257 842.7L247 851.2Z"/>
<path class="c6" d="M227 871.8L237 860.9L229.3 860L219.3 871.4Z"/><path class="c7" d="M227.4 871.4L237 860.9L229.3 860L226.2 863.5Z"/><path class="m" d="M227 871.8L237 860.9L229.3 860L219.3 871.4Z"/>
<path class="c3" d="M399.5 888.7L408.5 894.7L400.1 884.7L391 879.2Z"/><path class="c4" d="M399.5 888.7L405.3 892.6L402.1 887.1L400.1 884.7L391 879.2Z"/><path class="c5" d="M394.8 881.5L391 879.2L399.1 888.2Z"/><path class="m" d="M399.5 888.7L408.5 894.7L400.1 884.7L391 879.2Z"/>
<path class="c9" d="M273 847.8L283 841.7L274.9 838.4L264.9 845Z"/><path class="c10" d="M273.4 847.6L283 841.7L274.9 838.4L274.4 838.8Z"/><path class="m" d="M273 847.8L283 841.7L274.9 838.4L264.9 845Z"/>
<path class="c0" d="M425.4 916.1L434.1 924.1L425.6 912.8L417 905.2Z"/><path class="c1" d="M425.4 916.1L429.5 919.9L425.2 912.4L417 905.2Z"/><path class="c2" d="M420.4 908.2L417 905.2L424.1 914.3Z"/><path class="m" d="M425.4 916.1L434.1 924.1L425.6 912.8L417 905.2Z"/>
<path class="c5" d="M381.8 874.7L391 879.2L382.6 870.1L373.3 866.2Z"/><path class="c6" d="M381.8 874.7L388.1 877.8L385.1 872.8L382.6 870.1L373.3 866.2Z"/><path class="c7" d="M376.2 867.4L373.3 866.2L379.4 872.3Z"/><path class="m" d="M381.8 874.7L391 879.2L382.6 870.1L373.3 866.2Z"/>
<path class="c10" d="M291.2 845.4L301.1 841.1L293 836.8L283 841.7Z"/><path class="m" d="M291.2 845.4L301.1 841.1L293 836.8L283 841.7Z"/>
<path class="c7" d="M244.8 862.2L254.9 853L247 851.2L237 860.9Z"/><path class="c8" d="M244.8 862.2L254.9 853L247 851.2L238.1 859.8L238.2 861.1Z"/><path class="c9" d="M252.9 854.8L254.9 853L252.4 852.4Z"/><path class="m" d="M244.8 862.2L254.9 853L247 851.2L237 860.9Z"/>
<path class="c5" d="M216.9 884.1L227 871.8L219.3 871.4L209.4 884.1Z"/><path class="c6" d="M218.5 882.2L227 871.8L219.3 871.4L217 874.4Z"/><path class="m" d="M216.9 884.1L227 871.8L219.3 871.4L209.4 884.1Z"/>
<path class="c7" d="M363.9 863.4L373.3 866.2L364.9 858L355.5 855.8Z"/><path class="c8" d="M363.9 863.4L367.3 864.4L362.9 857.6L355.5 855.8Z"/><path class="m" d="M363.9 863.4L373.3 866.2L364.9 858L355.5 855.8Z"/>
<path class="c10" d="M309.4 845.7L319.3 843.2L311 838L301.1 841.1Z"/><path class="m" d="M309.4 845.7L319.3 843.2L311 838L301.1 841.1Z"/>
<path class="c8" d="M345.8 854.8L355.5 855.8L347.1 848.7L337.4 848.1Z"/><path class="c9" d="M345.8 854.8L351.8 855.4L347.4 849L347.1 848.7L337.4 848.1Z"/><path class="m" d="M345.8 854.8L355.5 855.8L347.1 848.7L337.4 848.1Z"/>
<path class="c9" d="M327.6 848.9L337.4 848.1L329.1 842L319.3 843.2Z"/><path class="c10" d="M327.6 848.9L331.2 848.6L325.6 842.4L319.3 843.2Z"/><path class="m" d="M327.6 848.9L337.4 848.1L329.1 842L319.3 843.2Z"/>
<path class="c2" d="M408.1 898.6L417 905.2L408.5 894.7L399.5 888.7Z"/><path class="c3" d="M408.1 898.6L415.3 903.9L413.6 901L408.5 894.7L399.5 888.7Z"/><path class="c4" d="M408.1 898.6L409.7 899.9L405.3 892.6L399.5 888.7Z"/><path class="m" d="M408.1 898.6L417 905.2L408.5 894.7L399.5 888.7Z"/>
<path class="c9" d="M262.9 855.2L273 847.8L264.9 845L254.9 853Z"/><path class="m" d="M262.9 855.2L273 847.8L264.9 845L254.9 853Z"/>
<path class="c3" d="M206.9 897.6L216.9 884.1L209.4 884.1L199.4 898.1Z"/><path class="c4" d="M206.9 897.6L216.9 884.1L209.4 884.1L201.6 895.1L202.1 897.9Z"/><path class="c5" d="M210.6 892.7L216.9 884.1L209.4 884.1L208.9 884.9Z"/><path class="m" d="M206.9 897.6L216.9 884.1L209.4 884.1L199.4 898.1Z"/>
<path class="c6" d="M234.7 872.7L244.8 862.2L237 860.9L227 871.8Z"/><path class="c7" d="M234.7 872.7L244.8 862.2L237 860.9L227.4 871.4L227.5 871.9Z"/><path class="c8" d="M239.6 867.6L244.8 862.2L238.2 861.1Z"/><path class="m" d="M234.7 872.7L244.8 862.2L237 860.9L227 871.8Z"/>
<path class="c4" d="M390.4 883.7L399.5 888.7L391 879.2L381.8 874.7Z"/><path class="c5" d="M390.4 883.7L399.3 888.6L399.1 888.2L391 879.2L381.8 874.7Z"/><path class="c6" d="M390.4 883.7L392.5 884.9L388.1 877.8L381.8 874.7Z"/><path class="m" d="M390.4 883.7L399.5 888.7L391 879.2L381.8 874.7Z"/>
<path class="c9" d="M281.1 851L291.2 845.4L283 841.7L273 847.8Z"/><path class="c10" d="M281.1 851L291.2 845.4L283 841.7L273.4 847.6L273.3 847.9Z"/><path class="m" d="M281.1 851L291.2 845.4L283 841.7L273 847.8Z"/>
<path class="c6" d="M372.4 871.4L381.8 874.7L373.3 866.2L363.9 863.4Z"/><path class="c7" d="M372.4 871.4L380.6 874.3L379.4 872.3L373.3 866.2L363.9 863.4Z"/><path class="c8" d="M367.3 864.4L363.9 863.4L371.4 870.5Z"/><path class="m" d="M372.4 871.4L381.8 874.7L373.3 866.2L363.9 863.4Z"/>
<path class="c10" d="M299.4 849.5L309.4 845.7L301.1 841.1L291.2 845.4Z"/><path class="m" d="M299.4 849.5L309.4 845.7L301.1 841.1L291.2 845.4Z"/>
<path class="c1" d="M416.6 909.1L425.4 916.1L417 905.2L408.1 898.6Z"/><path class="c2" d="M416.6 909.1L424.8 915.5L424.1 914.3L417 905.2L408.1 898.6Z"/><path class="c3" d="M416.6 909.1L419.5 911.4L415.3 903.9L408.1 898.6Z"/><path class="c4" d="M409.7 899.9L408.1 898.6L411.4 902.7Z"/><path class="m" d="M416.6 909.1L425.4 916.1L417 905.2L408.1 898.6Z"/>
<path class="c8" d="M252.8 863.9L262.9 855.2L254.9 853L244.8 862.2Z"/><path class="c9" d="M254 862.8L262.9 855.2L254.9 853L252.9 854.8Z"/><path class="m" d="M252.8 863.9L262.9 855.2L254.9 853L244.8 862.2Z"/>
<path class="c8" d="M354.3 861.8L363.9 863.4L355.5 855.8L345.8 854.8Z"/><path class="c9" d="M354.3 861.8L356.5 862.2L351.8 855.4L345.8 854.8Z"/><path class="m" d="M354.3 861.8L363.9 863.4L355.5 855.8L345.8 854.8Z"/>
<path class="c10" d="M317.8 850.8L327.6 848.9L319.3 843.2L309.4 845.7Z"/><path class="m" d="M317.8 850.8L327.6 848.9L319.3 843.2L309.4 845.7Z"/>
<path class="c9" d="M336.1 854.9L345.8 854.8L337.4 848.1L327.6 848.9Z"/><path class="c10" d="M336.1 854.9L336.8 854.9L331.2 848.6L327.6 848.9Z"/><path class="m" d="M336.1 854.9L345.8 854.8L337.4 848.1L327.6 848.9Z"/>
<path class="c5" d="M224.6 884.4L234.7 872.7L227 871.8L216.9 884.1Z"/><path class="c6" d="M224.6 884.4L234.7 872.7L227 871.8L218.5 882.2L218.8 884.2Z"/><path class="c7" d="M229.2 879.2L234.7 872.7L227.5 871.9Z"/><path class="m" d="M224.6 884.4L234.7 872.7L227 871.8L216.9 884.1Z"/>
<path class="c4" d="M399 893.2L408.1 898.6L399.5 888.7L390.4 883.7Z"/><path class="c5" d="M399 893.2L403.5 895.9L399.3 888.6L390.4 883.7Z"/><path class="c6" d="M392.5 884.9L390.4 883.7L394.8 888.6Z"/><path class="m" d="M399 893.2L408.1 898.6L399.5 888.7L390.4 883.7Z"/>
<path class="c9" d="M271 857.8L281.1 851L273 847.8L262.9 855.2Z"/><path class="c10" d="M274 855.8L281.1 851L273.3 847.9Z"/><path class="m" d="M271 857.8L281.1 851L273 847.8L262.9 855.2Z"/>
<path class="c4" d="M214.5 897.4L224.6 884.4L216.9 884.1L206.9 897.6Z"/><path class="c5" d="M214.5 897.4L224.6 884.4L216.9 884.1L210.6 892.7L211.5 897.5Z"/><path class="c6" d="M220.3 890.1L224.6 884.4L218.8 884.2Z"/><path class="m" d="M214.5 897.4L224.6 884.4L216.9 884.1L206.9 897.6Z"/>
<path class="c7" d="M242.6 873.9L252.8 863.9L244.8 862.2L234.7 872.7Z"/><path class="c8" d="M242.6 873.9L252.8 863.9L244.8 862.2L239.6 867.6L240.6 873.6Z"/><path class="m" d="M242.6 873.9L252.8 863.9L244.8 862.2L234.7 872.7Z"/>
<path class="c6" d="M381 879.9L390.4 883.7L381.8 874.7L372.4 871.4Z"/><path class="c7" d="M381 879.9L384.9 881.5L380.6 874.3L372.4 871.4Z"/><path class="m" d="M381 879.9L390.4 883.7L381.8 874.7L372.4 871.4Z"/>
<path class="c10" d="M289.3 854.6L299.4 849.5L291.2 845.4L281.1 851Z"/><path class="m" d="M289.3 854.6L299.4 849.5L291.2 845.4L281.1 851Z"/>
<path class="c10" d="M307.8 854.1L317.8 850.8L309.4 845.7L299.4 849.5Z"/><path class="m" d="M307.8 854.1L317.8 850.8L309.4 845.7L299.4 849.5Z"/>
<path class="c7" d="M362.9 869.4L372.4 871.4L363.9 863.4L354.3 861.8Z"/><path class="c8" d="M362.9 869.4L371.9 871.3L371.4 870.5L363.9 863.4L354.3 861.8Z"/><path class="c9" d="M356.5 862.2L354.3 861.8L359 866Z"/><path class="m" d="M362.9 869.4L372.4 871.4L363.9 863.4L354.3 861.8Z"/>
<path class="c10" d="M326.2 856.4L336.1 854.9L327.6 848.9L317.8 850.8Z"/><path class="m" d="M326.2 856.4L336.1 854.9L327.6 848.9L317.8 850.8Z"/>
<path class="c9" d="M344.6 861.5L354.3 861.8L345.8 854.8L336.1 854.9Z"/><path class="c10" d="M336.8 854.9L336.1 854.9L337.8 856.2Z"/><path class="m" d="M344.6 861.5L354.3 861.8L345.8 854.8L336.1 854.9Z"/>
<path class="c8" d="M260.8 866L271 857.8L262.9 855.2L252.8 863.9Z"/><path class="c9" d="M260.8 866L271 857.8L262.9 855.2L254 862.8L254.2 864.3Z"/><path class="m" d="M260.8 866L271 857.8L262.9 855.2L252.8 863.9Z"/>
<path class="c3" d="M407.6 903.1L416.6 909.1L408.1 898.6L399 893.2Z"/><path class="c4" d="M407.6 903.1L414 907.3L411.4 902.7L408.1 898.6L399 893.2Z"/><path class="c5" d="M407.6 903.1L407.9 903.3L403.5 895.9L399 893.2Z"/><path class="m" d="M407.6 903.1L416.6 909.1L408.1 898.6L399 893.2Z"/>
<path class="c6" d="M232.4 885.1L242.6 873.9L234.7 872.7L224.6 884.4Z"/><path class="c7" d="M232.4 885.1L242.6 873.9L234.7 872.7L229.2 879.2L230.3 884.9Z"/><path class="c8" d="M241.1 875.6L242.6 873.9L240.6 873.6Z"/><path class="m" d="M232.4 885.1L242.6 873.9L234.7 872.7L224.6 884.4Z"/>
<path class="c9" d="M279.2 860.9L289.3 854.6L281.1 851L271 857.8Z"/><path class="c10" d="M279.2 860.9L289.3 854.6L281.1 851L274 855.8L274 859Z"/><path class="m" d="M279.2 860.9L289.3 854.6L281.1 851L271 857.8Z"/>
<path class="c5" d="M389.7 888.9L399 893.2L390.4 883.7L381 879.9Z"/><path class="c6" d="M389.7 888.9L396.8 892.2L394.8 888.6L390.4 883.7L381 879.9Z"/><path class="c7" d="M384.9 881.5L381 879.9L389 888.2Z"/><path class="m" d="M389.7 888.9L399 893.2L390.4 883.7L381 879.9Z"/>
<path class="c10" d="M297.7 858.6L307.8 854.1L299.4 849.5L289.3 854.6Z"/><path class="m" d="M297.7 858.6L307.8 854.1L299.4 849.5L289.3 854.6Z"/>
<path class="c8" d="M250.6 875.5L260.8 866L252.8 863.9L242.6 873.9Z"/><path class="c9" d="M255.7 870.7L260.8 866L254.2 864.3Z"/><path class="m" d="M250.6 875.5L260.8 866L252.8 863.9L242.6 873.9Z"/>
<path class="c7" d="M371.5 877.3L381 879.9L372.4 871.4L362.9 869.4Z"/><path class="c8" d="M371.5 877.3L376.1 878.6L371.9 871.3L362.9 869.4Z"/><path class="m" d="M371.5 877.3L381 879.9L372.4 871.4L362.9 869.4Z"/>
<path class="c5" d="M222.2 897.7L232.4 885.1L224.6 884.4L214.5 897.4Z"/><path class="c6" d="M222.2 897.7L232.4 885.1L224.6 884.4L220.3 890.1L221.9 897.7Z"/><path class="c7" d="M230.9 887.1L232.4 885.1L230.3 884.9Z"/><path class="m" d="M222.2 897.7L232.4 885.1L224.6 884.4L214.5 897.4Z"/>
<path class="c10" d="M316.2 859.1L326.2 856.4L317.8 850.8L307.8 854.1Z"/><path class="m" d="M316.2 859.1L326.2 856.4L317.8 850.8L307.8 854.1Z"/>
<path class="c8" d="M353.2 868.5L362.9 869.4L354.3 861.8L344.6 861.5Z"/><path class="c9" d="M353.2 868.5L360.9 869.2L359 866L354.3 861.8L344.6 861.5Z"/><path class="m" d="M353.2 868.5L362.9 869.4L354.3 861.8L344.6 861.5Z"/>
<path class="c9" d="M334.7 862.4L344.6 861.5L336.1 854.9L326.2 856.4Z"/><path class="c10" d="M334.7 862.4L341.4 861.8L337.8 856.2L336.1 854.9L326.2 856.4Z"/><path class="m" d="M334.7 862.4L344.6 861.5L336.1 854.9L326.2 856.4Z"/>
<path class="c9" d="M269 868.6L279.2 860.9L271 857.8L260.8 866Z"/><path class="c10" d="M275.1 864L279.2 860.9L274 859Z"/><path class="m" d="M269 868.6L279.2 860.9L271 857.8L260.8 866Z"/>
<path class="c5" d="M398.4 898.3L407.6 903.1L399 893.2L389.7 888.9Z"/><path class="c6" d="M398.4 898.3L401 899.7L396.8 892.2L389.7 888.9Z"/><path class="m" d="M398.4 898.3L407.6 903.1L399 893.2L389.7 888.9Z"/>
<path class="c7" d="M240.3 886.3L250.6 875.5L242.6 873.9L232.4 885.1Z"/><path class="c8" d="M243 883.4L250.6 875.5L242.6 873.9L241.1 875.6Z"/><path class="m" d="M240.3 886.3L250.6 875.5L242.6 873.9L232.4 885.1Z"/>
<path class="c10" d="M287.5 864.4L297.7 858.6L289.3 854.6L279.2 860.9Z"/><path class="m" d="M287.5 864.4L297.7 858.6L289.3 854.6L279.2 860.9Z"/>
<path class="c6" d="M380.2 885.8L389.7 888.9L381 879.9L371.5 877.3Z"/><path class="c7" d="M380.2 885.8L389.3 888.8L389 888.2L381 879.9L371.5 877.3Z"/><path class="c8" d="M380.2 885.8L380.5 885.9L376.1 878.6L371.5 877.3Z"/><path class="m" d="M380.2 885.8L389.7 888.9L381 879.9L371.5 877.3Z"/>
<path class="c10" d="M306.1 863.1L316.2 859.1L307.8 854.1L297.7 858.6Z"/><path class="m" d="M306.1 863.1L316.2 859.1L307.8 854.1L297.7 858.6Z"/>
<path class="c8" d="M361.8 875.9L371.5 877.3L362.9 869.4L353.2 868.5Z"/><path class="c9" d="M361.8 875.9L365.2 876.4L360.9 869.2L353.2 868.5Z"/><path class="m" d="M361.8 875.9L371.5 877.3L362.9 869.4L353.2 868.5Z"/>
<path class="c10" d="M324.7 864.5L334.7 862.4L326.2 856.4L316.2 859.1Z"/><path class="m" d="M324.7 864.5L334.7 862.4L326.2 856.4L316.2 859.1Z"/>
<path class="c8" d="M258.7 877.5L269 868.6L260.8 866L250.6 875.5Z"/><path class="c9" d="M258.7 877.5L269 868.6L260.8 866L255.7 870.7L257 877.1Z"/><path class="m" d="M258.7 877.5L269 868.6L260.8 866L250.6 875.5Z"/>
<path class="c9" d="M343.3 868.8L353.2 868.5L344.6 861.5L334.7 862.4Z"/><path class="c10" d="M343.3 868.8L346 868.7L341.4 861.8L334.7 862.4Z"/><path class="m" d="M343.3 868.8L353.2 868.5L344.6 861.5L334.7 862.4Z"/>
<path class="c6" d="M230.1 898.3L240.3 886.3L232.4 885.1L222.2 897.7Z"/><path class="c7" d="M232.9 895L240.3 886.3L232.4 885.1L230.9 887.1Z"/><path class="m" d="M230.1 898.3L240.3 886.3L232.4 885.1L222.2 897.7Z"/>
<path class="c9" d="M277.2 871.6L287.5 864.4L279.2 860.9L269 868.6Z"/><path class="c10" d="M277.2 871.6L287.5 864.4L279.2 860.9L275.1 864L276 871.1Z"/><path class="m" d="M277.2 871.6L287.5 864.4L279.2 860.9L269 868.6Z"/>
<path class="c6" d="M388.9 894.6L398.4 898.3L389.7 888.9L380.2 885.8Z"/><path class="c7" d="M388.9 894.6L393.3 896.3L389.3 888.8L380.2 885.8Z"/><path class="c8" d="M380.5 885.9L380.2 885.8L380.8 886.4Z"/><path class="m" d="M388.9 894.6L398.4 898.3L389.7 888.9L380.2 885.8Z"/>
<path class="c7" d="M248.4 887.8L258.7 877.5L250.6 875.5L240.3 886.3Z"/><path class="c8" d="M248.4 887.8L258.7 877.5L250.6 875.5L243 883.4L243.8 886.9Z"/><path class="c9" d="M257.5 878.7L258.7 877.5L257 877.1Z"/><path class="m" d="M248.4 887.8L258.7 877.5L250.6 875.5L240.3 886.3Z"/>
<path class="c10" d="M295.9 868.4L306.1 863.1L297.7 858.6L287.5 864.4Z"/><path class="m" d="M295.9 868.4L306.1 863.1L297.7 858.6L287.5 864.4Z"/>
<path class="c8" d="M370.5 883.8L380.2 885.8L371.5 877.3L361.8 875.9Z"/><path class="c9" d="M365.2 876.4L361.8 875.9L368.7 882.1Z"/><path class="m" d="M370.5 883.8L380.2 885.8L371.5 877.3L361.8 875.9Z"/>
<path class="c10" d="M314.6 868L324.7 864.5L316.2 859.1L306.1 863.1Z"/><path class="m" d="M314.6 868L324.7 864.5L316.2 859.1L306.1 863.1Z"/>
<path class="c9" d="M352 875.7L361.8 875.9L353.2 868.5L343.3 868.8Z"/><path class="c10" d="M346 868.7L343.3 868.8L349.3 873.6Z"/><path class="m" d="M352 875.7L361.8 875.9L353.2 868.5L343.3 868.8Z"/>
<path class="c10" d="M333.3 870.5L343.3 868.8L334.7 862.4L324.7 864.5Z"/><path class="m" d="M333.3 870.5L343.3 868.8L334.7 862.4L324.7 864.5Z"/>
<path class="c9" d="M266.9 880L277.2 871.6L269 868.6L258.7 877.5Z"/><path class="c10" d="M276.3 872.3L277.2 871.6L276 871.1Z"/><path class="m" d="M266.9 880L277.2 871.6L269 868.6L258.7 877.5Z"/>
<path class="c6" d="M238.1 899.4L248.4 887.8L240.3 886.3L230.1 898.3Z"/><path class="c7" d="M238.1 899.4L248.4 887.8L240.3 886.3L232.9 895L233.9 898.8Z"/><path class="c8" d="M245.2 891.4L248.4 887.8L243.8 886.9Z"/><path class="m" d="M238.1 899.4L248.4 887.8L240.3 886.3L230.1 898.3Z"/>
<path class="c10" d="M285.6 875L295.9 868.4L287.5 864.4L277.2 871.6Z"/><path class="m" d="M285.6 875L295.9 868.4L287.5 864.4L277.2 871.6Z"/>
<path class="c7" d="M379.3 892.2L388.9 894.6L380.2 885.8L370.5 883.8Z"/><path class="c8" d="M379.3 892.2L384.4 893.5L380.8 886.4L380.2 885.8L370.5 883.8Z"/><path class="m" d="M379.3 892.2L388.9 894.6L380.2 885.8L370.5 883.8Z"/>
<path class="c10" d="M304.4 872.8L314.6 868L306.1 863.1L295.9 868.4Z"/><path class="m" d="M304.4 872.8L314.6 868L306.1 863.1L295.9 868.4Z"/>
<path class="c8" d="M256.5 889.7L266.9 880L258.7 877.5L248.4 887.8Z"/><path class="c9" d="M259.8 886.7L266.9 880L258.7 877.5L257.5 878.7Z"/><path class="m" d="M256.5 889.7L266.9 880L258.7 877.5L248.4 887.8Z"/>
<path class="c8" d="M360.7 883.1L370.5 883.8L361.8 875.9L352 875.7Z"/><path class="c9" d="M360.7 883.1L369.5 883.7L368.7 882.1L361.8 875.9L352 875.7Z"/><path class="m" d="M360.7 883.1L370.5 883.8L361.8 875.9L352 875.7Z"/>
<path class="c10" d="M323.2 873.4L333.3 870.5L324.7 864.5L314.6 868Z"/><path class="m" d="M323.2 873.4L333.3 870.5L324.7 864.5L314.6 868Z"/>
<path class="c9" d="M342 876.8L352 875.7L343.3 868.8L333.3 870.5Z"/><path class="c10" d="M342 876.8L350.5 875.9L349.3 873.6L343.3 868.8L333.3 870.5Z"/><path class="m" d="M342 876.8L352 875.7L343.3 868.8L333.3 870.5Z"/>
<path class="c9" d="M275.2 882.9L285.6 875L277.2 871.6L266.9 880Z"/><path class="c10" d="M278.7 880.2L285.6 875L277.2 871.6L276.3 872.3Z"/><path class="m" d="M275.2 882.9L285.6 875L277.2 871.6L266.9 880Z"/>
<path class="c7" d="M246.2 900.8L256.5 889.7L248.4 887.8L238.1 899.4Z"/><path class="c8" d="M247.5 899.4L256.5 889.7L248.4 887.8L245.2 891.4Z"/><path class="m" d="M246.2 900.8L256.5 889.7L248.4 887.8L238.1 899.4Z"/>
<path class="c10" d="M294 878.8L304.4 872.8L295.9 868.4L285.6 875Z"/><path class="m" d="M294 878.8L304.4 872.8L295.9 868.4L285.6 875Z"/>
<path class="c10" d="M312.9 877.6L323.2 873.4L314.6 868L304.4 872.8Z"/><path class="m" d="M312.9 877.6L323.2 873.4L314.6 868L304.4 872.8Z"/>
<path class="c8" d="M369.5 890.9L379.3 892.2L370.5 883.8L360.7 883.1Z"/><path class="c9" d="M369.5 890.9L373.4 891.4L369.5 883.7L360.7 883.1Z"/><path class="m" d="M369.5 890.9L379.3 892.2L370.5 883.8L360.7 883.1Z"/>
<path class="c10" d="M331.9 879.2L342 876.8L333.3 870.5L323.2 873.4Z"/><path class="m" d="M331.9 879.2L342 876.8L333.3 870.5L323.2 873.4Z"/>
<path class="c9" d="M350.8 883.7L360.7 883.1L352 875.7L342 876.8Z"/><path class="c10" d="M350.8 883.7L354.4 883.5L350.5 875.9L342 876.8Z"/><path class="m" d="M350.8 883.7L360.7 883.1L352 875.7L342 876.8Z"/>
<path class="c8" d="M264.8 892.1L275.2 882.9L266.9 880L256.5 889.7Z"/><path class="c9" d="M264.8 892.1L275.2 882.9L266.9 880L259.8 886.7L261 891Z"/><path class="m" d="M264.8 892.1L275.2 882.9L266.9 880L256.5 889.7Z"/>
<path class="c9" d="M283.7 886.2L294 878.8L285.6 875L275.2 882.9Z"/><path class="c10" d="M283.7 886.2L294 878.8L285.6 875L278.7 880.2L279.8 884.7Z"/><path class="m" d="M283.7 886.2L294 878.8L285.6 875L275.2 882.9Z"/>
<path class="c7" d="M254.4 902.7L264.8 892.1L256.5 889.7L246.2 900.8Z"/><path class="c8" d="M254.4 902.7L264.8 892.1L256.5 889.7L247.5 899.4L248 901.2Z"/><path class="c9" d="M262.3 894.6L264.8 892.1L261 891Z"/><path class="m" d="M254.4 902.7L264.8 892.1L256.5 889.7L246.2 900.8Z"/>
<path class="c10" d="M302.6 883.1L312.9 877.6L304.4 872.8L294 878.8Z"/><path class="m" d="M302.6 883.1L312.9 877.6L304.4 872.8L294 878.8Z"/>
<path class="c10" d="M321.6 882.9L331.9 879.2L323.2 873.4L312.9 877.6Z"/><path class="m" d="M321.6 882.9L331.9 879.2L323.2 873.4L312.9 877.6Z"/>
<path class="c9" d="M359.6 891L369.5 890.9L360.7 883.1L350.8 883.7Z"/><path class="c10" d="M354.4 883.5L350.8 883.7L357.9 889.5Z"/><path class="m" d="M359.6 891L369.5 890.9L360.7 883.1L350.8 883.7Z"/>
<path class="c10" d="M340.6 885.5L350.8 883.7L342 876.8L331.9 879.2Z"/><path class="m" d="M340.6 885.5L350.8 883.7L342 876.8L331.9 879.2Z"/>
<path class="c9" d="M273.2 894.9L283.7 886.2L275.2 882.9L264.8 892.1Z"/><path class="c10" d="M281.2 888.2L283.7 886.2L279.8 884.7Z"/><path class="m" d="M273.2 894.9L283.7 886.2L275.2 882.9L264.8 892.1Z"/>
<path class="c10" d="M292.2 890L302.6 883.1L294 878.8L283.7 886.2Z"/><path class="m" d="M292.2 890L302.6 883.1L294 878.8L283.7 886.2Z"/>
<path class="c10" d="M311.3 887.9L321.6 882.9L312.9 877.6L302.6 883.1Z"/><path class="m" d="M311.3 887.9L321.6 882.9L312.9 877.6L302.6 883.1Z"/>
<path class="c8" d="M262.7 904.9L273.2 894.9L264.8 892.1L254.4 902.7Z"/><path class="c9" d="M265.1 902.6L273.2 894.9L264.8 892.1L262.3 894.6Z"/><path class="m" d="M262.7 904.9L273.2 894.9L264.8 892.1L254.4 902.7Z"/>
<path class="c10" d="M330.4 888.6L340.6 885.5L331.9 879.2L321.6 882.9Z"/><path class="m" d="M330.4 888.6L340.6 885.5L331.9 879.2L321.6 882.9Z"/>
<path class="c9" d="M349.5 892.2L359.6 891L350.8 883.7L340.6 885.5Z"/><path class="c10" d="M349.5 892.2L358.5 891.1L357.9 889.5L350.8 883.7L340.6 885.5Z"/><path class="m" d="M349.5 892.2L359.6 891L350.8 883.7L340.6 885.5Z"/>
<path class="c9" d="M281.7 898.1L292.2 890L283.7 886.2L273.2 894.9Z"/><path class="c10" d="M284.2 896.2L292.2 890L283.7 886.2L281.2 888.2Z"/><path class="m" d="M281.7 898.1L292.2 890L283.7 886.2L273.2 894.9Z"/>
<path class="c10" d="M300.8 894.2L311.3 887.9L302.6 883.1L292.2 890Z"/><path class="m" d="M300.8 894.2L311.3 887.9L302.6 883.1L292.2 890Z"/>
<path class="c10" d="M320 893.1L330.4 888.6L321.6 882.9L311.3 887.9Z"/><path class="m" d="M320 893.1L330.4 888.6L321.6 882.9L311.3 887.9Z"/>
<path class="c10" d="M339.3 894.8L349.5 892.2L340.6 885.5L330.4 888.6Z"/><path class="m" d="M339.3 894.8L349.5 892.2L340.6 885.5L330.4 888.6Z"/>
<path class="c8" d="M271.1 907.7L281.7 898.1L273.2 894.9L262.7 904.9Z"/><path class="c9" d="M271.1 907.7L281.7 898.1L273.2 894.9L265.1 902.6L266.3 906.1Z"/><path class="m" d="M271.1 907.7L281.7 898.1L273.2 894.9L262.7 904.9Z"/>
<path class="c9" d="M290.3 901.8L300.8 894.2L292.2 890L281.7 898.1Z"/><path class="c10" d="M290.3 901.8L300.8 894.2L292.2 890L284.2 896.2L285.4 899.7Z"/><path class="m" d="M290.3 901.8L300.8 894.2L292.2 890L281.7 898.1Z"/>
<path class="c10" d="M309.6 898.8L320 893.1L311.3 887.9L300.8 894.2Z"/><path class="m" d="M309.6 898.8L320 893.1L311.3 887.9L300.8 894.2Z"/>
<path class="c10" d="M328.9 898.7L339.3 894.8L330.4 888.6L320 893.1Z"/><path class="m" d="M328.9 898.7L339.3 894.8L330.4 888.6L320 893.1Z"/>
<path class="c9" d="M279.7 910.8L290.3 901.8L281.7 898.1L271.1 907.7Z"/><path class="c10" d="M287.6 904.1L290.3 901.8L285.4 899.7Z"/><path class="m" d="M279.7 910.8L290.3 901.8L281.7 898.1L271.1 907.7Z"/>
<path class="c10" d="M299 905.9L309.6 898.8L300.8 894.2L290.3 901.8Z"/><path class="m" d="M299 905.9L309.6 898.8L300.8 894.2L290.3 901.8Z"/>
<path class="c10" d="M318.4 904L328.9 898.7L320 893.1L309.6 898.8Z"/><path class="m" d="M318.4 904L328.9 898.7L320 893.1L309.6 898.8Z"/>
<path class="c9" d="M288.4 914.4L299 905.9L290.3 901.8L279.7 910.8Z"/><path class="c10" d="M291.4 912L299 905.9L290.3 901.8L287.6 904.1Z"/><path class="m" d="M288.4 914.4L299 905.9L290.3 901.8L279.7 910.8Z"/>
<path class="c10" d="M307.8 910.5L318.4 904L309.6 898.8L299 905.9Z"/><path class="m" d="M307.8 910.5L318.4 904L309.6 898.8L299 905.9Z"/>
<path class="c9" d="M297.2 918.5L307.8 910.5L299 905.9L288.4 914.4Z"/><path class="c10" d="M297.2 918.5L307.8 910.5L299 905.9L291.4 912L293.6 916.8Z"/><path class="m" d="M297.2 918.5L307.8 910.5L299 905.9L288.4 914.4Z"/></g>
<path class="a" d="M179.3 783.4L186.1 927.6M186.1 927.6L297.5 1006.7M297.5 1006.7L433.3 939.1M186.1 927.6L190 925.9M185.7 917.8L187.9 916.8M185.2 907.9L189.1 906.3M184.7 898L187 897M184.3 888L188.2 886.3M183.8 877.9L186.1 876.9M183.3 867.7L187.2 866.1M182.8 857.5L185.1 856.5M182.3 847.1L186.3 845.5M181.8 836.7L184.2 835.8M181.3 826.2L185.3 824.6M180.8 815.6L183.2 814.7M180.3 805L184.4 803.4M179.8 794.2L182.2 793.3M179.3 783.4L183.4 781.9M297.5 1006.7L301.5 1004.8M297.5 1006.7L294.3 1004.4M292.6 1003.2L294.9 1002.1M303.6 1003.7L301.7 1002.4M287.6 999.7L289.9 998.6M309.6 1000.7L307.7 999.4M282.7 996.2L285 995.1M315.5 997.8L313.6 996.5M277.8 992.7L281.8 990.8M321.4 994.8L318.2 992.6M273 989.3L275.3 988.2M327.3 991.9L325.4 990.6M268.2 985.9L270.5 984.8M333.2 989L331.3 987.7M263.4 982.5L265.7 981.4M339 986.1L337.1 984.8M258.6 979.1L262.5 977.2M344.8 983.2L341.5 981M253.9 975.7L256.2 974.6M350.6 980.3L348.7 979M249.2 972.4L251.5 971.3M356.3 977.5L354.4 976.2M244.5 969.1L246.8 968M362 974.6L360.1 973.4M239.9 965.8L243.7 963.9M367.7 971.8L364.4 969.6M235.2 962.5L237.5 961.4M373.3 969L371.4 967.7M230.6 959.2L232.9 958.2M378.9 966.2L377 964.9M226.1 956L228.3 954.9M384.5 963.4L382.6 962.2M221.5 952.7L225.4 951M390 960.7L386.8 958.5M217 949.5L219.3 948.5M395.5 957.9L393.6 956.7M212.5 946.3L214.8 945.3M401 955.2L399.1 953.9M208.1 943.2L210.3 942.2M406.5 952.5L404.6 951.2M203.6 940L207.5 938.3M411.9 949.7L408.6 947.7M199.2 936.9L201.5 935.9M417.3 947.1L415.4 945.9M194.8 933.8L197.1 932.8M422.7 944.4L420.8 943.2M190.5 930.7L192.7 929.7M428 941.7L426.1 940.5M186.1 927.6L190 925.9M433.3 939.1L430 937"/>
<text class="tl" text-anchor="middle" dominant-baseline="central" transform="translate(168.8 913.9) rotate(-20)">0.4</text>
<text class="tl" text-anchor="middle" dominant-baseline="central" transform="translate(167.9 894.0) rotate(-20)">0.6</text>
<text class="tl" text-anchor="middle" dominant-baseline="central" transform="translate(166.9 873.7) rotate(-20)">0.8</text>
<text class="tl" text-anchor="middle" dominant-baseline="central" transform="translate(165.9 853.1) rotate(-20)">1.0</text>
<text class="tl" text-anchor="middle" dominant-baseline="central" transform="translate(164.9 832.2) rotate(-20)">1.2</text>
<text class="tl" text-anchor="middle" dominant-baseline="central" transform="translate(163.9 811.0) rotate(-20)">1.4</text>
<text class="tl" text-anchor="middle" dominant-baseline="central" transform="translate(162.9 789.4) rotate(-20)">1.6</text>
<text class="tl" text-anchor="middle" dominant-baseline="central" transform="translate(280.1 1014.3) rotate(-26.5)">-1.2</text>
<text class="tl" text-anchor="middle" dominant-baseline="central" transform="translate(310.5 1013.7) rotate(-26.5)">-1.2</text>
<text class="tl" text-anchor="middle" dominant-baseline="central" transform="translate(260.4 1000.3) rotate(-26.5)">-0.8</text>
<text class="tl" text-anchor="middle" dominant-baseline="central" transform="translate(334.4 1001.8) rotate(-26.5)">-0.8</text>
<text class="tl" text-anchor="middle" dominant-baseline="central" transform="translate(241.2 986.7) rotate(-26.5)">-0.4</text>
<text class="tl" text-anchor="middle" dominant-baseline="central" transform="translate(357.8 990.2) rotate(-26.5)">-0.4</text>
<text class="tl" text-anchor="middle" dominant-baseline="central" transform="translate(224.2 972.7) rotate(-26.5)">0.0</text>
<text class="tl" text-anchor="middle" dominant-baseline="central" transform="translate(379.8 980.4) rotate(-26.5)">0.0</text>
<text class="tl" text-anchor="middle" dominant-baseline="central" transform="translate(205.8 959.6) rotate(-26.5)">0.4</text>
<text class="tl" text-anchor="middle" dominant-baseline="central" transform="translate(402.1 969.3) rotate(-26.5)">0.4</text>
<text class="tl" text-anchor="middle" dominant-baseline="central" transform="translate(187.9 946.9) rotate(-26.5)">0.8</text>
<text class="tl" text-anchor="middle" dominant-baseline="central" transform="translate(424.0 958.3) rotate(-26.5)">0.8</text>
<text class="tl" text-anchor="middle" dominant-baseline="central" transform="translate(170.4 934.5) rotate(-26.5)">1.2</text>
<text class="tl" text-anchor="middle" dominant-baseline="central" transform="translate(445.4 947.7) rotate(-26.5)">1.2</text>
<text class="ax1" text-anchor="middle" dominant-baseline="central" transform="translate(144.5 860.8) rotate(87)">Pigment concentration</text>
<text class="ax2" text-anchor="middle" dominant-baseline="central" transform="translate(130.3 860.8) rotate(87)">(mg/ml)</text>
<text class="ax1" text-anchor="middle" dominant-baseline="central" transform="translate(202.3 989.8) rotate(38.5)">Inoculum age</text>
<text class="ax1" text-anchor="middle" dominant-baseline="central" transform="translate(391.1 996.7) rotate(-24)">pH</text>
<rect x="604.8" y="896.5" width="27" height="160.6" fill="#fff"/>
<rect x="607.3" y="899.2" width="22" height="10" class="l0" style="stroke:#111;stroke-width:1.3"/>
<text class="lg" x="673.5" y="909.1" text-anchor="end">0.419</text>
<rect x="607.3" y="913.7" width="22" height="10" class="l1" style="stroke:#111;stroke-width:1.3"/>
<text class="lg" x="673.5" y="923.6" text-anchor="end">0.487</text>
<rect x="607.3" y="928.1" width="22" height="10" class="l2" style="stroke:#111;stroke-width:1.3"/>
<text class="lg" x="673.5" y="938.0" text-anchor="end">0.555</text>
<rect x="607.3" y="942.6" width="22" height="10" class="l3" style="stroke:#111;stroke-width:1.3"/>
<text class="lg" x="673.5" y="952.5" text-anchor="end">0.623</text>
<rect x="607.3" y="957.0" width="22" height="10" class="l4" style="stroke:#111;stroke-width:1.3"/>
<text class="lg" x="673.5" y="966.9" text-anchor="end">0.692</text>
<rect x="607.3" y="971.5" width="22" height="10" class="l5" style="stroke:#111;stroke-width:1.3"/>
<text class="lg" x="673.5" y="981.4" text-anchor="end">0.760</text>
<rect x="607.3" y="985.9" width="22" height="10" class="l6" style="stroke:#111;stroke-width:1.3"/>
<text class="lg" x="673.5" y="995.8" text-anchor="end">0.828</text>
<rect x="607.3" y="1000.4" width="22" height="10" class="l7" style="stroke:#111;stroke-width:1.3"/>
<text class="lg" x="673.5" y="1010.2" text-anchor="end">0.896</text>
<rect x="607.3" y="1014.8" width="22" height="10" class="l8" style="stroke:#111;stroke-width:1.3"/>
<text class="lg" x="673.5" y="1024.7" text-anchor="end">0.965</text>
<rect x="607.3" y="1029.2" width="22" height="10" class="l9" style="stroke:#111;stroke-width:1.3"/>
<text class="lg" x="673.5" y="1039.1" text-anchor="end">1.033</text>
<rect x="607.3" y="1043.7" width="22" height="10" class="l10" style="stroke:#111;stroke-width:1.3"/>
<text class="lg" x="673.5" y="1053.6" text-anchor="end">above</text>
<rect x="4.6" y="2.4" width="19.4" height="32.5" fill="#fff" stroke="#1a1a1a" stroke-width="1.3"/>
<text class="lab" x="14.3" y="25.8" text-anchor="middle">A</text>
<rect x="4.6" y="358.5" width="19.4" height="32.5" fill="#fff" stroke="#1a1a1a" stroke-width="1.3"/>
<text class="lab" x="14.3" y="381.9" text-anchor="middle">B</text>
<rect x="4.6" y="715.9" width="19.4" height="32.5" fill="#fff" stroke="#1a1a1a" stroke-width="1.3"/>
<text class="lab" x="14.3" y="739.3" text-anchor="middle">C</text>
</svg>
</body></html>
